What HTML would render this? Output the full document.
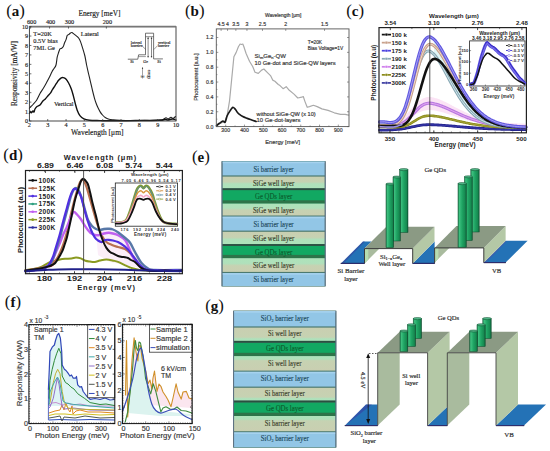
<!DOCTYPE html>
<html><head><meta charset="utf-8"><style>
html,body{margin:0;padding:0;background:#fff;}
body{width:550px;height:451px;overflow:hidden;}
svg{display:block;}
</style></head><body>
<svg width="550" height="451" viewBox="0 0 550 451">
<rect x="0" y="0" width="550" height="451" fill="#ffffff"/>
<defs>
<linearGradient id="wellDown" x1="0" y1="0" x2="0" y2="1"><stop offset="0" stop-color="#c9cfb1"/><stop offset="0.45" stop-color="#c6d2b2"/><stop offset="0.62" stop-color="#b0e0bb"/><stop offset="1" stop-color="#ade3ba"/></linearGradient>
<linearGradient id="wellUp" x1="0" y1="1" x2="0" y2="0"><stop offset="0" stop-color="#c9cfb1"/><stop offset="0.45" stop-color="#c6d2b2"/><stop offset="0.62" stop-color="#b0e0bb"/><stop offset="1" stop-color="#ade3ba"/></linearGradient>
<linearGradient id="wellDownG" x1="0" y1="0" x2="0" y2="1"><stop offset="0" stop-color="#c9cfb1"/><stop offset="0.72" stop-color="#c6d2b2"/><stop offset="0.84" stop-color="#b0e0bb"/><stop offset="1" stop-color="#ade3ba"/></linearGradient>
<linearGradient id="wellUpG" x1="0" y1="1" x2="0" y2="0"><stop offset="0" stop-color="#c9cfb1"/><stop offset="0.68" stop-color="#c6d2b2"/><stop offset="0.8" stop-color="#b0e0bb"/><stop offset="1" stop-color="#ade3ba"/></linearGradient>
<linearGradient id="pil" x1="0" y1="0" x2="1" y2="0"><stop offset="0" stop-color="#2a8a58"/><stop offset="0.18" stop-color="#3cbf7e"/><stop offset="0.5" stop-color="#1fa463"/><stop offset="0.85" stop-color="#168850"/><stop offset="1" stop-color="#0e5a36"/></linearGradient>
<linearGradient id="floorG" x1="0" y1="0" x2="1" y2="0"><stop offset="0" stop-color="#2a62b0"/><stop offset="1" stop-color="#2a7cc0"/></linearGradient>
</defs>
<text x="6.20" y="16.00" font-family="'Liberation Serif', serif" fill="#111"><tspan font-size="16.8">(</tspan><tspan font-size="15" font-weight="bold">a</tspan><tspan font-size="16.8">)</tspan></text>
<path d="M29.40,108.20 C29.67,107.92 30.40,107.12 31.00,106.50 C31.60,105.88 32.07,105.55 33.00,104.50 C33.93,103.45 35.43,102.02 36.60,100.20 C37.77,98.38 38.85,95.63 40.00,93.60 C41.15,91.57 42.38,89.88 43.50,88.00 C44.62,86.12 45.70,84.13 46.70,82.30 C47.70,80.47 48.62,78.77 49.50,77.00 C50.38,75.23 51.25,73.12 52.00,71.70 C52.75,70.28 53.33,69.62 54.00,68.50 C54.67,67.38 55.47,66.88 56.00,65.00 C56.53,63.12 56.77,59.28 57.20,57.20 C57.63,55.12 58.13,53.90 58.60,52.50 C59.07,51.10 59.48,49.50 60.00,48.80 C60.52,48.10 61.15,48.67 61.70,48.30 C62.25,47.93 62.85,47.43 63.30,46.60 C63.75,45.77 63.93,44.50 64.40,43.30 C64.87,42.10 65.63,40.70 66.10,39.40 C66.57,38.10 66.73,36.33 67.20,35.50 C67.67,34.67 68.35,34.82 68.90,34.40 C69.45,33.98 70.00,33.32 70.50,33.00 C71.00,32.68 71.35,32.35 71.90,32.50 C72.45,32.65 73.02,33.30 73.80,33.90 C74.58,34.50 75.77,35.37 76.60,36.10 C77.43,36.83 78.15,37.38 78.80,38.30 C79.45,39.22 79.85,39.93 80.50,41.60 C81.15,43.27 81.97,45.90 82.70,48.30 C83.43,50.70 84.25,53.22 84.90,56.00 C85.55,58.78 86.00,62.08 86.60,65.00 C87.20,67.92 87.83,70.62 88.50,73.50 C89.17,76.38 89.93,79.47 90.60,82.30 C91.27,85.13 91.85,87.83 92.50,90.50 C93.15,93.17 93.88,96.13 94.50,98.30 C95.12,100.47 95.63,101.95 96.20,103.50 C96.77,105.05 97.27,106.25 97.90,107.60 C98.53,108.95 99.23,110.37 100.00,111.60 C100.77,112.83 101.63,114.02 102.50,115.00 C103.37,115.98 104.12,116.80 105.20,117.50 C106.28,118.20 107.63,118.82 109.00,119.20 C110.37,119.58 111.57,119.63 113.40,119.80 C115.23,119.97 117.23,120.08 120.00,120.20 C122.77,120.32 126.67,120.48 130.00,120.50 C133.33,120.52 136.67,120.30 140.00,120.30 C143.33,120.30 147.00,120.55 150.00,120.50 C153.00,120.45 155.83,120.17 158.00,120.00 C160.17,119.83 161.67,119.87 163.00,119.50 C164.33,119.13 165.17,117.88 166.00,117.80 C166.83,117.72 167.17,119.10 168.00,119.00 C168.83,118.90 170.17,117.28 171.00,117.20 C171.83,117.12 172.25,118.62 173.00,118.50 C173.75,118.38 175.08,116.83 175.50,116.50" fill="none" stroke="#222" stroke-width="1.1" stroke-linejoin="round" stroke-linecap="round" />
<path d="M29.40,113.50 C29.58,113.17 30.15,111.62 30.50,111.50 C30.85,111.38 31.08,112.88 31.50,112.80 C31.92,112.72 32.58,111.13 33.00,111.00 C33.42,110.87 33.67,112.33 34.00,112.00 C34.33,111.67 34.50,109.92 35.00,109.00 C35.50,108.08 36.17,107.18 37.00,106.50 C37.83,105.82 39.08,105.73 40.00,104.90 C40.92,104.07 41.62,102.50 42.50,101.50 C43.38,100.50 44.38,99.85 45.30,98.90 C46.22,97.95 47.12,96.80 48.00,95.80 C48.88,94.80 49.85,93.95 50.60,92.90 C51.35,91.85 51.83,90.60 52.50,89.50 C53.17,88.40 53.92,87.35 54.60,86.30 C55.28,85.25 55.93,84.20 56.60,83.20 C57.27,82.20 57.82,81.18 58.60,80.30 C59.38,79.42 60.52,78.35 61.30,77.90 C62.08,77.45 62.53,77.42 63.30,77.60 C64.07,77.78 65.02,78.10 65.90,79.00 C66.78,79.90 67.70,81.33 68.60,83.00 C69.50,84.67 70.52,86.90 71.30,89.00 C72.08,91.10 72.63,93.17 73.30,95.60 C73.97,98.03 74.65,101.17 75.30,103.60 C75.95,106.03 76.43,108.20 77.20,110.20 C77.97,112.20 78.78,114.15 79.90,115.60 C81.02,117.05 82.35,118.13 83.90,118.90 C85.45,119.67 86.52,119.92 89.20,120.20 C91.88,120.48 96.53,120.50 100.00,120.60 C103.47,120.70 103.33,120.80 110.00,120.80 C116.67,120.80 131.67,120.67 140.00,120.60 C148.33,120.53 155.83,120.58 160.00,120.40 C164.17,120.22 163.67,119.57 165.00,119.50 C166.33,119.43 166.83,120.08 168.00,120.00 C169.17,119.92 170.83,119.08 172.00,119.00 C173.17,118.92 174.50,119.42 175.00,119.50" fill="none" stroke="#111" stroke-width="1.4" stroke-linejoin="round" stroke-linecap="round" />
<rect x="29.40" y="26.60" width="146.60" height="94.40" fill="none" stroke="#333" stroke-width="0.9" />
<line x1="29.40" y1="26.60" x2="176.00" y2="26.60" stroke="#777" stroke-width="1.8" />
<line x1="29.40" y1="121.00" x2="31.40" y2="121.00" stroke="#333" stroke-width="0.7" />
<text x="28.10" y="123.20" font-size="6.2" font-family="'Liberation Serif', serif" fill="#222" text-anchor="end" stroke="#222" stroke-width="0.15">0</text>
<line x1="29.40" y1="111.56" x2="31.40" y2="111.56" stroke="#333" stroke-width="0.7" />
<text x="28.10" y="113.76" font-size="6.2" font-family="'Liberation Serif', serif" fill="#222" text-anchor="end" stroke="#222" stroke-width="0.15">1</text>
<line x1="29.40" y1="102.12" x2="31.40" y2="102.12" stroke="#333" stroke-width="0.7" />
<text x="28.10" y="104.32" font-size="6.2" font-family="'Liberation Serif', serif" fill="#222" text-anchor="end" stroke="#222" stroke-width="0.15">2</text>
<line x1="29.40" y1="92.68" x2="31.40" y2="92.68" stroke="#333" stroke-width="0.7" />
<text x="28.10" y="94.88" font-size="6.2" font-family="'Liberation Serif', serif" fill="#222" text-anchor="end" stroke="#222" stroke-width="0.15">3</text>
<line x1="29.40" y1="83.24" x2="31.40" y2="83.24" stroke="#333" stroke-width="0.7" />
<text x="28.10" y="85.44" font-size="6.2" font-family="'Liberation Serif', serif" fill="#222" text-anchor="end" stroke="#222" stroke-width="0.15">4</text>
<line x1="29.40" y1="73.80" x2="31.40" y2="73.80" stroke="#333" stroke-width="0.7" />
<text x="28.10" y="76.00" font-size="6.2" font-family="'Liberation Serif', serif" fill="#222" text-anchor="end" stroke="#222" stroke-width="0.15">5</text>
<line x1="29.40" y1="64.36" x2="31.40" y2="64.36" stroke="#333" stroke-width="0.7" />
<text x="28.10" y="66.56" font-size="6.2" font-family="'Liberation Serif', serif" fill="#222" text-anchor="end" stroke="#222" stroke-width="0.15">6</text>
<line x1="29.40" y1="54.92" x2="31.40" y2="54.92" stroke="#333" stroke-width="0.7" />
<text x="28.10" y="57.12" font-size="6.2" font-family="'Liberation Serif', serif" fill="#222" text-anchor="end" stroke="#222" stroke-width="0.15">7</text>
<line x1="29.40" y1="45.48" x2="31.40" y2="45.48" stroke="#333" stroke-width="0.7" />
<text x="28.10" y="47.68" font-size="6.2" font-family="'Liberation Serif', serif" fill="#222" text-anchor="end" stroke="#222" stroke-width="0.15">8</text>
<line x1="29.40" y1="36.04" x2="31.40" y2="36.04" stroke="#333" stroke-width="0.7" />
<text x="28.10" y="38.24" font-size="6.2" font-family="'Liberation Serif', serif" fill="#222" text-anchor="end" stroke="#222" stroke-width="0.15">9</text>
<line x1="29.40" y1="26.60" x2="31.40" y2="26.60" stroke="#333" stroke-width="0.7" />
<text x="28.10" y="28.80" font-size="6.2" font-family="'Liberation Serif', serif" fill="#222" text-anchor="end" stroke="#222" stroke-width="0.15">10</text>
<line x1="29.40" y1="121.00" x2="29.40" y2="119.00" stroke="#333" stroke-width="0.7" />
<text x="29.40" y="126.60" font-size="6.2" font-family="'Liberation Serif', serif" fill="#222" text-anchor="middle" stroke="#222" stroke-width="0.15">2</text>
<line x1="47.72" y1="121.00" x2="47.72" y2="119.00" stroke="#333" stroke-width="0.7" />
<text x="47.72" y="126.60" font-size="6.2" font-family="'Liberation Serif', serif" fill="#222" text-anchor="middle" stroke="#222" stroke-width="0.15">3</text>
<line x1="66.05" y1="121.00" x2="66.05" y2="119.00" stroke="#333" stroke-width="0.7" />
<text x="66.05" y="126.60" font-size="6.2" font-family="'Liberation Serif', serif" fill="#222" text-anchor="middle" stroke="#222" stroke-width="0.15">4</text>
<line x1="84.38" y1="121.00" x2="84.38" y2="119.00" stroke="#333" stroke-width="0.7" />
<text x="84.38" y="126.60" font-size="6.2" font-family="'Liberation Serif', serif" fill="#222" text-anchor="middle" stroke="#222" stroke-width="0.15">5</text>
<line x1="102.70" y1="121.00" x2="102.70" y2="119.00" stroke="#333" stroke-width="0.7" />
<text x="102.70" y="126.60" font-size="6.2" font-family="'Liberation Serif', serif" fill="#222" text-anchor="middle" stroke="#222" stroke-width="0.15">6</text>
<line x1="121.03" y1="121.00" x2="121.03" y2="119.00" stroke="#333" stroke-width="0.7" />
<text x="121.03" y="126.60" font-size="6.2" font-family="'Liberation Serif', serif" fill="#222" text-anchor="middle" stroke="#222" stroke-width="0.15">7</text>
<line x1="139.35" y1="121.00" x2="139.35" y2="119.00" stroke="#333" stroke-width="0.7" />
<text x="139.35" y="126.60" font-size="6.2" font-family="'Liberation Serif', serif" fill="#222" text-anchor="middle" stroke="#222" stroke-width="0.15">8</text>
<line x1="157.68" y1="121.00" x2="157.68" y2="119.00" stroke="#333" stroke-width="0.7" />
<text x="157.68" y="126.60" font-size="6.2" font-family="'Liberation Serif', serif" fill="#222" text-anchor="middle" stroke="#222" stroke-width="0.15">9</text>
<line x1="176.00" y1="121.00" x2="176.00" y2="119.00" stroke="#333" stroke-width="0.7" />
<text x="176.00" y="126.60" font-size="6.2" font-family="'Liberation Serif', serif" fill="#222" text-anchor="middle" stroke="#222" stroke-width="0.15">10</text>
<line x1="30.62" y1="26.60" x2="30.62" y2="28.60" stroke="#333" stroke-width="0.7" />
<text x="31.62" y="24.00" font-size="6.2" font-family="'Liberation Serif', serif" fill="#222" text-anchor="middle" stroke="#222" stroke-width="0.15">600</text>
<line x1="49.56" y1="26.60" x2="49.56" y2="28.60" stroke="#333" stroke-width="0.7" />
<text x="50.56" y="24.00" font-size="6.2" font-family="'Liberation Serif', serif" fill="#222" text-anchor="middle" stroke="#222" stroke-width="0.15">400</text>
<line x1="68.49" y1="26.60" x2="68.49" y2="28.60" stroke="#333" stroke-width="0.7" />
<text x="69.49" y="24.00" font-size="6.2" font-family="'Liberation Serif', serif" fill="#222" text-anchor="middle" stroke="#222" stroke-width="0.15">300</text>
<line x1="106.37" y1="26.60" x2="106.37" y2="28.60" stroke="#333" stroke-width="0.7" />
<text x="107.37" y="24.00" font-size="6.2" font-family="'Liberation Serif', serif" fill="#222" text-anchor="middle" stroke="#222" stroke-width="0.15">200</text>
<text x="97.30" y="134.90" font-size="7.5" font-family="'Liberation Serif', serif" fill="#222" text-anchor="middle" stroke="#222" stroke-width="0.15">Wavelength [μm]</text>
<text x="99.50" y="15.80" font-size="7.35" font-family="'Liberation Serif', serif" fill="#222" text-anchor="middle" stroke="#222" stroke-width="0.15">Energy [meV]</text>
<text x="17.20" y="73.50" font-size="7.35" font-family="'Liberation Serif', serif" fill="#222" text-anchor="middle" transform="rotate(-90 17.20 73.50)" stroke="#222" stroke-width="0.15">Responsivity [mA/W]</text>
<text x="33.30" y="35.60" font-size="6.4" font-family="'Liberation Serif', serif" fill="#222" stroke="#222" stroke-width="0.15">T=20K</text>
<text x="33.30" y="42.80" font-size="6.4" font-family="'Liberation Serif', serif" fill="#222" stroke="#222" stroke-width="0.15">0.5V bias</text>
<text x="33.30" y="50.00" font-size="6.4" font-family="'Liberation Serif', serif" fill="#222" stroke="#222" stroke-width="0.15">7ML Ge</text>
<text x="80.80" y="36.20" font-size="6.4" font-family="'Liberation Serif', serif" fill="#222" stroke="#222" stroke-width="0.15">Lateral</text>
<text x="54.00" y="105.50" font-size="6.3" font-family="'Liberation Serif', serif" fill="#222" stroke="#222" stroke-width="0.15">Vertical</text>
<polyline points="128.20,59.20 137.80,59.20 138.60,54.80 145.50,54.80 145.50,33.20 153.60,33.20 153.60,58.90 162.50,58.90" fill="none" stroke="#3a3a3a" stroke-width="0.7" stroke-linejoin="round" stroke-linecap="round" />
<polyline points="138.80,56.60 145.50,56.60" fill="none" stroke="#3a3a3a" stroke-width="0.5" stroke-linejoin="round" stroke-linecap="round" />
<line x1="145.50" y1="36.70" x2="153.60" y2="36.70" stroke="#3a3a3a" stroke-width="0.6" />
<line x1="148.10" y1="37.50" x2="148.10" y2="56.80" stroke="#3a3a3a" stroke-width="0.6" />
<line x1="151.50" y1="37.50" x2="151.50" y2="56.80" stroke="#3a3a3a" stroke-width="0.6" />
<polygon points="148.10,36.90 147.30,39.00 148.90,39.00" fill="#3a3a3a" stroke="none" stroke-width="1" />
<polygon points="151.50,36.90 150.70,39.00 152.30,39.00" fill="#3a3a3a" stroke="none" stroke-width="1" />
<circle cx="148.1" cy="56.8" r="0.7" fill="#333"/><circle cx="151.5" cy="56.8" r="0.7" fill="#333"/>
<text x="130.80" y="43.60" font-size="4.4" font-family="'Liberation Serif', serif" fill="#333" stroke="#222" stroke-width="0.15">lateral</text>
<text x="130.80" y="47.20" font-size="4.4" font-family="'Liberation Serif', serif" fill="#333" stroke="#222" stroke-width="0.15">barrier</text>
<text x="157.90" y="43.60" font-size="4.2" font-family="'Liberation Serif', serif" fill="#333" stroke="#222" stroke-width="0.15">vertical</text>
<text x="157.90" y="47.20" font-size="4.2" font-family="'Liberation Serif', serif" fill="#333" stroke="#222" stroke-width="0.15">barrier</text>
<line x1="141.80" y1="45.60" x2="145.80" y2="49.50" stroke="#3a3a3a" stroke-width="0.5" />
<line x1="157.60" y1="45.60" x2="153.90" y2="49.50" stroke="#3a3a3a" stroke-width="0.5" />
<text x="130.20" y="62.80" font-size="4.2" font-family="'Liberation Serif', serif" fill="#333" stroke="#222" stroke-width="0.15">Si</text>
<text x="143.30" y="62.80" font-size="4.2" font-family="'Liberation Serif', serif" fill="#333" stroke="#222" stroke-width="0.15">Ge</text>
<text x="157.30" y="62.80" font-size="4.2" font-family="'Liberation Serif', serif" fill="#333" stroke="#222" stroke-width="0.15">Si</text>
<line x1="142.50" y1="67.50" x2="142.50" y2="78.50" stroke="#444" stroke-width="0.5" />
<polygon points="142.50,67.00 141.80,69.00 143.20,69.00" fill="#444" stroke="none" stroke-width="1" />
<text x="143.80" y="77.80" font-size="4.0" font-family="'Liberation Serif', serif" fill="#444" transform="rotate(-90 143.80 77.80)" stroke="#222" stroke-width="0.15">E</text>
<text x="148.00" y="69.80" font-size="3.4" font-family="'Liberation Serif', serif" fill="#555" transform="rotate(90 148.00 69.80)" stroke="#222" stroke-width="0.15">energy</text>
<text x="185.00" y="16.00" font-family="'Liberation Serif', serif" fill="#111"><tspan font-size="16.8">(</tspan><tspan font-size="15" font-weight="bold">b</tspan><tspan font-size="16.8">)</tspan></text>
<path d="M216.60,125.50 L219.00,124.00 L222.90,122.20 L225.10,121.00 L227.30,114.40 L229.50,101.10 L231.70,79.00 L233.90,56.80 L236.20,52.40 L238.40,46.80 L240.10,44.00 L241.50,44.50 L242.80,44.00 L243.90,46.80 L246.10,53.50 L249.50,61.20 L252.80,66.80 L255.00,72.30 L258.30,73.40 L261.60,70.10 L263.90,69.00 L267.20,72.30 L270.50,75.60 L272.70,80.10 L274.90,81.20 L278.30,84.50 L280.00,85.60 L283.10,88.70 L286.20,86.70 L289.30,90.30 L294.00,94.10 L297.80,98.00 L301.70,97.20 L303.30,96.50 L304.80,101.10 L307.20,107.30 L309.50,106.60 L313.40,105.30 L317.20,106.60 L321.90,108.90 L328.10,110.40 L334.30,112.80 L340.50,114.30 L345.20,114.30 L348.60,115.10" fill="none" stroke="#aaaaaa" stroke-width="1.2" stroke-linejoin="round" stroke-linecap="round" />
<path d="M216.60,125.50 C217.08,125.13 218.45,124.05 219.50,123.30 C220.55,122.55 221.97,121.18 222.90,121.00 C223.83,120.82 224.37,123.12 225.10,122.20 C225.83,121.28 226.38,117.53 227.30,115.50 C228.22,113.47 229.68,111.37 230.60,110.00 C231.52,108.63 232.07,107.48 232.80,107.30 C233.53,107.12 234.25,108.08 235.00,108.90 C235.75,109.72 236.55,111.28 237.30,112.20 C238.05,113.12 238.58,113.67 239.50,114.40 C240.42,115.13 241.52,115.93 242.80,116.60 C244.08,117.27 245.72,117.83 247.20,118.40 C248.68,118.97 250.22,119.48 251.70,120.00 C253.18,120.52 255.37,121.25 256.10,121.50" fill="none" stroke="#1a1a1a" stroke-width="1.7" stroke-linejoin="round" stroke-linecap="round" />
<rect x="216.30" y="28.90" width="132.70" height="97.70" fill="none" stroke="#555" stroke-width="0.9" />
<line x1="216.30" y1="126.60" x2="218.30" y2="126.60" stroke="#555" stroke-width="0.6" />
<line x1="349.00" y1="126.60" x2="347.00" y2="126.60" stroke="#555" stroke-width="0.6" />
<text x="213.30" y="128.50" font-size="5.2" font-family="'Liberation Sans', sans-serif" fill="#3a3a3a" text-anchor="end" stroke="#3a3a3a" stroke-width="0.18">0.0</text>
<line x1="216.30" y1="111.75" x2="218.30" y2="111.75" stroke="#555" stroke-width="0.6" />
<line x1="349.00" y1="111.75" x2="347.00" y2="111.75" stroke="#555" stroke-width="0.6" />
<line x1="216.30" y1="119.15" x2="217.50" y2="119.15" stroke="#555" stroke-width="0.5" />
<text x="213.30" y="113.65" font-size="5.2" font-family="'Liberation Sans', sans-serif" fill="#3a3a3a" text-anchor="end" stroke="#3a3a3a" stroke-width="0.18">0.2</text>
<line x1="216.30" y1="96.90" x2="218.30" y2="96.90" stroke="#555" stroke-width="0.6" />
<line x1="349.00" y1="96.90" x2="347.00" y2="96.90" stroke="#555" stroke-width="0.6" />
<line x1="216.30" y1="104.30" x2="217.50" y2="104.30" stroke="#555" stroke-width="0.5" />
<text x="213.30" y="98.80" font-size="5.2" font-family="'Liberation Sans', sans-serif" fill="#3a3a3a" text-anchor="end" stroke="#3a3a3a" stroke-width="0.18">0.4</text>
<line x1="216.30" y1="82.05" x2="218.30" y2="82.05" stroke="#555" stroke-width="0.6" />
<line x1="349.00" y1="82.05" x2="347.00" y2="82.05" stroke="#555" stroke-width="0.6" />
<line x1="216.30" y1="89.45" x2="217.50" y2="89.45" stroke="#555" stroke-width="0.5" />
<text x="213.30" y="83.95" font-size="5.2" font-family="'Liberation Sans', sans-serif" fill="#3a3a3a" text-anchor="end" stroke="#3a3a3a" stroke-width="0.18">0.6</text>
<line x1="216.30" y1="67.20" x2="218.30" y2="67.20" stroke="#555" stroke-width="0.6" />
<line x1="349.00" y1="67.20" x2="347.00" y2="67.20" stroke="#555" stroke-width="0.6" />
<line x1="216.30" y1="74.60" x2="217.50" y2="74.60" stroke="#555" stroke-width="0.5" />
<text x="213.30" y="69.10" font-size="5.2" font-family="'Liberation Sans', sans-serif" fill="#3a3a3a" text-anchor="end" stroke="#3a3a3a" stroke-width="0.18">0.8</text>
<line x1="216.30" y1="52.35" x2="218.30" y2="52.35" stroke="#555" stroke-width="0.6" />
<line x1="349.00" y1="52.35" x2="347.00" y2="52.35" stroke="#555" stroke-width="0.6" />
<line x1="216.30" y1="59.75" x2="217.50" y2="59.75" stroke="#555" stroke-width="0.5" />
<text x="213.30" y="54.25" font-size="5.2" font-family="'Liberation Sans', sans-serif" fill="#3a3a3a" text-anchor="end" stroke="#3a3a3a" stroke-width="0.18">1.0</text>
<line x1="216.30" y1="37.50" x2="218.30" y2="37.50" stroke="#555" stroke-width="0.6" />
<line x1="349.00" y1="37.50" x2="347.00" y2="37.50" stroke="#555" stroke-width="0.6" />
<line x1="216.30" y1="44.90" x2="217.50" y2="44.90" stroke="#555" stroke-width="0.5" />
<text x="213.30" y="39.40" font-size="5.2" font-family="'Liberation Sans', sans-serif" fill="#3a3a3a" text-anchor="end" stroke="#3a3a3a" stroke-width="0.18">1.2</text>
<line x1="225.69" y1="126.60" x2="225.69" y2="124.60" stroke="#555" stroke-width="0.6" />
<line x1="216.28" y1="126.60" x2="216.28" y2="125.40" stroke="#555" stroke-width="0.5" />
<text x="225.69" y="132.00" font-size="5.2" font-family="'Liberation Sans', sans-serif" fill="#3a3a3a" text-anchor="middle" stroke="#3a3a3a" stroke-width="0.18">300</text>
<line x1="244.46" y1="126.60" x2="244.46" y2="124.60" stroke="#555" stroke-width="0.6" />
<line x1="235.06" y1="126.60" x2="235.06" y2="125.40" stroke="#555" stroke-width="0.5" />
<text x="244.46" y="132.00" font-size="5.2" font-family="'Liberation Sans', sans-serif" fill="#3a3a3a" text-anchor="middle" stroke="#3a3a3a" stroke-width="0.18">400</text>
<line x1="263.23" y1="126.60" x2="263.23" y2="124.60" stroke="#555" stroke-width="0.6" />
<line x1="253.83" y1="126.60" x2="253.83" y2="125.40" stroke="#555" stroke-width="0.5" />
<text x="263.23" y="132.00" font-size="5.2" font-family="'Liberation Sans', sans-serif" fill="#3a3a3a" text-anchor="middle" stroke="#3a3a3a" stroke-width="0.18">500</text>
<line x1="282.00" y1="126.60" x2="282.00" y2="124.60" stroke="#555" stroke-width="0.6" />
<line x1="272.60" y1="126.60" x2="272.60" y2="125.40" stroke="#555" stroke-width="0.5" />
<text x="282.00" y="132.00" font-size="5.2" font-family="'Liberation Sans', sans-serif" fill="#3a3a3a" text-anchor="middle" stroke="#3a3a3a" stroke-width="0.18">600</text>
<line x1="300.76" y1="126.60" x2="300.76" y2="124.60" stroke="#555" stroke-width="0.6" />
<line x1="291.37" y1="126.60" x2="291.37" y2="125.40" stroke="#555" stroke-width="0.5" />
<text x="300.76" y="132.00" font-size="5.2" font-family="'Liberation Sans', sans-serif" fill="#3a3a3a" text-anchor="middle" stroke="#3a3a3a" stroke-width="0.18">700</text>
<line x1="319.54" y1="126.60" x2="319.54" y2="124.60" stroke="#555" stroke-width="0.6" />
<line x1="310.14" y1="126.60" x2="310.14" y2="125.40" stroke="#555" stroke-width="0.5" />
<text x="319.54" y="132.00" font-size="5.2" font-family="'Liberation Sans', sans-serif" fill="#3a3a3a" text-anchor="middle" stroke="#3a3a3a" stroke-width="0.18">800</text>
<line x1="338.31" y1="126.60" x2="338.31" y2="124.60" stroke="#555" stroke-width="0.6" />
<line x1="328.91" y1="126.60" x2="328.91" y2="125.40" stroke="#555" stroke-width="0.5" />
<text x="338.31" y="132.00" font-size="5.2" font-family="'Liberation Sans', sans-serif" fill="#3a3a3a" text-anchor="middle" stroke="#3a3a3a" stroke-width="0.18">900</text>
<line x1="221.10" y1="28.90" x2="221.10" y2="30.90" stroke="#555" stroke-width="0.6" />
<text x="221.10" y="26.30" font-size="5.2" font-family="'Liberation Sans', sans-serif" fill="#3a3a3a" text-anchor="middle" stroke="#3a3a3a" stroke-width="0.18">4.5</text>
<line x1="227.56" y1="28.90" x2="227.56" y2="30.90" stroke="#555" stroke-width="0.6" />
<text x="227.56" y="26.30" font-size="5.2" font-family="'Liberation Sans', sans-serif" fill="#3a3a3a" text-anchor="middle" stroke="#3a3a3a" stroke-width="0.18">4</text>
<line x1="235.87" y1="28.90" x2="235.87" y2="30.90" stroke="#555" stroke-width="0.6" />
<text x="235.87" y="26.30" font-size="5.2" font-family="'Liberation Sans', sans-serif" fill="#3a3a3a" text-anchor="middle" stroke="#3a3a3a" stroke-width="0.18">3.5</text>
<line x1="246.96" y1="28.90" x2="246.96" y2="30.90" stroke="#555" stroke-width="0.6" />
<text x="246.96" y="26.30" font-size="5.2" font-family="'Liberation Sans', sans-serif" fill="#3a3a3a" text-anchor="middle" stroke="#3a3a3a" stroke-width="0.18">3</text>
<line x1="262.47" y1="28.90" x2="262.47" y2="30.90" stroke="#555" stroke-width="0.6" />
<text x="262.47" y="26.30" font-size="5.2" font-family="'Liberation Sans', sans-serif" fill="#3a3a3a" text-anchor="middle" stroke="#3a3a3a" stroke-width="0.18">2.5</text>
<line x1="285.75" y1="28.90" x2="285.75" y2="30.90" stroke="#555" stroke-width="0.6" />
<text x="285.75" y="26.30" font-size="5.2" font-family="'Liberation Sans', sans-serif" fill="#3a3a3a" text-anchor="middle" stroke="#3a3a3a" stroke-width="0.18">2</text>
<line x1="324.54" y1="28.90" x2="324.54" y2="30.90" stroke="#555" stroke-width="0.6" />
<text x="324.54" y="26.30" font-size="5.2" font-family="'Liberation Sans', sans-serif" fill="#3a3a3a" text-anchor="middle" stroke="#3a3a3a" stroke-width="0.18">1.5</text>
<text x="283.20" y="16.90" font-size="4.86" font-family="'Liberation Sans', sans-serif" fill="#3a3a3a" text-anchor="middle" stroke="#3a3a3a" stroke-width="0.18">Wavelength [μm]</text>
<text x="282.70" y="143.60" font-size="5.78" font-family="'Liberation Sans', sans-serif" fill="#3a3a3a" text-anchor="middle" stroke="#3a3a3a" stroke-width="0.18">Energy [meV]</text>
<text x="198.10" y="77.00" font-size="5.77" font-family="'Liberation Sans', sans-serif" fill="#3a3a3a" text-anchor="middle" transform="rotate(-90 198.10 77.00)" stroke="#3a3a3a" stroke-width="0.18">Photocurrent [a.u.]</text>
<text x="254.6" y="57.6" font-size="6.0" font-family="'Liberation Sans', sans-serif" fill="#333" stroke="#3a3a3a" stroke-width="0.18">Si<tspan font-size="4.0" dy="1.6">m</tspan><tspan dy="-1.6">Ge</tspan><tspan font-size="4.0" dy="1.6">n</tspan><tspan dy="-1.6">-QW</tspan></text>
<text x="254.60" y="65.30" font-size="5.83" font-family="'Liberation Sans', sans-serif" fill="#333" stroke="#3a3a3a" stroke-width="0.18">10 Ge-dot and SiGe-QW layers</text>
<text x="307.80" y="43.80" font-size="4.8" font-family="'Liberation Sans', sans-serif" fill="#3a3a3a" stroke="#3a3a3a" stroke-width="0.18">T=20K</text>
<text x="307.80" y="49.90" font-size="4.8" font-family="'Liberation Sans', sans-serif" fill="#3a3a3a" stroke="#3a3a3a" stroke-width="0.18">Bias Voltage=1V</text>
<text x="256.60" y="116.40" font-size="5.6" font-family="'Liberation Sans', sans-serif" fill="#333" stroke="#3a3a3a" stroke-width="0.18">without SiGe-QW (x 10)</text>
<text x="256.60" y="122.20" font-size="5.9" font-family="'Liberation Sans', sans-serif" fill="#333" stroke="#3a3a3a" stroke-width="0.18">10 Ge-dot-layers</text>
<text x="346.20" y="15.90" font-family="'Liberation Serif', serif" fill="#111"><tspan font-size="16.8">(</tspan><tspan font-size="15" font-weight="bold">c</tspan><tspan font-size="16.8">)</tspan></text>
<path d="M398.00,120.56 C398.24,120.43 398.95,120.05 399.42,119.77 C399.89,119.49 400.37,119.18 400.84,118.86 C401.32,118.53 401.79,118.19 402.26,117.82 C402.74,117.46 403.21,117.08 403.68,116.67 C404.16,116.27 404.63,115.85 405.11,115.41 C405.58,114.97 406.05,114.51 406.53,114.04 C407.00,113.57 407.47,113.08 407.95,112.59 C408.42,112.09 408.90,111.58 409.37,111.07 C409.84,110.55 410.32,110.03 410.79,109.50 C411.26,108.98 411.74,108.45 412.21,107.93 C412.68,107.40 413.16,106.88 413.63,106.36 C414.11,105.85 414.58,105.34 415.05,104.84 C415.53,104.35 416.00,103.86 416.47,103.40 C416.95,102.93 417.42,102.48 417.90,102.06 C418.37,101.63 418.84,101.22 419.32,100.84 C419.79,100.46 420.26,100.11 420.74,99.78 C421.21,99.45 421.69,99.15 422.16,98.88 C422.63,98.61 423.11,98.37 423.58,98.16 C424.05,97.95 424.53,97.78 425.00,97.63 C425.47,97.48 425.95,97.36 426.42,97.26 C426.90,97.17 427.37,97.11 427.84,97.06 C428.32,97.02 428.79,97.00 429.26,97.00 C429.74,97.00 430.21,97.03 430.69,97.07 C431.16,97.11 431.63,97.18 432.11,97.26 C432.58,97.34 433.05,97.43 433.53,97.54 C434.00,97.65 434.48,97.77 434.95,97.90 C435.42,98.03 435.90,98.17 436.37,98.32 C436.84,98.47 437.32,98.63 437.79,98.80 C438.26,98.97 438.74,99.14 439.21,99.33 C439.69,99.51 440.16,99.70 440.63,99.90 C441.11,100.10 441.58,100.30 442.05,100.51 C442.53,100.72 443.00,100.94 443.48,101.16 C443.95,101.38 444.42,101.61 444.90,101.83 C445.37,102.06 445.84,102.30 446.32,102.53 C446.79,102.77 447.27,103.01 447.74,103.25 C448.21,103.49 448.69,103.73 449.16,103.98 C449.63,104.22 450.11,104.47 450.58,104.72 C451.05,104.96 451.53,105.21 452.00,105.46 C452.48,105.71 452.95,105.96 453.42,106.21 C453.90,106.46 454.37,106.71 454.84,106.96 C455.32,107.21 455.79,107.46 456.27,107.71 C456.74,107.95 457.21,108.20 457.69,108.45 C458.16,108.69 458.63,108.94 459.11,109.18 C459.58,109.42 460.06,109.66 460.53,109.90 C461.00,110.13 461.48,110.37 461.95,110.60 C462.42,110.84 462.90,111.07 463.37,111.29 C463.84,111.52 464.32,111.75 464.79,111.97 C465.27,112.19 465.74,112.41 466.21,112.62 C466.69,112.84 467.16,113.05 467.63,113.26 C468.11,113.47 468.58,113.68 469.06,113.88 C469.53,114.08 470.00,114.28 470.48,114.47 C470.95,114.67 471.42,114.86 471.90,115.05 C472.37,115.24 472.85,115.42 473.32,115.60 C473.79,115.78 474.27,115.96 474.74,116.13 C475.21,116.30 475.69,116.47 476.16,116.64 C476.63,116.80 477.11,116.96 477.58,117.12 C478.06,117.28 478.53,117.43 479.00,117.58 C479.48,117.73 479.95,117.88 480.42,118.02 C480.90,118.16 481.37,118.30 481.85,118.44 C482.32,118.57 482.79,118.70 483.27,118.83 C483.74,118.96 484.21,119.08 484.69,119.21 C485.16,119.33 485.64,119.44 486.11,119.56 C486.58,119.67 487.06,119.78 487.53,119.89 C488.00,120.00 488.48,120.10 488.95,120.20 C489.42,120.30 489.90,120.40 490.37,120.50 C490.85,120.59 491.32,120.68 491.79,120.77 C492.27,120.86 492.74,120.94 493.21,121.03 C493.69,121.11 494.16,121.19 494.64,121.27 C495.11,121.35 495.58,121.42 496.06,121.49 C496.53,121.56 497.00,121.63 497.48,121.70 C497.95,121.77 498.43,121.83 498.90,121.89 C499.37,121.96 499.85,122.02 500.32,122.08 C500.79,122.13 501.27,122.19 501.74,122.24 C502.21,122.30 502.69,122.35 503.16,122.40 C503.64,122.45 504.11,122.49 504.58,122.54 C505.06,122.59 505.53,122.63 506.00,122.67 C506.48,122.71 506.95,122.75 507.43,122.79 C507.90,122.83 508.37,122.87 508.85,122.90 C509.32,122.94 509.79,122.97 510.27,123.01 C510.74,123.04 511.22,123.07 511.69,123.10 C512.16,123.13 512.64,123.16 513.11,123.19 C513.58,123.21 514.06,123.24 514.53,123.27 C515.00,123.29 515.48,123.31 515.95,123.34 C516.43,123.36 516.90,123.38 517.37,123.40 C517.85,123.42 518.32,123.44 518.79,123.46 C519.27,123.48 519.74,123.50 520.22,123.52 C520.69,123.53 521.16,123.55 521.64,123.57 C522.11,123.58 522.58,123.60 523.06,123.61 C523.53,123.63 524.01,123.64 524.48,123.65 C524.95,123.66 525.66,123.68 525.90,123.69 L525.90,126.80 L524.48,126.78 L523.06,126.75 L521.64,126.73 L520.22,126.70 L518.79,126.66 L517.37,126.62 L515.95,126.58 L514.53,126.54 L513.11,126.49 L511.69,126.43 L510.27,126.37 L508.85,126.31 L507.43,126.24 L506.00,126.16 L504.58,126.08 L503.16,125.99 L501.74,125.89 L500.32,125.79 L498.90,125.67 L497.48,125.55 L496.06,125.42 L494.64,125.28 L493.21,125.13 L491.79,124.97 L490.37,124.79 L488.95,124.61 L487.53,124.41 L486.11,124.20 L484.69,123.98 L483.27,123.75 L481.85,123.50 L480.42,123.24 L479.00,122.96 L477.58,122.67 L476.16,122.36 L474.74,122.04 L473.32,121.71 L471.90,121.36 L470.48,121.00 L469.06,120.63 L467.63,120.24 L466.21,119.84 L464.79,119.42 L463.37,119.00 L461.95,118.56 L460.53,118.12 L459.11,117.67 L457.69,117.21 L456.27,116.74 L454.84,116.27 L453.42,115.80 L452.00,115.33 L450.58,114.86 L449.16,114.39 L447.74,113.93 L446.32,113.48 L444.90,113.04 L443.48,112.62 L442.05,112.21 L440.63,111.83 L439.21,111.47 L437.79,111.13 L436.37,110.83 L434.95,110.56 L433.53,110.34 L432.11,110.16 L430.69,110.04 L429.26,110.00 L427.84,110.04 L426.42,110.17 L425.00,110.39 L423.58,110.73 L422.16,111.19 L420.74,111.75 L419.32,112.42 L417.90,113.18 L416.47,114.03 L415.05,114.94 L413.63,115.89 L412.21,116.88 L410.79,117.87 L409.37,118.86 L407.95,119.81 L406.53,120.73 L405.11,121.59 L403.68,122.39 L402.26,123.11 L400.84,123.76 L399.42,124.34 L398.00,124.84 Z" fill="#fbe3f5"/>
<path d="M434.00,39.41 C434.17,39.58 434.68,40.08 435.02,40.45 C435.36,40.82 435.70,41.22 436.04,41.63 C436.38,42.05 436.72,42.48 437.06,42.93 C437.40,43.38 437.74,43.86 438.08,44.34 C438.42,44.83 438.77,45.33 439.11,45.85 C439.45,46.36 439.79,46.89 440.13,47.44 C440.47,47.98 440.81,48.54 441.15,49.11 C441.49,49.68 441.83,50.26 442.17,50.85 C442.51,51.43 442.85,52.04 443.19,52.64 C443.53,53.25 443.87,53.87 444.21,54.49 C444.55,55.12 444.89,55.75 445.23,56.39 C445.57,57.02 445.91,57.67 446.25,58.32 C446.59,58.96 446.93,59.62 447.27,60.27 C447.61,60.93 447.96,61.59 448.30,62.25 C448.64,62.92 448.98,63.58 449.32,64.25 C449.66,64.92 450.00,65.58 450.34,66.25 C450.68,66.92 451.02,67.59 451.36,68.26 C451.70,68.93 452.04,69.60 452.38,70.27 C452.72,70.93 453.06,71.60 453.40,72.27 C453.74,72.93 454.08,73.59 454.42,74.25 C454.76,74.91 455.10,75.57 455.44,76.22 C455.78,76.88 456.12,77.53 456.46,78.17 C456.80,78.82 457.15,79.46 457.49,80.10 C457.83,80.73 458.17,81.37 458.51,81.99 C458.85,82.62 459.19,83.24 459.53,83.86 C459.87,84.48 460.21,85.09 460.55,85.69 C460.89,86.30 461.23,86.89 461.57,87.49 C461.91,88.08 462.25,88.66 462.59,89.24 C462.93,89.82 463.27,90.39 463.61,90.96 C463.95,91.52 464.29,92.08 464.63,92.63 C464.97,93.18 465.31,93.72 465.65,94.26 C465.99,94.79 466.34,95.32 466.68,95.84 C467.02,96.36 467.36,96.87 467.70,97.37 C468.04,97.88 468.38,98.37 468.72,98.86 C469.06,99.35 469.40,99.83 469.74,100.30 C470.08,100.77 470.42,101.24 470.76,101.69 C471.10,102.15 471.44,102.59 471.78,103.03 C472.12,103.47 472.46,103.90 472.80,104.33 C473.14,104.75 473.48,105.17 473.82,105.57 C474.16,105.98 474.50,106.38 474.84,106.77 C475.18,107.16 475.53,107.54 475.87,107.92 C476.21,108.29 476.55,108.66 476.89,109.02 C477.23,109.38 477.57,109.73 477.91,110.08 C478.25,110.42 478.59,110.76 478.93,111.09 C479.27,111.41 479.61,111.74 479.95,112.05 C480.29,112.36 480.63,112.67 480.97,112.97 C481.31,113.27 481.65,113.56 481.99,113.85 C482.33,114.13 482.67,114.41 483.01,114.68 C483.35,114.95 483.69,115.22 484.03,115.48 C484.37,115.74 484.72,115.99 485.06,116.23 C485.40,116.48 485.74,116.72 486.08,116.95 C486.42,117.18 486.76,117.41 487.10,117.63 C487.44,117.85 487.78,118.06 488.12,118.27 C488.46,118.48 488.80,118.68 489.14,118.88 C489.48,119.08 489.82,119.27 490.16,119.45 C490.50,119.64 490.84,119.82 491.18,120.00 C491.52,120.17 491.86,120.34 492.20,120.51 C492.54,120.67 492.88,120.83 493.22,120.99 C493.56,121.15 493.91,121.30 494.25,121.44 C494.59,121.59 494.93,121.73 495.27,121.87 C495.61,122.01 495.95,122.14 496.29,122.27 C496.63,122.40 496.97,122.52 497.31,122.65 C497.65,122.77 497.99,122.89 498.33,123.00 C498.67,123.11 499.01,123.22 499.35,123.33 C499.69,123.44 500.03,123.54 500.37,123.64 C500.71,123.74 501.05,123.83 501.39,123.93 C501.73,124.02 502.07,124.11 502.41,124.20 C502.75,124.28 503.10,124.37 503.44,124.45 C503.78,124.53 504.12,124.61 504.46,124.68 C504.80,124.76 505.14,124.83 505.48,124.90 C505.82,124.97 506.16,125.04 506.50,125.11 C506.84,125.17 507.18,125.23 507.52,125.30 C507.86,125.36 508.20,125.42 508.54,125.47 C508.88,125.53 509.22,125.58 509.56,125.64 C509.90,125.69 510.24,125.74 510.58,125.79 C510.92,125.84 511.26,125.88 511.60,125.93 C511.94,125.97 512.29,126.01 512.63,126.06 C512.97,126.10 513.31,126.14 513.65,126.18 C513.99,126.22 514.33,126.25 514.67,126.29 C515.01,126.32 515.35,126.36 515.69,126.39 C516.03,126.42 516.37,126.45 516.71,126.49 C517.05,126.52 517.39,126.54 517.73,126.57 C518.07,126.60 518.41,126.63 518.75,126.65 C519.09,126.68 519.43,126.70 519.77,126.73 C520.11,126.75 520.45,126.77 520.79,126.79 C521.13,126.82 521.48,126.84 521.82,126.86 C522.16,126.88 522.50,126.90 522.84,126.91 C523.18,126.93 523.52,126.95 523.86,126.97 C524.20,126.98 524.54,127.00 524.88,127.02 C525.22,127.03 525.73,127.05 525.90,127.06 L525.90,127.40 L524.88,127.38 L523.86,127.37 L522.84,127.35 L521.82,127.33 L520.79,127.31 L519.77,127.29 L518.75,127.27 L517.73,127.24 L516.71,127.21 L515.69,127.18 L514.67,127.14 L513.65,127.10 L512.63,127.05 L511.60,127.00 L510.58,126.95 L509.56,126.89 L508.54,126.82 L507.52,126.75 L506.50,126.67 L505.48,126.58 L504.46,126.48 L503.44,126.37 L502.41,126.26 L501.39,126.13 L500.37,126.00 L499.35,125.85 L498.33,125.68 L497.31,125.51 L496.29,125.32 L495.27,125.11 L494.25,124.88 L493.22,124.64 L492.20,124.37 L491.18,124.09 L490.16,123.78 L489.14,123.45 L488.12,123.10 L487.10,122.72 L486.08,122.31 L485.06,121.87 L484.03,121.40 L483.01,120.90 L481.99,120.37 L480.97,119.80 L479.95,119.19 L478.93,118.54 L477.91,117.86 L476.89,117.13 L475.87,116.36 L474.84,115.55 L473.82,114.69 L472.80,113.78 L471.78,112.83 L470.76,111.82 L469.74,110.77 L468.72,109.67 L467.70,108.51 L466.68,107.30 L465.65,106.05 L464.63,104.74 L463.61,103.37 L462.59,101.96 L461.57,100.49 L460.55,98.98 L459.53,97.42 L458.51,95.81 L457.49,94.15 L456.46,92.46 L455.44,90.72 L454.42,88.95 L453.40,87.14 L452.38,85.31 L451.36,83.45 L450.34,81.57 L449.32,79.67 L448.30,77.77 L447.27,75.86 L446.25,73.96 L445.23,72.06 L444.21,70.19 L443.19,68.34 L442.17,66.52 L441.15,64.75 L440.13,63.03 L439.11,61.37 L438.08,59.79 L437.06,58.29 L436.04,56.88 L435.02,55.58 L434.00,54.41 Z" fill="#e0f6f7"/>
<path d="M379.50,130.19 C379.77,130.19 380.58,130.19 381.13,130.19 C381.67,130.18 382.21,130.16 382.75,130.15 C383.30,130.14 383.84,130.13 384.38,130.11 C384.92,130.10 385.46,130.08 386.01,130.07 C386.55,130.05 387.09,130.03 387.63,130.01 C388.18,130.00 388.72,129.98 389.26,129.95 C389.80,129.93 390.34,129.91 390.89,129.88 C391.43,129.86 391.97,129.83 392.51,129.80 C393.06,129.77 393.60,129.73 394.14,129.70 C394.68,129.66 395.22,129.62 395.77,129.57 C396.31,129.53 396.85,129.48 397.39,129.42 C397.94,129.37 398.48,129.31 399.02,129.25 C399.56,129.19 400.10,129.12 400.65,129.05 C401.19,128.98 401.73,128.90 402.27,128.82 C402.82,128.73 403.36,128.65 403.90,128.56 C404.44,128.48 404.98,128.39 405.53,128.29 C406.07,128.20 406.61,128.10 407.15,127.99 C407.70,127.89 408.24,127.78 408.78,127.67 C409.32,127.55 409.86,127.44 410.41,127.32 C410.95,127.21 411.49,127.09 412.03,126.97 C412.58,126.85 413.12,126.73 413.66,126.61 C414.20,126.49 414.74,126.38 415.29,126.26 C415.83,126.15 416.37,126.04 416.91,125.93 C417.46,125.83 418.00,125.73 418.54,125.63 C419.08,125.54 419.62,125.44 420.17,125.36 C420.71,125.28 421.25,125.20 421.79,125.14 C422.34,125.07 422.88,125.01 423.42,124.96 C423.96,124.91 424.50,124.86 425.05,124.83 C425.59,124.79 426.13,124.77 426.67,124.75 C427.22,124.73 427.76,124.71 428.30,124.71 C428.84,124.70 429.38,124.70 429.93,124.70 C430.47,124.71 431.01,124.72 431.55,124.73 C432.10,124.74 432.64,124.75 433.18,124.77 C433.72,124.79 434.26,124.81 434.81,124.83 C435.35,124.86 435.89,124.88 436.43,124.91 C436.98,124.93 437.52,124.96 438.06,124.99 C438.60,125.03 439.14,125.06 439.69,125.09 C440.23,125.13 440.77,125.16 441.31,125.20 C441.86,125.24 442.40,125.27 442.94,125.31 C443.48,125.35 444.02,125.39 444.57,125.44 C445.11,125.48 445.65,125.52 446.19,125.56 C446.74,125.61 447.28,125.65 447.82,125.69 C448.36,125.74 448.90,125.79 449.45,125.83 C449.99,125.88 450.53,125.92 451.07,125.97 C451.62,126.02 452.16,126.06 452.70,126.11 C453.24,126.16 453.78,126.21 454.33,126.26 C454.87,126.30 455.41,126.35 455.95,126.40 C456.50,126.45 457.04,126.50 457.58,126.54 C458.12,126.59 458.66,126.64 459.21,126.69 C459.75,126.73 460.29,126.78 460.83,126.83 C461.38,126.88 461.92,126.92 462.46,126.97 C463.00,127.02 463.54,127.06 464.09,127.11 C464.63,127.15 465.17,127.20 465.71,127.25 C466.26,127.29 466.80,127.33 467.34,127.38 C467.88,127.42 468.42,127.47 468.97,127.51 C469.51,127.55 470.05,127.59 470.59,127.64 C471.14,127.68 471.68,127.72 472.22,127.76 C472.76,127.80 473.30,127.84 473.85,127.88 C474.39,127.92 474.93,127.95 475.47,127.99 C476.02,128.03 476.56,128.07 477.10,128.10 C477.64,128.14 478.18,128.17 478.73,128.21 C479.27,128.24 479.81,128.28 480.35,128.31 C480.90,128.34 481.44,128.38 481.98,128.41 C482.52,128.44 483.06,128.47 483.61,128.50 C484.15,128.53 484.69,128.56 485.23,128.59 C485.78,128.62 486.32,128.65 486.86,128.67 C487.40,128.70 487.94,128.73 488.49,128.75 C489.03,128.78 489.57,128.81 490.11,128.83 C490.66,128.85 491.20,128.88 491.74,128.90 C492.28,128.92 492.82,128.95 493.37,128.97 C493.91,128.99 494.45,129.01 494.99,129.03 C495.54,129.05 496.08,129.07 496.62,129.09 C497.16,129.11 497.70,129.13 498.25,129.15 C498.79,129.16 499.33,129.18 499.87,129.20 C500.42,129.22 500.96,129.23 501.50,129.25 C502.04,129.26 502.58,129.28 503.13,129.29 C503.67,129.31 504.21,129.32 504.75,129.34 C505.30,129.35 505.84,129.36 506.38,129.38 C506.92,129.39 507.46,129.40 508.01,129.41 C508.55,129.42 509.09,129.43 509.63,129.45 C510.18,129.46 510.72,129.47 511.26,129.48 C511.80,129.49 512.34,129.50 512.89,129.51 C513.43,129.52 513.97,129.52 514.51,129.53 C515.06,129.54 515.60,129.55 516.14,129.56 C516.68,129.57 517.22,129.57 517.77,129.58 C518.31,129.59 518.85,129.59 519.39,129.60 C519.94,129.61 520.48,129.61 521.02,129.62 C521.56,129.63 522.10,129.63 522.65,129.64 C523.19,129.64 523.73,129.65 524.27,129.65 C524.82,129.66 525.63,129.67 525.90,129.67" fill="none" stroke="#24248c" stroke-width="2.8" stroke-linejoin="round" stroke-linecap="round" />
<path d="M379.50,130.19 C379.77,130.19 380.58,130.19 381.13,130.19 C381.67,130.18 382.21,130.16 382.75,130.15 C383.30,130.14 383.84,130.13 384.38,130.11 C384.92,130.10 385.46,130.08 386.01,130.07 C386.55,130.05 387.09,130.03 387.63,130.01 C388.18,130.00 388.72,129.98 389.26,129.95 C389.80,129.93 390.34,129.91 390.89,129.88 C391.43,129.86 391.97,129.83 392.51,129.80 C393.06,129.77 393.60,129.73 394.14,129.70 C394.68,129.66 395.22,129.62 395.77,129.57 C396.31,129.53 396.85,129.48 397.39,129.42 C397.94,129.37 398.48,129.31 399.02,129.25 C399.56,129.19 400.10,129.12 400.65,129.05 C401.19,128.98 401.73,128.90 402.27,128.82 C402.82,128.73 403.36,128.65 403.90,128.56 C404.44,128.48 404.98,128.39 405.53,128.29 C406.07,128.20 406.61,128.10 407.15,127.99 C407.70,127.89 408.24,127.78 408.78,127.67 C409.32,127.55 409.86,127.44 410.41,127.32 C410.95,127.21 411.49,127.09 412.03,126.97 C412.58,126.85 413.12,126.73 413.66,126.61 C414.20,126.49 414.74,126.38 415.29,126.26 C415.83,126.15 416.37,126.04 416.91,125.93 C417.46,125.83 418.00,125.73 418.54,125.63 C419.08,125.54 419.62,125.44 420.17,125.36 C420.71,125.28 421.25,125.20 421.79,125.14 C422.34,125.07 422.88,125.01 423.42,124.96 C423.96,124.91 424.50,124.86 425.05,124.83 C425.59,124.79 426.13,124.77 426.67,124.75 C427.22,124.73 427.76,124.71 428.30,124.71 C428.84,124.70 429.38,124.70 429.93,124.70 C430.47,124.71 431.01,124.72 431.55,124.73 C432.10,124.74 432.64,124.75 433.18,124.77 C433.72,124.79 434.26,124.81 434.81,124.83 C435.35,124.86 435.89,124.88 436.43,124.91 C436.98,124.93 437.52,124.96 438.06,124.99 C438.60,125.03 439.14,125.06 439.69,125.09 C440.23,125.13 440.77,125.16 441.31,125.20 C441.86,125.24 442.40,125.27 442.94,125.31 C443.48,125.35 444.02,125.39 444.57,125.44 C445.11,125.48 445.65,125.52 446.19,125.56 C446.74,125.61 447.28,125.65 447.82,125.69 C448.36,125.74 448.90,125.79 449.45,125.83 C449.99,125.88 450.53,125.92 451.07,125.97 C451.62,126.02 452.16,126.06 452.70,126.11 C453.24,126.16 453.78,126.21 454.33,126.26 C454.87,126.30 455.41,126.35 455.95,126.40 C456.50,126.45 457.04,126.50 457.58,126.54 C458.12,126.59 458.66,126.64 459.21,126.69 C459.75,126.73 460.29,126.78 460.83,126.83 C461.38,126.88 461.92,126.92 462.46,126.97 C463.00,127.02 463.54,127.06 464.09,127.11 C464.63,127.15 465.17,127.20 465.71,127.25 C466.26,127.29 466.80,127.33 467.34,127.38 C467.88,127.42 468.42,127.47 468.97,127.51 C469.51,127.55 470.05,127.59 470.59,127.64 C471.14,127.68 471.68,127.72 472.22,127.76 C472.76,127.80 473.30,127.84 473.85,127.88 C474.39,127.92 474.93,127.95 475.47,127.99 C476.02,128.03 476.56,128.07 477.10,128.10 C477.64,128.14 478.18,128.17 478.73,128.21 C479.27,128.24 479.81,128.28 480.35,128.31 C480.90,128.34 481.44,128.38 481.98,128.41 C482.52,128.44 483.06,128.47 483.61,128.50 C484.15,128.53 484.69,128.56 485.23,128.59 C485.78,128.62 486.32,128.65 486.86,128.67 C487.40,128.70 487.94,128.73 488.49,128.75 C489.03,128.78 489.57,128.81 490.11,128.83 C490.66,128.85 491.20,128.88 491.74,128.90 C492.28,128.92 492.82,128.95 493.37,128.97 C493.91,128.99 494.45,129.01 494.99,129.03 C495.54,129.05 496.08,129.07 496.62,129.09 C497.16,129.11 497.70,129.13 498.25,129.15 C498.79,129.16 499.33,129.18 499.87,129.20 C500.42,129.22 500.96,129.23 501.50,129.25 C502.04,129.26 502.58,129.28 503.13,129.29 C503.67,129.31 504.21,129.32 504.75,129.34 C505.30,129.35 505.84,129.36 506.38,129.38 C506.92,129.39 507.46,129.40 508.01,129.41 C508.55,129.42 509.09,129.43 509.63,129.45 C510.18,129.46 510.72,129.47 511.26,129.48 C511.80,129.49 512.34,129.50 512.89,129.51 C513.43,129.52 513.97,129.52 514.51,129.53 C515.06,129.54 515.60,129.55 516.14,129.56 C516.68,129.57 517.22,129.57 517.77,129.58 C518.31,129.59 518.85,129.59 519.39,129.60 C519.94,129.61 520.48,129.61 521.02,129.62 C521.56,129.63 522.10,129.63 522.65,129.64 C523.19,129.64 523.73,129.65 524.27,129.65 C524.82,129.66 525.63,129.67 525.90,129.67" fill="none" stroke="#3a3ab0" stroke-width="0.9" stroke-linejoin="round" stroke-linecap="round" />
<path d="M379.50,127.00 C379.77,127.00 380.58,127.00 381.13,127.00 C381.67,127.00 382.21,127.00 382.75,127.00 C383.30,127.00 383.84,126.99 384.38,126.99 C384.92,126.99 385.46,126.99 386.01,126.99 C386.55,126.98 387.09,126.97 387.63,126.98 C388.18,126.99 388.72,127.02 389.26,127.04 C389.80,127.06 390.34,127.08 390.89,127.10 C391.43,127.12 391.97,127.13 392.51,127.14 C393.06,127.15 393.60,127.16 394.14,127.16 C394.68,127.16 395.22,127.16 395.77,127.15 C396.31,127.14 396.85,127.12 397.39,127.09 C397.94,127.07 398.48,127.03 399.02,126.98 C399.56,126.93 400.10,126.88 400.65,126.80 C401.19,126.73 401.73,126.65 402.27,126.54 C402.82,126.44 403.36,126.32 403.90,126.18 C404.44,126.05 404.98,125.90 405.53,125.72 C406.07,125.54 406.61,125.35 407.15,125.12 C407.70,124.90 408.24,124.64 408.78,124.37 C409.32,124.10 409.86,123.82 410.41,123.53 C410.95,123.23 411.49,122.92 412.03,122.60 C412.58,122.29 413.12,121.96 413.66,121.63 C414.20,121.30 414.74,120.97 415.29,120.64 C415.83,120.31 416.37,119.97 416.91,119.65 C417.46,119.34 418.00,119.02 418.54,118.72 C419.08,118.43 419.62,118.14 420.17,117.88 C420.71,117.62 421.25,117.37 421.79,117.15 C422.34,116.93 422.88,116.73 423.42,116.56 C423.96,116.39 424.50,116.25 425.05,116.13 C425.59,116.01 426.13,115.92 426.67,115.85 C427.22,115.78 427.76,115.75 428.30,115.72 C428.84,115.70 429.38,115.70 429.93,115.71 C430.47,115.72 431.01,115.74 431.55,115.78 C432.10,115.81 432.64,115.86 433.18,115.91 C433.72,115.96 434.26,116.02 434.81,116.09 C435.35,116.16 435.89,116.23 436.43,116.31 C436.98,116.39 437.52,116.47 438.06,116.56 C438.60,116.65 439.14,116.75 439.69,116.85 C440.23,116.94 440.77,117.05 441.31,117.15 C441.86,117.26 442.40,117.37 442.94,117.48 C443.48,117.60 444.02,117.71 444.57,117.83 C445.11,117.95 445.65,118.07 446.19,118.19 C446.74,118.31 447.28,118.44 447.82,118.56 C448.36,118.69 448.90,118.82 449.45,118.95 C449.99,119.07 450.53,119.20 451.07,119.33 C451.62,119.46 452.16,119.59 452.70,119.72 C453.24,119.85 453.78,119.98 454.33,120.11 C454.87,120.24 455.41,120.37 455.95,120.50 C456.50,120.63 457.04,120.76 457.58,120.89 C458.12,121.02 458.66,121.14 459.21,121.27 C459.75,121.40 460.29,121.52 460.83,121.64 C461.38,121.77 461.92,121.89 462.46,122.01 C463.00,122.13 463.54,122.25 464.09,122.37 C464.63,122.48 465.17,122.60 465.71,122.71 C466.26,122.83 466.80,122.94 467.34,123.05 C467.88,123.16 468.42,123.27 468.97,123.37 C469.51,123.48 470.05,123.58 470.59,123.68 C471.14,123.78 471.68,123.88 472.22,123.98 C472.76,124.08 473.30,124.17 473.85,124.26 C474.39,124.36 474.93,124.45 475.47,124.54 C476.02,124.62 476.56,124.71 477.10,124.79 C477.64,124.88 478.18,124.96 478.73,125.04 C479.27,125.12 479.81,125.19 480.35,125.27 C480.90,125.34 481.44,125.41 481.98,125.48 C482.52,125.55 483.06,125.62 483.61,125.69 C484.15,125.75 484.69,125.82 485.23,125.88 C485.78,125.94 486.32,126.00 486.86,126.06 C487.40,126.12 487.94,126.17 488.49,126.22 C489.03,126.28 489.57,126.33 490.11,126.38 C490.66,126.43 491.20,126.48 491.74,126.52 C492.28,126.57 492.82,126.62 493.37,126.66 C493.91,126.70 494.45,126.74 494.99,126.78 C495.54,126.82 496.08,126.86 496.62,126.90 C497.16,126.93 497.70,126.97 498.25,127.00 C498.79,127.03 499.33,127.07 499.87,127.10 C500.42,127.13 500.96,127.16 501.50,127.19 C502.04,127.21 502.58,127.24 503.13,127.27 C503.67,127.29 504.21,127.32 504.75,127.34 C505.30,127.37 505.84,127.39 506.38,127.41 C506.92,127.43 507.46,127.45 508.01,127.47 C508.55,127.49 509.09,127.51 509.63,127.53 C510.18,127.54 510.72,127.56 511.26,127.58 C511.80,127.59 512.34,127.61 512.89,127.62 C513.43,127.64 513.97,127.65 514.51,127.66 C515.06,127.68 515.60,127.69 516.14,127.70 C516.68,127.71 517.22,127.73 517.77,127.74 C518.31,127.75 518.85,127.76 519.39,127.77 C519.94,127.78 520.48,127.78 521.02,127.79 C521.56,127.80 522.10,127.81 522.65,127.82 C523.19,127.82 523.73,127.83 524.27,127.84 C524.82,127.85 525.63,127.85 525.90,127.86" fill="none" stroke="#8a8a18" stroke-width="2.6" stroke-linejoin="round" stroke-linecap="round" />
<path d="M379.50,127.00 C379.77,127.00 380.58,127.00 381.13,127.00 C381.67,127.00 382.21,127.00 382.75,127.00 C383.30,127.00 383.84,126.99 384.38,126.99 C384.92,126.99 385.46,126.99 386.01,126.99 C386.55,126.98 387.09,126.97 387.63,126.98 C388.18,126.99 388.72,127.02 389.26,127.04 C389.80,127.06 390.34,127.08 390.89,127.10 C391.43,127.12 391.97,127.13 392.51,127.14 C393.06,127.15 393.60,127.16 394.14,127.16 C394.68,127.16 395.22,127.16 395.77,127.15 C396.31,127.14 396.85,127.12 397.39,127.09 C397.94,127.07 398.48,127.03 399.02,126.98 C399.56,126.93 400.10,126.88 400.65,126.80 C401.19,126.73 401.73,126.65 402.27,126.54 C402.82,126.44 403.36,126.32 403.90,126.18 C404.44,126.05 404.98,125.90 405.53,125.72 C406.07,125.54 406.61,125.35 407.15,125.12 C407.70,124.90 408.24,124.64 408.78,124.37 C409.32,124.10 409.86,123.82 410.41,123.53 C410.95,123.23 411.49,122.92 412.03,122.60 C412.58,122.29 413.12,121.96 413.66,121.63 C414.20,121.30 414.74,120.97 415.29,120.64 C415.83,120.31 416.37,119.97 416.91,119.65 C417.46,119.34 418.00,119.02 418.54,118.72 C419.08,118.43 419.62,118.14 420.17,117.88 C420.71,117.62 421.25,117.37 421.79,117.15 C422.34,116.93 422.88,116.73 423.42,116.56 C423.96,116.39 424.50,116.25 425.05,116.13 C425.59,116.01 426.13,115.92 426.67,115.85 C427.22,115.78 427.76,115.75 428.30,115.72 C428.84,115.70 429.38,115.70 429.93,115.71 C430.47,115.72 431.01,115.74 431.55,115.78 C432.10,115.81 432.64,115.86 433.18,115.91 C433.72,115.96 434.26,116.02 434.81,116.09 C435.35,116.16 435.89,116.23 436.43,116.31 C436.98,116.39 437.52,116.47 438.06,116.56 C438.60,116.65 439.14,116.75 439.69,116.85 C440.23,116.94 440.77,117.05 441.31,117.15 C441.86,117.26 442.40,117.37 442.94,117.48 C443.48,117.60 444.02,117.71 444.57,117.83 C445.11,117.95 445.65,118.07 446.19,118.19 C446.74,118.31 447.28,118.44 447.82,118.56 C448.36,118.69 448.90,118.82 449.45,118.95 C449.99,119.07 450.53,119.20 451.07,119.33 C451.62,119.46 452.16,119.59 452.70,119.72 C453.24,119.85 453.78,119.98 454.33,120.11 C454.87,120.24 455.41,120.37 455.95,120.50 C456.50,120.63 457.04,120.76 457.58,120.89 C458.12,121.02 458.66,121.14 459.21,121.27 C459.75,121.40 460.29,121.52 460.83,121.64 C461.38,121.77 461.92,121.89 462.46,122.01 C463.00,122.13 463.54,122.25 464.09,122.37 C464.63,122.48 465.17,122.60 465.71,122.71 C466.26,122.83 466.80,122.94 467.34,123.05 C467.88,123.16 468.42,123.27 468.97,123.37 C469.51,123.48 470.05,123.58 470.59,123.68 C471.14,123.78 471.68,123.88 472.22,123.98 C472.76,124.08 473.30,124.17 473.85,124.26 C474.39,124.36 474.93,124.45 475.47,124.54 C476.02,124.62 476.56,124.71 477.10,124.79 C477.64,124.88 478.18,124.96 478.73,125.04 C479.27,125.12 479.81,125.19 480.35,125.27 C480.90,125.34 481.44,125.41 481.98,125.48 C482.52,125.55 483.06,125.62 483.61,125.69 C484.15,125.75 484.69,125.82 485.23,125.88 C485.78,125.94 486.32,126.00 486.86,126.06 C487.40,126.12 487.94,126.17 488.49,126.22 C489.03,126.28 489.57,126.33 490.11,126.38 C490.66,126.43 491.20,126.48 491.74,126.52 C492.28,126.57 492.82,126.62 493.37,126.66 C493.91,126.70 494.45,126.74 494.99,126.78 C495.54,126.82 496.08,126.86 496.62,126.90 C497.16,126.93 497.70,126.97 498.25,127.00 C498.79,127.03 499.33,127.07 499.87,127.10 C500.42,127.13 500.96,127.16 501.50,127.19 C502.04,127.21 502.58,127.24 503.13,127.27 C503.67,127.29 504.21,127.32 504.75,127.34 C505.30,127.37 505.84,127.39 506.38,127.41 C506.92,127.43 507.46,127.45 508.01,127.47 C508.55,127.49 509.09,127.51 509.63,127.53 C510.18,127.54 510.72,127.56 511.26,127.58 C511.80,127.59 512.34,127.61 512.89,127.62 C513.43,127.64 513.97,127.65 514.51,127.66 C515.06,127.68 515.60,127.69 516.14,127.70 C516.68,127.71 517.22,127.73 517.77,127.74 C518.31,127.75 518.85,127.76 519.39,127.77 C519.94,127.78 520.48,127.78 521.02,127.79 C521.56,127.80 522.10,127.81 522.65,127.82 C523.19,127.82 523.73,127.83 524.27,127.84 C524.82,127.85 525.63,127.85 525.90,127.86" fill="none" stroke="#a8a840" stroke-width="0.9" stroke-linejoin="round" stroke-linecap="round" />
<path d="M379.50,125.99 C379.77,125.99 380.58,125.99 381.13,125.98 C381.67,125.98 382.21,125.98 382.75,125.97 C383.30,125.97 383.84,125.95 384.38,125.95 C384.92,125.96 385.46,125.98 386.01,126.00 C386.55,126.01 387.09,126.02 387.63,126.03 C388.18,126.03 388.72,126.04 389.26,126.03 C389.80,126.03 390.34,126.02 390.89,126.00 C391.43,125.98 391.97,125.96 392.51,125.92 C393.06,125.88 393.60,125.84 394.14,125.77 C394.68,125.71 395.22,125.64 395.77,125.55 C396.31,125.45 396.85,125.35 397.39,125.22 C397.94,125.09 398.48,124.94 399.02,124.76 C399.56,124.59 400.10,124.39 400.65,124.17 C401.19,123.94 401.73,123.69 402.27,123.40 C402.82,123.12 403.36,122.81 403.90,122.47 C404.44,122.12 404.98,121.74 405.53,121.32 C406.07,120.91 406.61,120.45 407.15,119.97 C407.70,119.49 408.24,118.98 408.78,118.46 C409.32,117.93 409.86,117.38 410.41,116.82 C410.95,116.26 411.49,115.67 412.03,115.09 C412.58,114.50 413.12,113.90 413.66,113.30 C414.20,112.71 414.74,112.11 415.29,111.53 C415.83,110.95 416.37,110.37 416.91,109.82 C417.46,109.26 418.00,108.72 418.54,108.22 C419.08,107.72 419.62,107.23 420.17,106.79 C420.71,106.35 421.25,105.94 421.79,105.58 C422.34,105.22 422.88,104.89 423.42,104.61 C423.96,104.33 424.50,104.09 425.05,103.90 C425.59,103.71 426.13,103.56 426.67,103.45 C427.22,103.34 427.76,103.27 428.30,103.23 C428.84,103.20 429.38,103.19 429.93,103.21 C430.47,103.23 431.01,103.29 431.55,103.35 C432.10,103.42 432.64,103.51 433.18,103.61 C433.72,103.71 434.26,103.83 434.81,103.96 C435.35,104.08 435.89,104.23 436.43,104.38 C436.98,104.53 437.52,104.70 438.06,104.87 C438.60,105.04 439.14,105.23 439.69,105.42 C440.23,105.61 440.77,105.81 441.31,106.01 C441.86,106.22 442.40,106.43 442.94,106.65 C443.48,106.87 444.02,107.09 444.57,107.32 C445.11,107.55 445.65,107.78 446.19,108.02 C446.74,108.26 447.28,108.50 447.82,108.74 C448.36,108.99 448.90,109.23 449.45,109.48 C449.99,109.73 450.53,109.98 451.07,110.23 C451.62,110.48 452.16,110.73 452.70,110.98 C453.24,111.24 453.78,111.49 454.33,111.74 C454.87,111.99 455.41,112.24 455.95,112.49 C456.50,112.74 457.04,112.99 457.58,113.24 C458.12,113.49 458.66,113.73 459.21,113.98 C459.75,114.22 460.29,114.46 460.83,114.70 C461.38,114.94 461.92,115.18 462.46,115.41 C463.00,115.64 463.54,115.87 464.09,116.10 C464.63,116.33 465.17,116.55 465.71,116.77 C466.26,116.99 466.80,117.21 467.34,117.42 C467.88,117.63 468.42,117.84 468.97,118.04 C469.51,118.25 470.05,118.45 470.59,118.65 C471.14,118.84 471.68,119.03 472.22,119.22 C472.76,119.41 473.30,119.59 473.85,119.77 C474.39,119.95 474.93,120.13 475.47,120.30 C476.02,120.47 476.56,120.63 477.10,120.79 C477.64,120.96 478.18,121.11 478.73,121.27 C479.27,121.42 479.81,121.57 480.35,121.71 C480.90,121.85 481.44,121.99 481.98,122.13 C482.52,122.27 483.06,122.40 483.61,122.53 C484.15,122.65 484.69,122.78 485.23,122.90 C485.78,123.01 486.32,123.13 486.86,123.24 C487.40,123.35 487.94,123.46 488.49,123.56 C489.03,123.67 489.57,123.77 490.11,123.86 C490.66,123.96 491.20,124.05 491.74,124.14 C492.28,124.23 492.82,124.32 493.37,124.40 C493.91,124.49 494.45,124.57 494.99,124.64 C495.54,124.72 496.08,124.79 496.62,124.86 C497.16,124.93 497.70,125.00 498.25,125.07 C498.79,125.13 499.33,125.19 499.87,125.25 C500.42,125.31 500.96,125.37 501.50,125.43 C502.04,125.48 502.58,125.53 503.13,125.58 C503.67,125.63 504.21,125.68 504.75,125.73 C505.30,125.77 505.84,125.82 506.38,125.86 C506.92,125.90 507.46,125.94 508.01,125.98 C508.55,126.01 509.09,126.05 509.63,126.08 C510.18,126.12 510.72,126.15 511.26,126.18 C511.80,126.21 512.34,126.24 512.89,126.27 C513.43,126.30 513.97,126.33 514.51,126.35 C515.06,126.38 515.60,126.40 516.14,126.42 C516.68,126.45 517.22,126.47 517.77,126.49 C518.31,126.51 518.85,126.53 519.39,126.55 C519.94,126.57 520.48,126.58 521.02,126.60 C521.56,126.62 522.10,126.63 522.65,126.65 C523.19,126.66 523.73,126.67 524.27,126.69 C524.82,126.70 525.63,126.72 525.90,126.73" fill="none" stroke="#b878e0" stroke-width="3.2" stroke-linejoin="round" stroke-linecap="round" />
<path d="M379.50,125.99 C379.77,125.99 380.58,125.99 381.13,125.98 C381.67,125.98 382.21,125.98 382.75,125.97 C383.30,125.97 383.84,125.95 384.38,125.95 C384.92,125.96 385.46,125.98 386.01,126.00 C386.55,126.01 387.09,126.02 387.63,126.03 C388.18,126.03 388.72,126.04 389.26,126.03 C389.80,126.03 390.34,126.02 390.89,126.00 C391.43,125.98 391.97,125.96 392.51,125.92 C393.06,125.88 393.60,125.84 394.14,125.77 C394.68,125.71 395.22,125.64 395.77,125.55 C396.31,125.45 396.85,125.35 397.39,125.22 C397.94,125.09 398.48,124.94 399.02,124.76 C399.56,124.59 400.10,124.39 400.65,124.17 C401.19,123.94 401.73,123.69 402.27,123.40 C402.82,123.12 403.36,122.81 403.90,122.47 C404.44,122.12 404.98,121.74 405.53,121.32 C406.07,120.91 406.61,120.45 407.15,119.97 C407.70,119.49 408.24,118.98 408.78,118.46 C409.32,117.93 409.86,117.38 410.41,116.82 C410.95,116.26 411.49,115.67 412.03,115.09 C412.58,114.50 413.12,113.90 413.66,113.30 C414.20,112.71 414.74,112.11 415.29,111.53 C415.83,110.95 416.37,110.37 416.91,109.82 C417.46,109.26 418.00,108.72 418.54,108.22 C419.08,107.72 419.62,107.23 420.17,106.79 C420.71,106.35 421.25,105.94 421.79,105.58 C422.34,105.22 422.88,104.89 423.42,104.61 C423.96,104.33 424.50,104.09 425.05,103.90 C425.59,103.71 426.13,103.56 426.67,103.45 C427.22,103.34 427.76,103.27 428.30,103.23 C428.84,103.20 429.38,103.19 429.93,103.21 C430.47,103.23 431.01,103.29 431.55,103.35 C432.10,103.42 432.64,103.51 433.18,103.61 C433.72,103.71 434.26,103.83 434.81,103.96 C435.35,104.08 435.89,104.23 436.43,104.38 C436.98,104.53 437.52,104.70 438.06,104.87 C438.60,105.04 439.14,105.23 439.69,105.42 C440.23,105.61 440.77,105.81 441.31,106.01 C441.86,106.22 442.40,106.43 442.94,106.65 C443.48,106.87 444.02,107.09 444.57,107.32 C445.11,107.55 445.65,107.78 446.19,108.02 C446.74,108.26 447.28,108.50 447.82,108.74 C448.36,108.99 448.90,109.23 449.45,109.48 C449.99,109.73 450.53,109.98 451.07,110.23 C451.62,110.48 452.16,110.73 452.70,110.98 C453.24,111.24 453.78,111.49 454.33,111.74 C454.87,111.99 455.41,112.24 455.95,112.49 C456.50,112.74 457.04,112.99 457.58,113.24 C458.12,113.49 458.66,113.73 459.21,113.98 C459.75,114.22 460.29,114.46 460.83,114.70 C461.38,114.94 461.92,115.18 462.46,115.41 C463.00,115.64 463.54,115.87 464.09,116.10 C464.63,116.33 465.17,116.55 465.71,116.77 C466.26,116.99 466.80,117.21 467.34,117.42 C467.88,117.63 468.42,117.84 468.97,118.04 C469.51,118.25 470.05,118.45 470.59,118.65 C471.14,118.84 471.68,119.03 472.22,119.22 C472.76,119.41 473.30,119.59 473.85,119.77 C474.39,119.95 474.93,120.13 475.47,120.30 C476.02,120.47 476.56,120.63 477.10,120.79 C477.64,120.96 478.18,121.11 478.73,121.27 C479.27,121.42 479.81,121.57 480.35,121.71 C480.90,121.85 481.44,121.99 481.98,122.13 C482.52,122.27 483.06,122.40 483.61,122.53 C484.15,122.65 484.69,122.78 485.23,122.90 C485.78,123.01 486.32,123.13 486.86,123.24 C487.40,123.35 487.94,123.46 488.49,123.56 C489.03,123.67 489.57,123.77 490.11,123.86 C490.66,123.96 491.20,124.05 491.74,124.14 C492.28,124.23 492.82,124.32 493.37,124.40 C493.91,124.49 494.45,124.57 494.99,124.64 C495.54,124.72 496.08,124.79 496.62,124.86 C497.16,124.93 497.70,125.00 498.25,125.07 C498.79,125.13 499.33,125.19 499.87,125.25 C500.42,125.31 500.96,125.37 501.50,125.43 C502.04,125.48 502.58,125.53 503.13,125.58 C503.67,125.63 504.21,125.68 504.75,125.73 C505.30,125.77 505.84,125.82 506.38,125.86 C506.92,125.90 507.46,125.94 508.01,125.98 C508.55,126.01 509.09,126.05 509.63,126.08 C510.18,126.12 510.72,126.15 511.26,126.18 C511.80,126.21 512.34,126.24 512.89,126.27 C513.43,126.30 513.97,126.33 514.51,126.35 C515.06,126.38 515.60,126.40 516.14,126.42 C516.68,126.45 517.22,126.47 517.77,126.49 C518.31,126.51 518.85,126.53 519.39,126.55 C519.94,126.57 520.48,126.58 521.02,126.60 C521.56,126.62 522.10,126.63 522.65,126.65 C523.19,126.66 523.73,126.67 524.27,126.69 C524.82,126.70 525.63,126.72 525.90,126.73" fill="none" stroke="#eab0f4" stroke-width="0.9" stroke-linejoin="round" stroke-linecap="round" />
<path d="M379.50,124.97 C379.77,124.97 380.58,124.96 381.13,124.95 C381.67,124.94 382.21,124.93 382.75,124.92 C383.30,124.90 383.84,124.86 384.38,124.86 C384.92,124.86 385.46,124.90 386.01,124.92 C386.55,124.93 387.09,124.96 387.63,124.97 C388.18,124.97 388.72,124.97 389.26,124.94 C389.80,124.91 390.34,124.87 390.89,124.80 C391.43,124.73 391.97,124.64 392.51,124.50 C393.06,124.37 393.60,124.21 394.14,123.99 C394.68,123.78 395.22,123.53 395.77,123.21 C396.31,122.89 396.85,122.53 397.39,122.09 C397.94,121.64 398.48,121.14 399.02,120.55 C399.56,119.95 400.10,119.29 400.65,118.52 C401.19,117.76 401.73,116.91 402.27,115.96 C402.82,115.00 403.36,113.96 403.90,112.80 C404.44,111.63 404.98,110.35 405.53,108.96 C406.07,107.56 406.61,106.04 407.15,104.45 C407.70,102.86 408.24,101.17 408.78,99.42 C409.32,97.68 409.86,95.84 410.41,93.97 C410.95,92.10 411.49,90.16 412.03,88.22 C412.58,86.28 413.12,84.29 413.66,82.34 C414.20,80.39 414.74,78.42 415.29,76.52 C415.83,74.62 416.37,72.73 416.91,70.95 C417.46,69.17 418.00,67.43 418.54,65.82 C419.08,64.22 419.62,62.69 420.17,61.31 C420.71,59.94 421.25,58.67 421.79,57.56 C422.34,56.44 422.88,55.47 423.42,54.64 C423.96,53.82 424.50,53.15 425.05,52.61 C425.59,52.08 426.13,51.71 426.67,51.44 C427.22,51.17 427.76,51.05 428.30,51.02 C428.84,50.99 429.38,51.07 429.93,51.26 C430.47,51.45 431.01,51.79 431.55,52.17 C432.10,52.56 432.64,53.03 433.18,53.56 C433.72,54.08 434.26,54.68 434.81,55.33 C435.35,55.97 435.89,56.67 436.43,57.41 C436.98,58.14 437.52,58.93 438.06,59.75 C438.60,60.57 439.14,61.43 439.69,62.31 C440.23,63.19 440.77,64.10 441.31,65.03 C441.86,65.96 442.40,66.92 442.94,67.89 C443.48,68.86 444.02,69.85 444.57,70.84 C445.11,71.83 445.65,72.84 446.19,73.85 C446.74,74.85 447.28,75.87 447.82,76.88 C448.36,77.89 448.90,78.91 449.45,79.92 C449.99,80.92 450.53,81.93 451.07,82.92 C451.62,83.92 452.16,84.91 452.70,85.89 C453.24,86.86 453.78,87.83 454.33,88.78 C454.87,89.73 455.41,90.67 455.95,91.59 C456.50,92.52 457.04,93.42 457.58,94.31 C458.12,95.20 458.66,96.07 459.21,96.92 C459.75,97.77 460.29,98.60 460.83,99.41 C461.38,100.22 461.92,101.01 462.46,101.77 C463.00,102.54 463.54,103.29 464.09,104.01 C464.63,104.74 465.17,105.44 465.71,106.12 C466.26,106.80 466.80,107.46 467.34,108.10 C467.88,108.73 468.42,109.35 468.97,109.94 C469.51,110.53 470.05,111.10 470.59,111.66 C471.14,112.21 471.68,112.73 472.22,113.24 C472.76,113.75 473.30,114.24 473.85,114.71 C474.39,115.18 474.93,115.62 475.47,116.05 C476.02,116.48 476.56,116.89 477.10,117.29 C477.64,117.68 478.18,118.05 478.73,118.41 C479.27,118.77 479.81,119.11 480.35,119.43 C480.90,119.76 481.44,120.07 481.98,120.36 C482.52,120.65 483.06,120.93 483.61,121.20 C484.15,121.46 484.69,121.71 485.23,121.95 C485.78,122.19 486.32,122.41 486.86,122.63 C487.40,122.84 487.94,123.04 488.49,123.23 C489.03,123.42 489.57,123.60 490.11,123.77 C490.66,123.94 491.20,124.10 491.74,124.25 C492.28,124.40 492.82,124.54 493.37,124.67 C493.91,124.81 494.45,124.93 494.99,125.05 C495.54,125.17 496.08,125.28 496.62,125.38 C497.16,125.48 497.70,125.58 498.25,125.67 C498.79,125.76 499.33,125.85 499.87,125.92 C500.42,126.00 500.96,126.08 501.50,126.15 C502.04,126.22 502.58,126.28 503.13,126.34 C503.67,126.40 504.21,126.46 504.75,126.51 C505.30,126.56 505.84,126.61 506.38,126.66 C506.92,126.70 507.46,126.74 508.01,126.78 C508.55,126.82 509.09,126.86 509.63,126.89 C510.18,126.92 510.72,126.95 511.26,126.98 C511.80,127.01 512.34,127.04 512.89,127.06 C513.43,127.09 513.97,127.11 514.51,127.13 C515.06,127.15 515.60,127.17 516.14,127.19 C516.68,127.21 517.22,127.23 517.77,127.24 C518.31,127.26 518.85,127.27 519.39,127.28 C519.94,127.30 520.48,127.31 521.02,127.32 C521.56,127.33 522.10,127.34 522.65,127.35 C523.19,127.36 523.73,127.37 524.27,127.37 C524.82,127.38 525.63,127.39 525.90,127.40" fill="none" stroke="#88a8b4" stroke-width="3.0" stroke-linejoin="round" stroke-linecap="round" />
<path d="M379.50,124.97 C379.77,124.97 380.58,124.96 381.13,124.95 C381.67,124.94 382.21,124.93 382.75,124.92 C383.30,124.90 383.84,124.86 384.38,124.86 C384.92,124.86 385.46,124.90 386.01,124.92 C386.55,124.93 387.09,124.96 387.63,124.97 C388.18,124.97 388.72,124.97 389.26,124.94 C389.80,124.91 390.34,124.87 390.89,124.80 C391.43,124.73 391.97,124.64 392.51,124.50 C393.06,124.37 393.60,124.21 394.14,123.99 C394.68,123.78 395.22,123.53 395.77,123.21 C396.31,122.89 396.85,122.53 397.39,122.09 C397.94,121.64 398.48,121.14 399.02,120.55 C399.56,119.95 400.10,119.29 400.65,118.52 C401.19,117.76 401.73,116.91 402.27,115.96 C402.82,115.00 403.36,113.96 403.90,112.80 C404.44,111.63 404.98,110.35 405.53,108.96 C406.07,107.56 406.61,106.04 407.15,104.45 C407.70,102.86 408.24,101.17 408.78,99.42 C409.32,97.68 409.86,95.84 410.41,93.97 C410.95,92.10 411.49,90.16 412.03,88.22 C412.58,86.28 413.12,84.29 413.66,82.34 C414.20,80.39 414.74,78.42 415.29,76.52 C415.83,74.62 416.37,72.73 416.91,70.95 C417.46,69.17 418.00,67.43 418.54,65.82 C419.08,64.22 419.62,62.69 420.17,61.31 C420.71,59.94 421.25,58.67 421.79,57.56 C422.34,56.44 422.88,55.47 423.42,54.64 C423.96,53.82 424.50,53.15 425.05,52.61 C425.59,52.08 426.13,51.71 426.67,51.44 C427.22,51.17 427.76,51.05 428.30,51.02 C428.84,50.99 429.38,51.07 429.93,51.26 C430.47,51.45 431.01,51.79 431.55,52.17 C432.10,52.56 432.64,53.03 433.18,53.56 C433.72,54.08 434.26,54.68 434.81,55.33 C435.35,55.97 435.89,56.67 436.43,57.41 C436.98,58.14 437.52,58.93 438.06,59.75 C438.60,60.57 439.14,61.43 439.69,62.31 C440.23,63.19 440.77,64.10 441.31,65.03 C441.86,65.96 442.40,66.92 442.94,67.89 C443.48,68.86 444.02,69.85 444.57,70.84 C445.11,71.83 445.65,72.84 446.19,73.85 C446.74,74.85 447.28,75.87 447.82,76.88 C448.36,77.89 448.90,78.91 449.45,79.92 C449.99,80.92 450.53,81.93 451.07,82.92 C451.62,83.92 452.16,84.91 452.70,85.89 C453.24,86.86 453.78,87.83 454.33,88.78 C454.87,89.73 455.41,90.67 455.95,91.59 C456.50,92.52 457.04,93.42 457.58,94.31 C458.12,95.20 458.66,96.07 459.21,96.92 C459.75,97.77 460.29,98.60 460.83,99.41 C461.38,100.22 461.92,101.01 462.46,101.77 C463.00,102.54 463.54,103.29 464.09,104.01 C464.63,104.74 465.17,105.44 465.71,106.12 C466.26,106.80 466.80,107.46 467.34,108.10 C467.88,108.73 468.42,109.35 468.97,109.94 C469.51,110.53 470.05,111.10 470.59,111.66 C471.14,112.21 471.68,112.73 472.22,113.24 C472.76,113.75 473.30,114.24 473.85,114.71 C474.39,115.18 474.93,115.62 475.47,116.05 C476.02,116.48 476.56,116.89 477.10,117.29 C477.64,117.68 478.18,118.05 478.73,118.41 C479.27,118.77 479.81,119.11 480.35,119.43 C480.90,119.76 481.44,120.07 481.98,120.36 C482.52,120.65 483.06,120.93 483.61,121.20 C484.15,121.46 484.69,121.71 485.23,121.95 C485.78,122.19 486.32,122.41 486.86,122.63 C487.40,122.84 487.94,123.04 488.49,123.23 C489.03,123.42 489.57,123.60 490.11,123.77 C490.66,123.94 491.20,124.10 491.74,124.25 C492.28,124.40 492.82,124.54 493.37,124.67 C493.91,124.81 494.45,124.93 494.99,125.05 C495.54,125.17 496.08,125.28 496.62,125.38 C497.16,125.48 497.70,125.58 498.25,125.67 C498.79,125.76 499.33,125.85 499.87,125.92 C500.42,126.00 500.96,126.08 501.50,126.15 C502.04,126.22 502.58,126.28 503.13,126.34 C503.67,126.40 504.21,126.46 504.75,126.51 C505.30,126.56 505.84,126.61 506.38,126.66 C506.92,126.70 507.46,126.74 508.01,126.78 C508.55,126.82 509.09,126.86 509.63,126.89 C510.18,126.92 510.72,126.95 511.26,126.98 C511.80,127.01 512.34,127.04 512.89,127.06 C513.43,127.09 513.97,127.11 514.51,127.13 C515.06,127.15 515.60,127.17 516.14,127.19 C516.68,127.21 517.22,127.23 517.77,127.24 C518.31,127.26 518.85,127.27 519.39,127.28 C519.94,127.30 520.48,127.31 521.02,127.32 C521.56,127.33 522.10,127.34 522.65,127.35 C523.19,127.36 523.73,127.37 524.27,127.37 C524.82,127.38 525.63,127.39 525.90,127.40" fill="none" stroke="#d8ecf0" stroke-width="0.9" stroke-linejoin="round" stroke-linecap="round" />
<path d="M379.50,125.49 C379.77,125.48 380.58,125.48 381.13,125.47 C381.67,125.47 382.21,125.46 382.75,125.45 C383.30,125.44 383.84,125.43 384.38,125.42 C384.92,125.40 385.46,125.36 386.01,125.35 C386.55,125.34 387.09,125.36 387.63,125.36 C388.18,125.36 388.72,125.38 389.26,125.36 C389.80,125.35 390.34,125.33 390.89,125.28 C391.43,125.24 391.97,125.18 392.51,125.09 C393.06,124.99 393.60,124.88 394.14,124.72 C394.68,124.56 395.22,124.38 395.77,124.13 C396.31,123.89 396.85,123.61 397.39,123.25 C397.94,122.90 398.48,122.50 399.02,122.01 C399.56,121.52 400.10,120.98 400.65,120.33 C401.19,119.68 401.73,118.96 402.27,118.13 C402.82,117.30 403.36,116.38 403.90,115.34 C404.44,114.31 404.98,113.18 405.53,111.92 C406.07,110.66 406.61,109.29 407.15,107.79 C407.70,106.30 408.24,104.66 408.78,102.95 C409.32,101.24 409.86,99.42 410.41,97.53 C410.95,95.65 411.49,93.66 412.03,91.64 C412.58,89.62 413.12,87.51 413.66,85.41 C414.20,83.30 414.74,81.14 415.29,79.01 C415.83,76.89 416.37,74.73 416.91,72.66 C417.46,70.58 418.00,68.51 418.54,66.55 C419.08,64.59 419.62,62.68 420.17,60.91 C420.71,59.14 421.25,57.45 421.79,55.92 C422.34,54.39 422.88,52.98 423.42,51.73 C423.96,50.49 424.50,49.39 425.05,48.46 C425.59,47.53 426.13,46.76 426.67,46.15 C427.22,45.53 427.76,45.09 428.30,44.77 C428.84,44.45 429.38,44.30 429.93,44.23 C430.47,44.17 431.01,44.22 431.55,44.38 C432.10,44.54 432.64,44.84 433.18,45.18 C433.72,45.53 434.26,45.96 434.81,46.44 C435.35,46.92 435.89,47.47 436.43,48.07 C436.98,48.66 437.52,49.32 438.06,50.00 C438.60,50.69 439.14,51.43 439.69,52.20 C440.23,52.97 440.77,53.78 441.31,54.62 C441.86,55.46 442.40,56.33 442.94,57.22 C443.48,58.11 444.02,59.03 444.57,59.96 C445.11,60.90 445.65,61.85 446.19,62.82 C446.74,63.78 447.28,64.77 447.82,65.76 C448.36,66.74 448.90,67.75 449.45,68.75 C449.99,69.75 450.53,70.76 451.07,71.77 C451.62,72.77 452.16,73.79 452.70,74.79 C453.24,75.80 453.78,76.80 454.33,77.80 C454.87,78.79 455.41,79.79 455.95,80.77 C456.50,81.75 457.04,82.72 457.58,83.69 C458.12,84.65 458.66,85.60 459.21,86.53 C459.75,87.47 460.29,88.39 460.83,89.30 C461.38,90.21 461.92,91.10 462.46,91.98 C463.00,92.85 463.54,93.71 464.09,94.56 C464.63,95.40 465.17,96.22 465.71,97.02 C466.26,97.83 466.80,98.61 467.34,99.38 C467.88,100.15 468.42,100.89 468.97,101.62 C469.51,102.35 470.05,103.05 470.59,103.74 C471.14,104.43 471.68,105.09 472.22,105.74 C472.76,106.39 473.30,107.02 473.85,107.62 C474.39,108.23 474.93,108.82 475.47,109.38 C476.02,109.95 476.56,110.50 477.10,111.03 C477.64,111.56 478.18,112.07 478.73,112.56 C479.27,113.05 479.81,113.53 480.35,113.98 C480.90,114.44 481.44,114.87 481.98,115.29 C482.52,115.72 483.06,116.12 483.61,116.51 C484.15,116.89 484.69,117.26 485.23,117.62 C485.78,117.98 486.32,118.31 486.86,118.64 C487.40,118.97 487.94,119.28 488.49,119.57 C489.03,119.87 489.57,120.15 490.11,120.42 C490.66,120.69 491.20,120.95 491.74,121.20 C492.28,121.44 492.82,121.67 493.37,121.90 C493.91,122.12 494.45,122.33 494.99,122.53 C495.54,122.73 496.08,122.92 496.62,123.10 C497.16,123.28 497.70,123.45 498.25,123.62 C498.79,123.78 499.33,123.93 499.87,124.08 C500.42,124.22 500.96,124.36 501.50,124.49 C502.04,124.62 502.58,124.74 503.13,124.86 C503.67,124.97 504.21,125.08 504.75,125.19 C505.30,125.29 505.84,125.39 506.38,125.48 C506.92,125.57 507.46,125.65 508.01,125.74 C508.55,125.82 509.09,125.89 509.63,125.96 C510.18,126.04 510.72,126.10 511.26,126.17 C511.80,126.23 512.34,126.29 512.89,126.34 C513.43,126.40 513.97,126.45 514.51,126.50 C515.06,126.55 515.60,126.59 516.14,126.64 C516.68,126.68 517.22,126.72 517.77,126.76 C518.31,126.79 518.85,126.83 519.39,126.86 C519.94,126.89 520.48,126.92 521.02,126.95 C521.56,126.98 522.10,127.00 522.65,127.03 C523.19,127.05 523.73,127.08 524.27,127.10 C524.82,127.12 525.63,127.15 525.90,127.16" fill="none" stroke="#c8a08a" stroke-width="3.0" stroke-linejoin="round" stroke-linecap="round" />
<path d="M379.50,125.49 C379.77,125.48 380.58,125.48 381.13,125.47 C381.67,125.47 382.21,125.46 382.75,125.45 C383.30,125.44 383.84,125.43 384.38,125.42 C384.92,125.40 385.46,125.36 386.01,125.35 C386.55,125.34 387.09,125.36 387.63,125.36 C388.18,125.36 388.72,125.38 389.26,125.36 C389.80,125.35 390.34,125.33 390.89,125.28 C391.43,125.24 391.97,125.18 392.51,125.09 C393.06,124.99 393.60,124.88 394.14,124.72 C394.68,124.56 395.22,124.38 395.77,124.13 C396.31,123.89 396.85,123.61 397.39,123.25 C397.94,122.90 398.48,122.50 399.02,122.01 C399.56,121.52 400.10,120.98 400.65,120.33 C401.19,119.68 401.73,118.96 402.27,118.13 C402.82,117.30 403.36,116.38 403.90,115.34 C404.44,114.31 404.98,113.18 405.53,111.92 C406.07,110.66 406.61,109.29 407.15,107.79 C407.70,106.30 408.24,104.66 408.78,102.95 C409.32,101.24 409.86,99.42 410.41,97.53 C410.95,95.65 411.49,93.66 412.03,91.64 C412.58,89.62 413.12,87.51 413.66,85.41 C414.20,83.30 414.74,81.14 415.29,79.01 C415.83,76.89 416.37,74.73 416.91,72.66 C417.46,70.58 418.00,68.51 418.54,66.55 C419.08,64.59 419.62,62.68 420.17,60.91 C420.71,59.14 421.25,57.45 421.79,55.92 C422.34,54.39 422.88,52.98 423.42,51.73 C423.96,50.49 424.50,49.39 425.05,48.46 C425.59,47.53 426.13,46.76 426.67,46.15 C427.22,45.53 427.76,45.09 428.30,44.77 C428.84,44.45 429.38,44.30 429.93,44.23 C430.47,44.17 431.01,44.22 431.55,44.38 C432.10,44.54 432.64,44.84 433.18,45.18 C433.72,45.53 434.26,45.96 434.81,46.44 C435.35,46.92 435.89,47.47 436.43,48.07 C436.98,48.66 437.52,49.32 438.06,50.00 C438.60,50.69 439.14,51.43 439.69,52.20 C440.23,52.97 440.77,53.78 441.31,54.62 C441.86,55.46 442.40,56.33 442.94,57.22 C443.48,58.11 444.02,59.03 444.57,59.96 C445.11,60.90 445.65,61.85 446.19,62.82 C446.74,63.78 447.28,64.77 447.82,65.76 C448.36,66.74 448.90,67.75 449.45,68.75 C449.99,69.75 450.53,70.76 451.07,71.77 C451.62,72.77 452.16,73.79 452.70,74.79 C453.24,75.80 453.78,76.80 454.33,77.80 C454.87,78.79 455.41,79.79 455.95,80.77 C456.50,81.75 457.04,82.72 457.58,83.69 C458.12,84.65 458.66,85.60 459.21,86.53 C459.75,87.47 460.29,88.39 460.83,89.30 C461.38,90.21 461.92,91.10 462.46,91.98 C463.00,92.85 463.54,93.71 464.09,94.56 C464.63,95.40 465.17,96.22 465.71,97.02 C466.26,97.83 466.80,98.61 467.34,99.38 C467.88,100.15 468.42,100.89 468.97,101.62 C469.51,102.35 470.05,103.05 470.59,103.74 C471.14,104.43 471.68,105.09 472.22,105.74 C472.76,106.39 473.30,107.02 473.85,107.62 C474.39,108.23 474.93,108.82 475.47,109.38 C476.02,109.95 476.56,110.50 477.10,111.03 C477.64,111.56 478.18,112.07 478.73,112.56 C479.27,113.05 479.81,113.53 480.35,113.98 C480.90,114.44 481.44,114.87 481.98,115.29 C482.52,115.72 483.06,116.12 483.61,116.51 C484.15,116.89 484.69,117.26 485.23,117.62 C485.78,117.98 486.32,118.31 486.86,118.64 C487.40,118.97 487.94,119.28 488.49,119.57 C489.03,119.87 489.57,120.15 490.11,120.42 C490.66,120.69 491.20,120.95 491.74,121.20 C492.28,121.44 492.82,121.67 493.37,121.90 C493.91,122.12 494.45,122.33 494.99,122.53 C495.54,122.73 496.08,122.92 496.62,123.10 C497.16,123.28 497.70,123.45 498.25,123.62 C498.79,123.78 499.33,123.93 499.87,124.08 C500.42,124.22 500.96,124.36 501.50,124.49 C502.04,124.62 502.58,124.74 503.13,124.86 C503.67,124.97 504.21,125.08 504.75,125.19 C505.30,125.29 505.84,125.39 506.38,125.48 C506.92,125.57 507.46,125.65 508.01,125.74 C508.55,125.82 509.09,125.89 509.63,125.96 C510.18,126.04 510.72,126.10 511.26,126.17 C511.80,126.23 512.34,126.29 512.89,126.34 C513.43,126.40 513.97,126.45 514.51,126.50 C515.06,126.55 515.60,126.59 516.14,126.64 C516.68,126.68 517.22,126.72 517.77,126.76 C518.31,126.79 518.85,126.83 519.39,126.86 C519.94,126.89 520.48,126.92 521.02,126.95 C521.56,126.98 522.10,127.00 522.65,127.03 C523.19,127.05 523.73,127.08 524.27,127.10 C524.82,127.12 525.63,127.15 525.90,127.16" fill="none" stroke="#f4e0d4" stroke-width="0.9" stroke-linejoin="round" stroke-linecap="round" />
<path d="M379.50,126.00 C379.77,126.00 380.58,126.00 381.13,126.00 C381.67,126.00 382.21,126.00 382.75,126.00 C383.30,126.00 383.84,126.00 384.38,126.00 C384.92,126.00 385.46,126.00 386.01,125.99 C386.55,125.99 387.09,125.99 387.63,125.99 C388.18,125.99 388.72,125.98 389.26,125.98 C389.80,125.97 390.34,125.97 390.89,125.96 C391.43,125.95 391.97,125.94 392.51,125.92 C393.06,125.91 393.60,125.86 394.14,125.86 C394.68,125.86 395.22,125.91 395.77,125.92 C396.31,125.93 396.85,125.94 397.39,125.93 C397.94,125.92 398.48,125.89 399.02,125.84 C399.56,125.79 400.10,125.73 400.65,125.62 C401.19,125.51 401.73,125.39 402.27,125.20 C402.82,125.02 403.36,124.81 403.90,124.53 C404.44,124.25 404.98,123.93 405.53,123.52 C406.07,123.12 406.61,122.66 407.15,122.10 C407.70,121.55 408.24,120.92 408.78,120.18 C409.32,119.45 409.86,118.63 410.41,117.70 C410.95,116.76 411.49,115.74 412.03,114.59 C412.58,113.43 413.12,112.15 413.66,110.77 C414.20,109.38 414.74,107.86 415.29,106.28 C415.83,104.69 416.37,103.00 416.91,101.26 C417.46,99.52 418.00,97.68 418.54,95.82 C419.08,93.97 419.62,92.04 420.17,90.14 C420.71,88.24 421.25,86.29 421.79,84.40 C422.34,82.52 422.88,80.63 423.42,78.84 C423.96,77.05 424.50,75.29 425.05,73.66 C425.59,72.04 426.13,70.48 426.67,69.08 C427.22,67.68 427.76,66.39 428.30,65.27 C428.84,64.15 429.38,63.16 429.93,62.34 C430.47,61.51 431.01,60.85 431.55,60.33 C432.10,59.82 432.64,59.47 433.18,59.23 C433.72,58.99 434.26,58.90 434.81,58.90 C435.35,58.90 435.89,59.03 436.43,59.23 C436.98,59.43 437.52,59.75 438.06,60.10 C438.60,60.46 439.14,60.89 439.69,61.36 C440.23,61.83 440.77,62.36 441.31,62.93 C441.86,63.50 442.40,64.12 442.94,64.77 C443.48,65.42 444.02,66.11 444.57,66.83 C445.11,67.54 445.65,68.30 446.19,69.07 C446.74,69.84 447.28,70.64 447.82,71.45 C448.36,72.26 448.90,73.10 449.45,73.94 C449.99,74.79 450.53,75.65 451.07,76.52 C451.62,77.39 452.16,78.27 452.70,79.15 C453.24,80.03 453.78,80.92 454.33,81.81 C454.87,82.69 455.41,83.58 455.95,84.47 C456.50,85.35 457.04,86.23 457.58,87.11 C458.12,87.98 458.66,88.85 459.21,89.71 C459.75,90.57 460.29,91.43 460.83,92.27 C461.38,93.11 461.92,93.94 462.46,94.76 C463.00,95.57 463.54,96.38 464.09,97.16 C464.63,97.95 465.17,98.73 465.71,99.48 C466.26,100.24 466.80,100.98 467.34,101.71 C467.88,102.43 468.42,103.14 468.97,103.83 C469.51,104.52 470.05,105.19 470.59,105.84 C471.14,106.49 471.68,107.13 472.22,107.74 C472.76,108.36 473.30,108.95 473.85,109.53 C474.39,110.11 474.93,110.67 475.47,111.21 C476.02,111.75 476.56,112.27 477.10,112.78 C477.64,113.28 478.18,113.77 478.73,114.24 C479.27,114.71 479.81,115.16 480.35,115.59 C480.90,116.02 481.44,116.44 481.98,116.84 C482.52,117.24 483.06,117.62 483.61,117.99 C484.15,118.35 484.69,118.70 485.23,119.04 C485.78,119.38 486.32,119.70 486.86,120.00 C487.40,120.31 487.94,120.60 488.49,120.88 C489.03,121.16 489.57,121.42 490.11,121.68 C490.66,121.93 491.20,122.17 491.74,122.40 C492.28,122.63 492.82,122.84 493.37,123.05 C493.91,123.26 494.45,123.45 494.99,123.64 C495.54,123.82 496.08,124.00 496.62,124.16 C497.16,124.33 497.70,124.49 498.25,124.63 C498.79,124.78 499.33,124.92 499.87,125.05 C500.42,125.19 500.96,125.31 501.50,125.43 C502.04,125.55 502.58,125.66 503.13,125.76 C503.67,125.86 504.21,125.96 504.75,126.05 C505.30,126.15 505.84,126.23 506.38,126.31 C506.92,126.39 507.46,126.47 508.01,126.54 C508.55,126.61 509.09,126.68 509.63,126.74 C510.18,126.80 510.72,126.86 511.26,126.91 C511.80,126.97 512.34,127.02 512.89,127.07 C513.43,127.12 513.97,127.16 514.51,127.20 C515.06,127.24 515.60,127.28 516.14,127.32 C516.68,127.35 517.22,127.39 517.77,127.42 C518.31,127.45 518.85,127.48 519.39,127.50 C519.94,127.53 520.48,127.55 521.02,127.58 C521.56,127.60 522.10,127.62 522.65,127.64 C523.19,127.66 523.73,127.68 524.27,127.70 C524.82,127.71 525.63,127.74 525.90,127.74" fill="none" stroke="#111111" stroke-width="2.6" stroke-linejoin="round" stroke-linecap="round" />
<path d="M379.50,121.97 C379.77,121.96 380.58,121.95 381.13,121.94 C381.67,121.93 382.21,121.91 382.75,121.89 C383.30,121.87 383.84,121.79 384.38,121.82 C384.92,121.86 385.46,122.02 386.01,122.11 C386.55,122.20 387.09,122.30 387.63,122.36 C388.18,122.43 388.72,122.49 389.26,122.53 C389.80,122.56 390.34,122.57 390.89,122.55 C391.43,122.53 391.97,122.49 392.51,122.40 C393.06,122.31 393.60,122.19 394.14,122.01 C394.68,121.83 395.22,121.60 395.77,121.31 C396.31,121.01 396.85,120.66 397.39,120.21 C397.94,119.77 398.48,119.27 399.02,118.65 C399.56,118.04 400.10,117.35 400.65,116.55 C401.19,115.74 401.73,114.84 402.27,113.81 C402.82,112.79 403.36,111.68 403.90,110.41 C404.44,109.14 404.98,107.74 405.53,106.19 C406.07,104.63 406.61,102.88 407.15,101.07 C407.70,99.27 408.24,97.35 408.78,95.36 C409.32,93.37 409.86,91.27 410.41,89.14 C410.95,87.01 411.49,84.78 412.03,82.56 C412.58,80.33 413.12,78.04 413.66,75.78 C414.20,73.53 414.74,71.23 415.29,69.02 C415.83,66.80 416.37,64.58 416.91,62.47 C417.46,60.36 418.00,58.30 418.54,56.37 C419.08,54.44 419.62,52.58 420.17,50.89 C420.71,49.20 421.25,47.62 421.79,46.22 C422.34,44.82 422.88,43.55 423.42,42.47 C423.96,41.38 424.50,40.46 425.05,39.70 C425.59,38.94 426.13,38.36 426.67,37.92 C427.22,37.48 427.76,37.22 428.30,37.06 C428.84,36.89 429.38,36.85 429.93,36.93 C430.47,37.01 431.01,37.25 431.55,37.54 C432.10,37.83 432.64,38.23 433.18,38.67 C433.72,39.12 434.26,39.65 434.81,40.22 C435.35,40.80 435.89,41.44 436.43,42.12 C436.98,42.80 437.52,43.53 438.06,44.31 C438.60,45.08 439.14,45.89 439.69,46.74 C440.23,47.59 440.77,48.48 441.31,49.38 C441.86,50.29 442.40,51.24 442.94,52.20 C443.48,53.16 444.02,54.15 444.57,55.15 C445.11,56.15 445.65,57.17 446.19,58.20 C446.74,59.23 447.28,60.28 447.82,61.33 C448.36,62.38 448.90,63.44 449.45,64.50 C449.99,65.57 450.53,66.63 451.07,67.70 C451.62,68.77 452.16,69.83 452.70,70.89 C453.24,71.96 453.78,73.02 454.33,74.07 C454.87,75.12 455.41,76.17 455.95,77.20 C456.50,78.23 457.04,79.26 457.58,80.27 C458.12,81.29 458.66,82.29 459.21,83.28 C459.75,84.26 460.29,85.24 460.83,86.20 C461.38,87.15 461.92,88.10 462.46,89.02 C463.00,89.94 463.54,90.85 464.09,91.74 C464.63,92.63 465.17,93.50 465.71,94.35 C466.26,95.20 466.80,96.03 467.34,96.84 C467.88,97.65 468.42,98.44 468.97,99.22 C469.51,99.99 470.05,100.74 470.59,101.47 C471.14,102.20 471.68,102.91 472.22,103.60 C472.76,104.28 473.30,104.95 473.85,105.60 C474.39,106.25 474.93,106.88 475.47,107.48 C476.02,108.09 476.56,108.68 477.10,109.24 C477.64,109.81 478.18,110.36 478.73,110.89 C479.27,111.42 479.81,111.93 480.35,112.42 C480.90,112.91 481.44,113.38 481.98,113.84 C482.52,114.29 483.06,114.73 483.61,115.15 C484.15,115.57 484.69,115.97 485.23,116.36 C485.78,116.75 486.32,117.12 486.86,117.47 C487.40,117.83 487.94,118.17 488.49,118.49 C489.03,118.82 489.57,119.13 490.11,119.43 C490.66,119.72 491.20,120.01 491.74,120.28 C492.28,120.55 492.82,120.81 493.37,121.05 C493.91,121.30 494.45,121.53 494.99,121.76 C495.54,121.98 496.08,122.19 496.62,122.40 C497.16,122.60 497.70,122.79 498.25,122.97 C498.79,123.15 499.33,123.33 499.87,123.49 C500.42,123.65 500.96,123.81 501.50,123.96 C502.04,124.10 502.58,124.24 503.13,124.37 C503.67,124.51 504.21,124.63 504.75,124.75 C505.30,124.87 505.84,124.98 506.38,125.08 C506.92,125.19 507.46,125.29 508.01,125.38 C508.55,125.48 509.09,125.56 509.63,125.65 C510.18,125.73 510.72,125.81 511.26,125.88 C511.80,125.95 512.34,126.02 512.89,126.09 C513.43,126.15 513.97,126.21 514.51,126.27 C515.06,126.33 515.60,126.38 516.14,126.43 C516.68,126.48 517.22,126.53 517.77,126.58 C518.31,126.62 518.85,126.66 519.39,126.70 C519.94,126.74 520.48,126.77 521.02,126.81 C521.56,126.84 522.10,126.87 522.65,126.90 C523.19,126.93 523.73,126.96 524.27,126.99 C524.82,127.01 525.63,127.05 525.90,127.06" fill="none" stroke="#6058e0" stroke-width="3.2" stroke-linejoin="round" stroke-linecap="round" />
<path d="M379.50,121.97 C379.77,121.96 380.58,121.95 381.13,121.94 C381.67,121.93 382.21,121.91 382.75,121.89 C383.30,121.87 383.84,121.79 384.38,121.82 C384.92,121.86 385.46,122.02 386.01,122.11 C386.55,122.20 387.09,122.30 387.63,122.36 C388.18,122.43 388.72,122.49 389.26,122.53 C389.80,122.56 390.34,122.57 390.89,122.55 C391.43,122.53 391.97,122.49 392.51,122.40 C393.06,122.31 393.60,122.19 394.14,122.01 C394.68,121.83 395.22,121.60 395.77,121.31 C396.31,121.01 396.85,120.66 397.39,120.21 C397.94,119.77 398.48,119.27 399.02,118.65 C399.56,118.04 400.10,117.35 400.65,116.55 C401.19,115.74 401.73,114.84 402.27,113.81 C402.82,112.79 403.36,111.68 403.90,110.41 C404.44,109.14 404.98,107.74 405.53,106.19 C406.07,104.63 406.61,102.88 407.15,101.07 C407.70,99.27 408.24,97.35 408.78,95.36 C409.32,93.37 409.86,91.27 410.41,89.14 C410.95,87.01 411.49,84.78 412.03,82.56 C412.58,80.33 413.12,78.04 413.66,75.78 C414.20,73.53 414.74,71.23 415.29,69.02 C415.83,66.80 416.37,64.58 416.91,62.47 C417.46,60.36 418.00,58.30 418.54,56.37 C419.08,54.44 419.62,52.58 420.17,50.89 C420.71,49.20 421.25,47.62 421.79,46.22 C422.34,44.82 422.88,43.55 423.42,42.47 C423.96,41.38 424.50,40.46 425.05,39.70 C425.59,38.94 426.13,38.36 426.67,37.92 C427.22,37.48 427.76,37.22 428.30,37.06 C428.84,36.89 429.38,36.85 429.93,36.93 C430.47,37.01 431.01,37.25 431.55,37.54 C432.10,37.83 432.64,38.23 433.18,38.67 C433.72,39.12 434.26,39.65 434.81,40.22 C435.35,40.80 435.89,41.44 436.43,42.12 C436.98,42.80 437.52,43.53 438.06,44.31 C438.60,45.08 439.14,45.89 439.69,46.74 C440.23,47.59 440.77,48.48 441.31,49.38 C441.86,50.29 442.40,51.24 442.94,52.20 C443.48,53.16 444.02,54.15 444.57,55.15 C445.11,56.15 445.65,57.17 446.19,58.20 C446.74,59.23 447.28,60.28 447.82,61.33 C448.36,62.38 448.90,63.44 449.45,64.50 C449.99,65.57 450.53,66.63 451.07,67.70 C451.62,68.77 452.16,69.83 452.70,70.89 C453.24,71.96 453.78,73.02 454.33,74.07 C454.87,75.12 455.41,76.17 455.95,77.20 C456.50,78.23 457.04,79.26 457.58,80.27 C458.12,81.29 458.66,82.29 459.21,83.28 C459.75,84.26 460.29,85.24 460.83,86.20 C461.38,87.15 461.92,88.10 462.46,89.02 C463.00,89.94 463.54,90.85 464.09,91.74 C464.63,92.63 465.17,93.50 465.71,94.35 C466.26,95.20 466.80,96.03 467.34,96.84 C467.88,97.65 468.42,98.44 468.97,99.22 C469.51,99.99 470.05,100.74 470.59,101.47 C471.14,102.20 471.68,102.91 472.22,103.60 C472.76,104.28 473.30,104.95 473.85,105.60 C474.39,106.25 474.93,106.88 475.47,107.48 C476.02,108.09 476.56,108.68 477.10,109.24 C477.64,109.81 478.18,110.36 478.73,110.89 C479.27,111.42 479.81,111.93 480.35,112.42 C480.90,112.91 481.44,113.38 481.98,113.84 C482.52,114.29 483.06,114.73 483.61,115.15 C484.15,115.57 484.69,115.97 485.23,116.36 C485.78,116.75 486.32,117.12 486.86,117.47 C487.40,117.83 487.94,118.17 488.49,118.49 C489.03,118.82 489.57,119.13 490.11,119.43 C490.66,119.72 491.20,120.01 491.74,120.28 C492.28,120.55 492.82,120.81 493.37,121.05 C493.91,121.30 494.45,121.53 494.99,121.76 C495.54,121.98 496.08,122.19 496.62,122.40 C497.16,122.60 497.70,122.79 498.25,122.97 C498.79,123.15 499.33,123.33 499.87,123.49 C500.42,123.65 500.96,123.81 501.50,123.96 C502.04,124.10 502.58,124.24 503.13,124.37 C503.67,124.51 504.21,124.63 504.75,124.75 C505.30,124.87 505.84,124.98 506.38,125.08 C506.92,125.19 507.46,125.29 508.01,125.38 C508.55,125.48 509.09,125.56 509.63,125.65 C510.18,125.73 510.72,125.81 511.26,125.88 C511.80,125.95 512.34,126.02 512.89,126.09 C513.43,126.15 513.97,126.21 514.51,126.27 C515.06,126.33 515.60,126.38 516.14,126.43 C516.68,126.48 517.22,126.53 517.77,126.58 C518.31,126.62 518.85,126.66 519.39,126.70 C519.94,126.74 520.48,126.77 521.02,126.81 C521.56,126.84 522.10,126.87 522.65,126.90 C523.19,126.93 523.73,126.96 524.27,126.99 C524.82,127.01 525.63,127.05 525.90,127.06" fill="none" stroke="#b0a8f4" stroke-width="0.9" stroke-linejoin="round" stroke-linecap="round" />
<path d="M379.50,126.50 C380.92,126.58 385.42,126.95 388.00,127.00 C390.58,127.05 392.67,127.22 395.00,126.80 C397.33,126.38 400.83,124.88 402.00,124.50" fill="none" stroke="#9890e8" stroke-width="1.4" stroke-linejoin="round" stroke-linecap="round" />
<line x1="429.80" y1="27.60" x2="429.80" y2="132.80" stroke="#333" stroke-width="0.8" />
<rect x="379.00" y="27.60" width="147.40" height="105.20" fill="none" stroke="#222" stroke-width="1.2" />
<line x1="390.00" y1="132.80" x2="390.00" y2="130.30" stroke="#222" stroke-width="0.8" />
<text x="390.00" y="140.80" font-size="6.2" font-family="'Liberation Sans', sans-serif" fill="#222" font-weight="bold" text-anchor="middle">350</text>
<line x1="433.83" y1="132.80" x2="433.83" y2="130.30" stroke="#222" stroke-width="0.8" />
<text x="433.83" y="140.80" font-size="6.2" font-family="'Liberation Sans', sans-serif" fill="#222" font-weight="bold" text-anchor="middle">400</text>
<line x1="477.67" y1="132.80" x2="477.67" y2="130.30" stroke="#222" stroke-width="0.8" />
<text x="477.67" y="140.80" font-size="6.2" font-family="'Liberation Sans', sans-serif" fill="#222" font-weight="bold" text-anchor="middle">450</text>
<line x1="521.50" y1="132.80" x2="521.50" y2="130.30" stroke="#222" stroke-width="0.8" />
<text x="521.50" y="140.80" font-size="6.2" font-family="'Liberation Sans', sans-serif" fill="#222" font-weight="bold" text-anchor="middle">500</text>
<line x1="381.23" y1="132.80" x2="381.23" y2="131.50" stroke="#222" stroke-width="0.6" />
<line x1="390.00" y1="132.80" x2="390.00" y2="131.50" stroke="#222" stroke-width="0.6" />
<line x1="398.77" y1="132.80" x2="398.77" y2="131.50" stroke="#222" stroke-width="0.6" />
<line x1="407.53" y1="132.80" x2="407.53" y2="131.50" stroke="#222" stroke-width="0.6" />
<line x1="416.30" y1="132.80" x2="416.30" y2="131.50" stroke="#222" stroke-width="0.6" />
<line x1="425.07" y1="132.80" x2="425.07" y2="131.50" stroke="#222" stroke-width="0.6" />
<line x1="433.83" y1="132.80" x2="433.83" y2="131.50" stroke="#222" stroke-width="0.6" />
<line x1="442.60" y1="132.80" x2="442.60" y2="131.50" stroke="#222" stroke-width="0.6" />
<line x1="451.37" y1="132.80" x2="451.37" y2="131.50" stroke="#222" stroke-width="0.6" />
<line x1="460.14" y1="132.80" x2="460.14" y2="131.50" stroke="#222" stroke-width="0.6" />
<line x1="468.90" y1="132.80" x2="468.90" y2="131.50" stroke="#222" stroke-width="0.6" />
<line x1="477.67" y1="132.80" x2="477.67" y2="131.50" stroke="#222" stroke-width="0.6" />
<line x1="486.44" y1="132.80" x2="486.44" y2="131.50" stroke="#222" stroke-width="0.6" />
<line x1="495.20" y1="132.80" x2="495.20" y2="131.50" stroke="#222" stroke-width="0.6" />
<line x1="503.97" y1="132.80" x2="503.97" y2="131.50" stroke="#222" stroke-width="0.6" />
<line x1="512.74" y1="132.80" x2="512.74" y2="131.50" stroke="#222" stroke-width="0.6" />
<line x1="521.50" y1="132.80" x2="521.50" y2="131.50" stroke="#222" stroke-width="0.6" />
<line x1="411.92" y1="27.60" x2="411.92" y2="29.10" stroke="#222" stroke-width="0.6" />
<line x1="455.75" y1="27.60" x2="455.75" y2="29.10" stroke="#222" stroke-width="0.6" />
<line x1="499.59" y1="27.60" x2="499.59" y2="29.10" stroke="#222" stroke-width="0.6" />
<line x1="390.30" y1="27.60" x2="390.30" y2="30.10" stroke="#222" stroke-width="0.8" />
<text x="390.30" y="24.70" font-size="6.06" font-family="'Liberation Sans', sans-serif" fill="#222" font-weight="bold" text-anchor="middle">3.54</text>
<line x1="433.80" y1="27.60" x2="433.80" y2="30.10" stroke="#222" stroke-width="0.8" />
<text x="433.80" y="24.70" font-size="6.06" font-family="'Liberation Sans', sans-serif" fill="#222" font-weight="bold" text-anchor="middle">3.10</text>
<line x1="477.60" y1="27.60" x2="477.60" y2="30.10" stroke="#222" stroke-width="0.8" />
<text x="477.60" y="24.70" font-size="6.06" font-family="'Liberation Sans', sans-serif" fill="#222" font-weight="bold" text-anchor="middle">2.76</text>
<line x1="521.90" y1="27.60" x2="521.90" y2="30.10" stroke="#222" stroke-width="0.8" />
<text x="521.90" y="24.70" font-size="6.06" font-family="'Liberation Sans', sans-serif" fill="#222" font-weight="bold" text-anchor="middle">2.48</text>
<text x="453.90" y="17.60" font-size="6.2" font-family="'Liberation Sans', sans-serif" fill="#222" font-weight="bold" text-anchor="middle">Wavelength (μm)</text>
<text x="455.00" y="147.20" font-size="6.36" font-family="'Liberation Sans', sans-serif" fill="#222" font-weight="bold" text-anchor="middle">Energy (meV)</text>
<text x="375.60" y="72.70" font-size="6.46" font-family="'Liberation Sans', sans-serif" fill="#222" font-weight="bold" text-anchor="middle" transform="rotate(-90 375.60 72.70)">Photocurrent (a.u)</text>
<line x1="381.80" y1="34.60" x2="391.00" y2="34.60" stroke="#111" stroke-width="1.7" />
<circle cx="386.4" cy="34.6" r="1.3" fill="#111" stroke="#fff" stroke-width="0.3"/>
<text x="391.60" y="36.90" font-size="6.1" font-family="'Liberation Sans', sans-serif" fill="#222" font-weight="bold">100 k</text>
<line x1="381.80" y1="42.65" x2="391.00" y2="42.65" stroke="#c8a08a" stroke-width="1.7" />
<circle cx="386.4" cy="42.650000000000006" r="1.3" fill="#c8a08a" stroke="#fff" stroke-width="0.3"/>
<text x="391.60" y="44.95" font-size="6.1" font-family="'Liberation Sans', sans-serif" fill="#222" font-weight="bold">150 k</text>
<line x1="381.80" y1="50.70" x2="391.00" y2="50.70" stroke="#4a40e0" stroke-width="1.7" />
<circle cx="386.4" cy="50.7" r="1.3" fill="#4a40e0" stroke="#fff" stroke-width="0.3"/>
<text x="391.60" y="53.00" font-size="6.1" font-family="'Liberation Sans', sans-serif" fill="#222" font-weight="bold">175 k</text>
<line x1="381.80" y1="58.75" x2="391.00" y2="58.75" stroke="#88a8b4" stroke-width="1.7" />
<circle cx="386.4" cy="58.75" r="1.3" fill="#88a8b4" stroke="#fff" stroke-width="0.3"/>
<text x="391.60" y="61.05" font-size="6.1" font-family="'Liberation Sans', sans-serif" fill="#222" font-weight="bold">190 k</text>
<line x1="381.80" y1="66.80" x2="391.00" y2="66.80" stroke="#d080ec" stroke-width="1.7" />
<circle cx="386.4" cy="66.80000000000001" r="1.3" fill="#d080ec" stroke="#fff" stroke-width="0.3"/>
<text x="391.60" y="69.10" font-size="6.1" font-family="'Liberation Sans', sans-serif" fill="#222" font-weight="bold">210K</text>
<line x1="381.80" y1="74.85" x2="391.00" y2="74.85" stroke="#8a8a18" stroke-width="1.7" />
<circle cx="386.4" cy="74.85" r="1.3" fill="#8a8a18" stroke="#fff" stroke-width="0.3"/>
<text x="391.60" y="77.15" font-size="6.1" font-family="'Liberation Sans', sans-serif" fill="#222" font-weight="bold">225K</text>
<line x1="381.80" y1="82.90" x2="391.00" y2="82.90" stroke="#3a3aa0" stroke-width="1.7" />
<circle cx="386.4" cy="82.9" r="1.3" fill="#3a3aa0" stroke="#fff" stroke-width="0.3"/>
<text x="391.60" y="85.20" font-size="6.1" font-family="'Liberation Sans', sans-serif" fill="#222" font-weight="bold">300K</text>
<rect x="469.60" y="40.90" width="55.40" height="45.10" fill="#fff" stroke="#222" stroke-width="0.8" />
<path d="M470.60,84.40 C470.83,84.33 471.45,84.23 472.00,84.00 C472.55,83.77 473.27,84.00 473.90,83.00 C474.53,82.00 475.18,79.80 475.80,78.00 C476.42,76.20 476.98,74.45 477.60,72.20 C478.22,69.95 478.87,67.03 479.50,64.50 C480.13,61.97 480.77,59.25 481.40,57.00 C482.03,54.75 482.67,52.87 483.30,51.00 C483.93,49.13 484.58,47.15 485.20,45.80 C485.82,44.45 486.37,43.12 487.00,42.90 C487.63,42.68 488.33,43.90 489.00,44.50 C489.67,45.10 490.07,45.82 491.00,46.50 C491.93,47.18 493.22,47.47 494.60,48.60 C495.98,49.73 498.07,52.23 499.30,53.30 C500.53,54.37 501.05,54.38 502.00,55.00 C502.95,55.62 504.00,55.92 505.00,57.00 C506.00,58.08 506.90,59.75 508.00,61.50 C509.10,63.25 510.35,65.62 511.60,67.50 C512.85,69.38 514.23,71.08 515.50,72.80 C516.77,74.52 518.12,76.52 519.20,77.80 C520.28,79.08 521.13,79.63 522.00,80.50 C522.87,81.37 524.00,82.58 524.40,83.00" fill="none" stroke="#5a50e0" stroke-width="3.4" stroke-linejoin="round" stroke-linecap="round" />
<path d="M470.60,83.00 C470.83,82.93 471.45,82.83 472.00,82.60 C472.55,82.37 473.27,82.60 473.90,81.60 C474.53,80.60 475.18,78.40 475.80,76.60 C476.42,74.80 476.98,73.05 477.60,70.80 C478.22,68.55 478.87,65.63 479.50,63.10 C480.13,60.57 480.77,57.85 481.40,55.60 C482.03,53.35 482.67,51.47 483.30,49.60 C483.93,47.73 484.58,45.75 485.20,44.40 C485.82,43.05 486.37,41.72 487.00,41.50 C487.63,41.28 488.33,42.50 489.00,43.10 C489.67,43.70 490.07,44.42 491.00,45.10 C491.93,45.78 493.22,46.07 494.60,47.20 C495.98,48.33 498.07,50.83 499.30,51.90 C500.53,52.97 501.05,52.98 502.00,53.60 C502.95,54.22 504.00,54.52 505.00,55.60 C506.00,56.68 506.90,58.35 508.00,60.10 C509.10,61.85 510.35,64.22 511.60,66.10 C512.85,67.98 514.23,69.68 515.50,71.40 C516.77,73.12 518.12,75.12 519.20,76.40 C520.28,77.68 521.13,78.23 522.00,79.10 C522.87,79.97 524.00,81.18 524.40,81.60" fill="none" stroke="#3428c0" stroke-width="1.0" stroke-linejoin="round" stroke-linecap="round" />
<path d="M470.60,85.00 C470.83,84.93 471.45,84.83 472.00,84.60 C472.55,84.37 473.27,84.60 473.90,83.60 C474.53,82.60 475.18,80.40 475.80,78.60 C476.42,76.80 476.98,75.05 477.60,72.80 C478.22,70.55 478.87,67.63 479.50,65.10 C480.13,62.57 480.77,59.85 481.40,57.60 C482.03,55.35 482.67,53.47 483.30,51.60 C483.93,49.73 484.58,47.75 485.20,46.40 C485.82,45.05 486.37,43.72 487.00,43.50 C487.63,43.28 488.33,44.50 489.00,45.10 C489.67,45.70 490.07,46.42 491.00,47.10 C491.93,47.78 493.22,48.07 494.60,49.20 C495.98,50.33 498.07,52.83 499.30,53.90 C500.53,54.97 501.05,54.98 502.00,55.60 C502.95,56.22 504.00,56.52 505.00,57.60 C506.00,58.68 506.90,60.35 508.00,62.10 C509.10,63.85 510.35,66.22 511.60,68.10 C512.85,69.98 514.23,71.68 515.50,73.40 C516.77,75.12 518.12,77.12 519.20,78.40 C520.28,79.68 521.13,80.23 522.00,81.10 C522.87,81.97 524.00,83.18 524.40,83.60" fill="none" stroke="#8a80ee" stroke-width="0.8" stroke-linejoin="round" stroke-linecap="round" />
<path d="M470.60,84.60 C470.83,84.57 471.43,84.58 472.00,84.40 C472.57,84.22 473.33,84.40 474.00,83.50 C474.67,82.60 475.40,80.42 476.00,79.00 C476.60,77.58 477.02,76.75 477.60,75.00 C478.18,73.25 478.87,70.55 479.50,68.50 C480.13,66.45 480.77,64.45 481.40,62.70 C482.03,60.95 482.67,59.25 483.30,58.00 C483.93,56.75 484.58,55.98 485.20,55.20 C485.82,54.42 486.37,53.58 487.00,53.30 C487.63,53.02 488.17,53.08 489.00,53.50 C489.83,53.92 491.00,55.08 492.00,55.80 C493.00,56.52 493.93,57.12 495.00,57.80 C496.07,58.48 497.15,58.83 498.40,59.90 C499.65,60.97 501.08,62.63 502.50,64.20 C503.92,65.77 505.48,67.67 506.90,69.30 C508.32,70.93 509.58,72.42 511.00,74.00 C512.42,75.58 514.07,77.60 515.40,78.80 C516.73,80.00 517.90,80.58 519.00,81.20 C520.10,81.82 521.10,82.03 522.00,82.50 C522.90,82.97 524.00,83.75 524.40,84.00" fill="none" stroke="#111" stroke-width="1.5" stroke-linejoin="round" stroke-linecap="round" />
<text x="473.60" y="91.00" font-size="4.5" font-family="'Liberation Sans', sans-serif" fill="#333" font-weight="bold" text-anchor="middle">360</text>
<line x1="473.60" y1="86.00" x2="473.60" y2="84.50" stroke="#333" stroke-width="0.5" />
<text x="485.40" y="91.00" font-size="4.5" font-family="'Liberation Sans', sans-serif" fill="#333" font-weight="bold" text-anchor="middle">390</text>
<line x1="485.40" y1="86.00" x2="485.40" y2="84.50" stroke="#333" stroke-width="0.5" />
<text x="497.20" y="91.00" font-size="4.5" font-family="'Liberation Sans', sans-serif" fill="#333" font-weight="bold" text-anchor="middle">420</text>
<line x1="497.20" y1="86.00" x2="497.20" y2="84.50" stroke="#333" stroke-width="0.5" />
<text x="509.00" y="91.00" font-size="4.5" font-family="'Liberation Sans', sans-serif" fill="#333" font-weight="bold" text-anchor="middle">450</text>
<line x1="509.00" y1="86.00" x2="509.00" y2="84.50" stroke="#333" stroke-width="0.5" />
<text x="520.80" y="91.00" font-size="4.5" font-family="'Liberation Sans', sans-serif" fill="#333" font-weight="bold" text-anchor="middle">480</text>
<line x1="520.80" y1="86.00" x2="520.80" y2="84.50" stroke="#333" stroke-width="0.5" />
<text x="468.40" y="52.10" font-size="4.3" font-family="'Liberation Sans', sans-serif" fill="#333" font-weight="bold" text-anchor="end">150</text>
<line x1="469.60" y1="50.60" x2="471.10" y2="50.60" stroke="#333" stroke-width="0.5" />
<text x="468.40" y="63.40" font-size="4.3" font-family="'Liberation Sans', sans-serif" fill="#333" font-weight="bold" text-anchor="end">100</text>
<line x1="469.60" y1="61.90" x2="471.10" y2="61.90" stroke="#333" stroke-width="0.5" />
<text x="468.40" y="74.70" font-size="4.3" font-family="'Liberation Sans', sans-serif" fill="#333" font-weight="bold" text-anchor="end">50</text>
<line x1="469.60" y1="73.20" x2="471.10" y2="73.20" stroke="#333" stroke-width="0.5" />
<text x="468.40" y="86.00" font-size="4.3" font-family="'Liberation Sans', sans-serif" fill="#333" font-weight="bold" text-anchor="end">0</text>
<line x1="469.60" y1="84.50" x2="471.10" y2="84.50" stroke="#333" stroke-width="0.5" />
<text x="499.60" y="34.60" font-size="5.1" font-family="'Liberation Sans', sans-serif" fill="#222" font-weight="bold" text-anchor="middle">Wavelength (μm)</text>
<text x="498.20" y="40.00" font-size="4.8" font-family="'Liberation Sans', sans-serif" fill="#222" font-weight="bold" text-anchor="middle" textLength="52.4" lengthAdjust="spacingAndGlyphs">3.46 3.18 2.95 2.76 2.58</text>
<text x="498.90" y="98.00" font-size="4.8" font-family="'Liberation Sans', sans-serif" fill="#333" font-weight="bold" text-anchor="middle">Energy (meV)</text>
<text x="461.40" y="64.90" font-size="4.4" font-family="'Liberation Sans', sans-serif" fill="#333" font-weight="bold" text-anchor="middle" transform="rotate(-90 461.40 64.90)">Photocurrent (a.u)</text>
<line x1="506.00" y1="45.50" x2="512.30" y2="45.50" stroke="#111" stroke-width="0.9" />
<ellipse cx="509" cy="45.5" rx="1.4" ry="0.9" fill="#fff" stroke="#111" stroke-width="0.6"/>
<text x="512.30" y="47.10" font-size="4.4" font-family="'Liberation Sans', sans-serif" fill="#333" font-weight="bold">-0.1 V</text>
<line x1="506.00" y1="50.50" x2="512.30" y2="50.50" stroke="#4038d0" stroke-width="0.9" />
<ellipse cx="509" cy="50.5" rx="1.4" ry="0.9" fill="#fff" stroke="#4038d0" stroke-width="0.6"/>
<text x="512.30" y="52.10" font-size="4.4" font-family="'Liberation Sans', sans-serif" fill="#333" font-weight="bold">-0.3 V</text>
<line x1="506.00" y1="55.50" x2="512.30" y2="55.50" stroke="#8070e0" stroke-width="0.9" />
<ellipse cx="509" cy="55.5" rx="1.4" ry="0.9" fill="#fff" stroke="#8070e0" stroke-width="0.6"/>
<text x="512.30" y="57.10" font-size="4.4" font-family="'Liberation Sans', sans-serif" fill="#333" font-weight="bold">-0.5 V</text>
<line x1="506.00" y1="60.50" x2="512.30" y2="60.50" stroke="#5048c8" stroke-width="0.9" />
<ellipse cx="509" cy="60.5" rx="1.4" ry="0.9" fill="#fff" stroke="#5048c8" stroke-width="0.6"/>
<text x="512.30" y="62.10" font-size="4.4" font-family="'Liberation Sans', sans-serif" fill="#333" font-weight="bold">-0.7 V</text>
<text x="3.30" y="160.00" font-family="'Liberation Serif', serif" fill="#111"><tspan font-size="16.8">(</tspan><tspan font-size="15" font-weight="bold">d</tspan><tspan font-size="16.8">)</tspan></text>
<path d="M96,232 L108,229 L118,233 L128,242 L136,255 L142,264 L150,270 L110,262 L98,255 Z" fill="#fbeef8"/>
<path d="M25.50,270.50 C27.92,270.17 36.92,269.08 40.00,268.50 C43.08,267.92 42.83,267.42 44.00,267.00 C45.17,266.58 46.00,266.08 47.00,266.00 C48.00,265.92 49.00,266.67 50.00,266.50 C51.00,266.33 52.50,265.25 53.00,265.00" fill="none" stroke="#c04040" stroke-width="1.6" stroke-linejoin="round" stroke-linecap="round" />
<path d="M25.50,270.00 C27.75,269.62 35.20,268.87 39.00,267.70 C42.80,266.53 45.80,264.12 48.30,263.00 C50.80,261.88 52.07,261.58 54.00,261.00 C55.93,260.42 58.07,259.87 59.90,259.50 C61.73,259.13 63.07,258.98 65.00,258.80 C66.93,258.62 69.67,258.62 71.50,258.40 C73.33,258.18 74.45,257.50 76.00,257.50 C77.55,257.50 79.22,257.87 80.80,258.40 C82.38,258.93 83.97,260.18 85.50,260.70 C87.03,261.22 88.45,261.30 90.00,261.50 C91.55,261.70 93.13,262.07 94.80,261.90 C96.47,261.73 98.07,260.90 100.00,260.50 C101.93,260.10 104.13,259.47 106.40,259.50 C108.67,259.53 111.67,260.30 113.60,260.70 C115.53,261.10 116.07,261.13 118.00,261.90 C119.93,262.67 123.20,264.37 125.20,265.30 C127.20,266.23 128.45,266.92 130.00,267.50 C131.55,268.08 132.00,268.30 134.50,268.80 C137.00,269.30 137.08,270.13 145.00,270.50 C152.92,270.87 175.83,270.92 182.00,271.00" fill="none" stroke="#8a9a20" stroke-width="2.0" stroke-linejoin="round" stroke-linecap="round" />
<path d="M25.50,270.50 C27.92,270.08 35.92,268.92 40.00,268.00 C44.08,267.08 47.33,266.33 50.00,265.00 C52.67,263.67 54.00,262.83 56.00,260.00 C58.00,257.17 60.17,252.67 62.00,248.00 C63.83,243.33 65.50,237.67 67.00,232.00 C68.50,226.33 69.67,219.67 71.00,214.00 C72.33,208.33 73.75,202.67 75.00,198.00 C76.25,193.33 77.42,189.00 78.50,186.00 C79.58,183.00 80.58,180.83 81.50,180.00 C82.42,179.17 83.17,179.83 84.00,181.00 C84.83,182.17 85.50,184.00 86.50,187.00 C87.50,190.00 88.75,194.67 90.00,199.00 C91.25,203.33 92.67,208.50 94.00,213.00 C95.33,217.50 96.67,222.17 98.00,226.00 C99.33,229.83 100.60,233.33 102.00,236.00 C103.40,238.67 104.73,240.50 106.40,242.00 C108.07,243.50 110.07,244.17 112.00,245.00 C113.93,245.83 115.83,246.33 118.00,247.00 C120.17,247.67 123.00,248.00 125.00,249.00 C127.00,250.00 128.33,251.33 130.00,253.00 C131.67,254.67 133.33,256.83 135.00,259.00 C136.67,261.17 138.17,264.17 140.00,266.00 C141.83,267.83 139.00,269.17 146.00,270.00 C153.00,270.83 176.00,270.83 182.00,271.00" fill="none" stroke="#b87050" stroke-width="2.2" stroke-linejoin="round" stroke-linecap="round" />
<path d="M25.50,271.00 C28.25,270.67 38.25,269.83 42.00,269.00 C45.75,268.17 46.18,267.67 48.00,266.00 C49.82,264.33 51.57,261.33 52.90,259.00 C54.23,256.67 54.83,254.67 56.00,252.00 C57.17,249.33 58.73,245.83 59.90,243.00 C61.07,240.17 61.83,237.67 63.00,235.00 C64.17,232.33 65.65,229.83 66.90,227.00 C68.15,224.17 69.35,220.50 70.50,218.00 C71.65,215.50 72.72,212.58 73.80,212.00 C74.88,211.42 75.83,213.33 77.00,214.50 C78.17,215.67 79.47,217.08 80.80,219.00 C82.13,220.92 83.45,223.75 85.00,226.00 C86.55,228.25 88.43,231.00 90.10,232.50 C91.77,234.00 93.45,234.57 95.00,235.00 C96.55,235.43 97.90,235.35 99.40,235.10 C100.90,234.85 102.45,233.88 104.00,233.50 C105.55,233.12 107.20,232.80 108.70,232.80 C110.20,232.80 111.45,233.12 113.00,233.50 C114.55,233.88 116.00,234.02 118.00,235.10 C120.00,236.18 123.17,237.85 125.00,240.00 C126.83,242.15 127.80,245.33 129.00,248.00 C130.20,250.67 130.87,253.50 132.20,256.00 C133.53,258.50 135.45,261.05 137.00,263.00 C138.55,264.95 139.33,266.53 141.50,267.70 C143.67,268.87 143.25,269.53 150.00,270.00 C156.75,270.47 176.67,270.42 182.00,270.50" fill="none" stroke="#c060f0" stroke-width="2.4" stroke-linejoin="round" stroke-linecap="round" />
<path d="M25.50,271.00 C27.92,270.67 36.25,269.83 40.00,269.00 C43.75,268.17 46.00,267.33 48.00,266.00 C50.00,264.67 50.67,263.67 52.00,261.00 C53.33,258.33 54.67,254.00 56.00,250.00 C57.33,246.00 58.67,241.67 60.00,237.00 C61.33,232.33 62.67,227.00 64.00,222.00 C65.33,217.00 66.83,211.33 68.00,207.00 C69.17,202.67 70.08,198.83 71.00,196.00 C71.92,193.17 72.67,191.33 73.50,190.00 C74.33,188.67 75.08,187.83 76.00,188.00 C76.92,188.17 78.00,189.17 79.00,191.00 C80.00,192.83 81.00,195.83 82.00,199.00 C83.00,202.17 84.00,206.50 85.00,210.00 C86.00,213.50 86.83,217.33 88.00,220.00 C89.17,222.67 90.67,224.50 92.00,226.00 C93.33,227.50 94.67,228.33 96.00,229.00 C97.33,229.67 98.67,230.00 100.00,230.00 C101.33,230.00 102.55,229.20 104.00,229.00 C105.45,228.80 107.20,228.72 108.70,228.80 C110.20,228.88 111.40,228.88 113.00,229.50 C114.60,230.12 116.47,231.25 118.30,232.50 C120.13,233.75 122.07,235.33 124.00,237.00 C125.93,238.67 128.07,240.00 129.90,242.50 C131.73,245.00 133.07,248.58 135.00,252.00 C136.93,255.42 139.25,260.20 141.50,263.00 C143.75,265.80 146.25,267.63 148.50,268.80 C150.75,269.97 149.42,269.80 155.00,270.00 C160.58,270.20 177.50,270.00 182.00,270.00" fill="none" stroke="#5878a8" stroke-width="2.4" stroke-linejoin="round" stroke-linecap="round" />
<path d="M25.50,271.00 C28.25,270.67 38.25,269.83 42.00,269.00 C45.75,268.17 46.18,268.00 48.00,266.00 C49.82,264.00 51.57,260.17 52.90,257.00 C54.23,253.83 54.83,250.83 56.00,247.00 C57.17,243.17 58.73,238.17 59.90,234.00 C61.07,229.83 61.83,226.33 63.00,222.00 C64.17,217.67 65.73,212.17 66.90,208.00 C68.07,203.83 68.98,200.00 70.00,197.00 C71.02,194.00 72.17,191.40 73.00,190.00 C73.83,188.60 74.33,188.60 75.00,188.60 C75.67,188.60 76.03,188.77 77.00,190.00 C77.97,191.23 79.63,193.00 80.80,196.00 C81.97,199.00 82.83,203.80 84.00,208.00 C85.17,212.20 86.63,217.53 87.80,221.20 C88.97,224.87 89.83,227.30 91.00,230.00 C92.17,232.70 93.63,235.65 94.80,237.40 C95.97,239.15 96.85,239.72 98.00,240.50 C99.15,241.28 100.53,242.18 101.70,242.10 C102.87,242.02 103.83,240.38 105.00,240.00 C106.17,239.62 107.37,239.72 108.70,239.80 C110.03,239.88 111.45,240.12 113.00,240.50 C114.55,240.88 116.00,241.07 118.00,242.10 C120.00,243.13 123.00,245.05 125.00,246.70 C127.00,248.35 128.17,249.78 130.00,252.00 C131.83,254.22 134.00,257.50 136.00,260.00 C138.00,262.50 139.67,265.33 142.00,267.00 C144.33,268.67 143.33,269.42 150.00,270.00 C156.67,270.58 176.67,270.42 182.00,270.50" fill="none" stroke="#5030e0" stroke-width="2.2" stroke-linejoin="round" stroke-linecap="round" />
<path d="M25.50,270.50 C27.75,270.22 35.20,269.47 39.00,268.80 C42.80,268.13 46.13,267.13 48.30,266.50 C50.47,265.87 50.85,265.58 52.00,265.00 C53.15,264.42 54.12,264.17 55.20,263.00 C56.28,261.83 57.33,259.93 58.50,258.00 C59.67,256.07 61.20,253.57 62.20,251.40 C63.20,249.23 63.72,247.33 64.50,245.00 C65.28,242.67 66.15,240.23 66.90,237.40 C67.65,234.57 68.23,231.48 69.00,228.00 C69.77,224.52 70.50,221.17 71.50,216.50 C72.50,211.83 73.83,204.65 75.00,200.00 C76.17,195.35 77.50,191.77 78.50,188.60 C79.50,185.43 80.23,182.63 81.00,181.00 C81.77,179.37 82.43,178.97 83.10,178.80 C83.77,178.63 84.22,179.13 85.00,180.00 C85.78,180.87 86.97,182.00 87.80,184.00 C88.63,186.00 89.23,188.90 90.00,192.00 C90.77,195.10 91.40,198.60 92.40,202.60 C93.40,206.60 94.83,211.35 96.00,216.00 C97.17,220.65 98.23,226.33 99.40,230.50 C100.57,234.67 101.83,238.10 103.00,241.00 C104.17,243.90 105.23,246.07 106.40,247.90 C107.57,249.73 108.83,251.03 110.00,252.00 C111.17,252.97 112.07,253.03 113.40,253.70 C114.73,254.37 116.57,255.45 118.00,256.00 C119.43,256.55 120.83,256.80 122.00,257.00 C123.17,257.20 124.00,257.03 125.00,257.20 C126.00,257.37 127.00,257.53 128.00,258.00 C129.00,258.47 129.83,259.33 131.00,260.00 C132.17,260.67 133.50,260.83 135.00,262.00 C136.50,263.17 138.17,265.67 140.00,267.00 C141.83,268.33 143.50,269.33 146.00,270.00 C148.50,270.67 151.83,270.92 155.00,271.00 C158.17,271.08 161.67,270.50 165.00,270.50 C168.33,270.50 172.17,271.00 175.00,271.00 C177.83,271.00 180.83,270.58 182.00,270.50" fill="none" stroke="#111" stroke-width="2.0" stroke-linejoin="round" stroke-linecap="round" />
<path d="M25.50,271.40 C29.30,271.13 40.63,270.17 48.30,269.80 C55.97,269.43 63.75,269.30 71.50,269.20 C79.25,269.10 85.88,269.10 94.80,269.20 C103.72,269.30 115.80,269.57 125.00,269.80 C134.20,270.03 140.50,270.37 150.00,270.60 C159.50,270.83 176.67,271.10 182.00,271.20" fill="none" stroke="#20208a" stroke-width="2.0" stroke-linejoin="round" stroke-linecap="round" />
<line x1="83.60" y1="170.50" x2="83.60" y2="273.70" stroke="#444" stroke-width="0.9" />
<rect x="25.50" y="170.50" width="156.90" height="103.20" fill="none" stroke="#222" stroke-width="1.2" />
<line x1="44.50" y1="273.70" x2="44.50" y2="271.20" stroke="#222" stroke-width="0.8" />
<text x="44.50" y="281.40" font-size="6.6" font-family="'Liberation Sans', sans-serif" fill="#222" font-weight="bold" text-anchor="middle" textLength="15.5" lengthAdjust="spacingAndGlyphs">180</text>
<line x1="74.50" y1="273.70" x2="74.50" y2="271.20" stroke="#222" stroke-width="0.8" />
<text x="74.50" y="281.40" font-size="6.6" font-family="'Liberation Sans', sans-serif" fill="#222" font-weight="bold" text-anchor="middle" textLength="15.5" lengthAdjust="spacingAndGlyphs">192</text>
<line x1="104.50" y1="273.70" x2="104.50" y2="271.20" stroke="#222" stroke-width="0.8" />
<text x="104.50" y="281.40" font-size="6.6" font-family="'Liberation Sans', sans-serif" fill="#222" font-weight="bold" text-anchor="middle" textLength="15.5" lengthAdjust="spacingAndGlyphs">204</text>
<line x1="134.50" y1="273.70" x2="134.50" y2="271.20" stroke="#222" stroke-width="0.8" />
<text x="134.50" y="281.40" font-size="6.6" font-family="'Liberation Sans', sans-serif" fill="#222" font-weight="bold" text-anchor="middle" textLength="15.5" lengthAdjust="spacingAndGlyphs">216</text>
<line x1="164.50" y1="273.70" x2="164.50" y2="271.20" stroke="#222" stroke-width="0.8" />
<text x="164.50" y="281.40" font-size="6.6" font-family="'Liberation Sans', sans-serif" fill="#222" font-weight="bold" text-anchor="middle" textLength="15.5" lengthAdjust="spacingAndGlyphs">228</text>
<line x1="29.50" y1="273.70" x2="29.50" y2="272.40" stroke="#222" stroke-width="0.6" />
<line x1="29.50" y1="170.50" x2="29.50" y2="171.80" stroke="#222" stroke-width="0.6" />
<line x1="44.50" y1="273.70" x2="44.50" y2="272.40" stroke="#222" stroke-width="0.6" />
<line x1="44.50" y1="170.50" x2="44.50" y2="171.80" stroke="#222" stroke-width="0.6" />
<line x1="59.50" y1="273.70" x2="59.50" y2="272.40" stroke="#222" stroke-width="0.6" />
<line x1="59.50" y1="170.50" x2="59.50" y2="171.80" stroke="#222" stroke-width="0.6" />
<line x1="74.50" y1="273.70" x2="74.50" y2="272.40" stroke="#222" stroke-width="0.6" />
<line x1="74.50" y1="170.50" x2="74.50" y2="171.80" stroke="#222" stroke-width="0.6" />
<line x1="89.50" y1="273.70" x2="89.50" y2="272.40" stroke="#222" stroke-width="0.6" />
<line x1="89.50" y1="170.50" x2="89.50" y2="171.80" stroke="#222" stroke-width="0.6" />
<line x1="104.50" y1="273.70" x2="104.50" y2="272.40" stroke="#222" stroke-width="0.6" />
<line x1="104.50" y1="170.50" x2="104.50" y2="171.80" stroke="#222" stroke-width="0.6" />
<line x1="119.50" y1="273.70" x2="119.50" y2="272.40" stroke="#222" stroke-width="0.6" />
<line x1="119.50" y1="170.50" x2="119.50" y2="171.80" stroke="#222" stroke-width="0.6" />
<line x1="134.50" y1="273.70" x2="134.50" y2="272.40" stroke="#222" stroke-width="0.6" />
<line x1="134.50" y1="170.50" x2="134.50" y2="171.80" stroke="#222" stroke-width="0.6" />
<line x1="149.50" y1="273.70" x2="149.50" y2="272.40" stroke="#222" stroke-width="0.6" />
<line x1="149.50" y1="170.50" x2="149.50" y2="171.80" stroke="#222" stroke-width="0.6" />
<line x1="164.50" y1="273.70" x2="164.50" y2="272.40" stroke="#222" stroke-width="0.6" />
<line x1="164.50" y1="170.50" x2="164.50" y2="171.80" stroke="#222" stroke-width="0.6" />
<line x1="179.50" y1="273.70" x2="179.50" y2="272.40" stroke="#222" stroke-width="0.6" />
<line x1="179.50" y1="170.50" x2="179.50" y2="171.80" stroke="#222" stroke-width="0.6" />
<line x1="45.40" y1="170.50" x2="45.40" y2="173.00" stroke="#222" stroke-width="0.8" />
<text x="45.40" y="167.80" font-size="6.6" font-family="'Liberation Sans', sans-serif" fill="#222" font-weight="bold" text-anchor="middle" textLength="17" lengthAdjust="spacingAndGlyphs">6.89</text>
<line x1="74.90" y1="170.50" x2="74.90" y2="173.00" stroke="#222" stroke-width="0.8" />
<text x="74.90" y="167.80" font-size="6.6" font-family="'Liberation Sans', sans-serif" fill="#222" font-weight="bold" text-anchor="middle" textLength="17" lengthAdjust="spacingAndGlyphs">6.46</text>
<line x1="104.60" y1="170.50" x2="104.60" y2="173.00" stroke="#222" stroke-width="0.8" />
<text x="104.60" y="167.80" font-size="6.6" font-family="'Liberation Sans', sans-serif" fill="#222" font-weight="bold" text-anchor="middle" textLength="17" lengthAdjust="spacingAndGlyphs">6.08</text>
<line x1="133.70" y1="170.50" x2="133.70" y2="173.00" stroke="#222" stroke-width="0.8" />
<text x="133.70" y="167.80" font-size="6.6" font-family="'Liberation Sans', sans-serif" fill="#222" font-weight="bold" text-anchor="middle" textLength="17" lengthAdjust="spacingAndGlyphs">5.74</text>
<line x1="164.20" y1="170.50" x2="164.20" y2="173.00" stroke="#222" stroke-width="0.8" />
<text x="164.20" y="167.80" font-size="6.6" font-family="'Liberation Sans', sans-serif" fill="#222" font-weight="bold" text-anchor="middle" textLength="17" lengthAdjust="spacingAndGlyphs">5.44</text>
<text x="100.05" y="160.2" font-size="7.4" font-family="'Liberation Sans', sans-serif" font-weight="bold" text-anchor="middle" fill="#222" textLength="72.5">Wavelength (μm)</text>
<text x="106.1" y="290.2" font-size="7.4" font-family="'Liberation Sans', sans-serif" font-weight="bold" text-anchor="middle" fill="#222" textLength="57.8">Energy (meV)</text>
<text x="22.60" y="220.00" font-size="7.6" font-family="'Liberation Sans', sans-serif" fill="#222" font-weight="bold" text-anchor="middle" transform="rotate(-90 22.60 220.00)">Photocurrent (a.u)</text>
<line x1="28.40" y1="180.40" x2="37.10" y2="180.40" stroke="#111" stroke-width="1.5" />
<circle cx="32.7" cy="180.4" r="1.3" fill="#111"/>
<text x="38.5" y="182.80" font-size="6.6" font-family="'Liberation Sans', sans-serif" font-weight="bold" fill="#222" textLength="16.8">100K</text>
<line x1="28.40" y1="188.25" x2="37.10" y2="188.25" stroke="#b87050" stroke-width="1.5" />
<circle cx="32.7" cy="188.25" r="1.3" fill="#b87050"/>
<text x="38.5" y="190.65" font-size="6.6" font-family="'Liberation Sans', sans-serif" font-weight="bold" fill="#222" textLength="16.8">125K</text>
<line x1="28.40" y1="196.10" x2="37.10" y2="196.10" stroke="#5030e0" stroke-width="1.5" />
<circle cx="32.7" cy="196.1" r="1.3" fill="#5030e0"/>
<text x="38.5" y="198.50" font-size="6.6" font-family="'Liberation Sans', sans-serif" font-weight="bold" fill="#222" textLength="16.8">150K</text>
<line x1="28.40" y1="203.95" x2="37.10" y2="203.95" stroke="#30a080" stroke-width="1.5" />
<circle cx="32.7" cy="203.95" r="1.3" fill="#30a080"/>
<text x="38.5" y="206.35" font-size="6.6" font-family="'Liberation Sans', sans-serif" font-weight="bold" fill="#222" textLength="16.8">175K</text>
<line x1="28.40" y1="211.80" x2="37.10" y2="211.80" stroke="#c060f0" stroke-width="1.5" />
<circle cx="32.7" cy="211.8" r="1.3" fill="#c060f0"/>
<text x="38.5" y="214.20" font-size="6.6" font-family="'Liberation Sans', sans-serif" font-weight="bold" fill="#222" textLength="16.8">200K</text>
<line x1="28.40" y1="219.65" x2="37.10" y2="219.65" stroke="#8a9a20" stroke-width="1.5" />
<circle cx="32.7" cy="219.65" r="1.3" fill="#8a9a20"/>
<text x="38.5" y="222.05" font-size="6.6" font-family="'Liberation Sans', sans-serif" font-weight="bold" fill="#222" textLength="16.8">225K</text>
<line x1="28.40" y1="227.50" x2="37.10" y2="227.50" stroke="#3030a0" stroke-width="1.5" />
<circle cx="32.7" cy="227.5" r="1.3" fill="#3030a0"/>
<text x="38.5" y="229.90" font-size="6.6" font-family="'Liberation Sans', sans-serif" font-weight="bold" fill="#222" textLength="16.8">300K</text>
<rect x="115.30" y="183.00" width="62.30" height="43.20" fill="#fff" stroke="#222" stroke-width="0.8" />
<path d="M115.80,222.50 C116.63,222.50 119.12,222.87 120.80,222.50 C122.48,222.13 124.57,221.63 125.90,220.30 C127.23,218.97 127.82,216.93 128.80,214.50 C129.78,212.07 130.82,208.75 131.80,205.70 C132.78,202.65 133.85,198.88 134.70,196.20 C135.55,193.52 136.17,191.20 136.90,189.60 C137.63,188.00 138.37,187.22 139.10,186.60 C139.83,185.98 140.57,185.65 141.30,185.90 C142.03,186.15 142.77,188.10 143.50,188.10 C144.23,188.10 144.97,186.15 145.70,185.90 C146.43,185.65 147.17,185.98 147.90,186.60 C148.63,187.22 149.37,188.37 150.10,189.60 C150.83,190.83 151.57,192.05 152.30,194.00 C153.03,195.95 153.65,198.62 154.50,201.30 C155.35,203.98 156.43,207.42 157.40,210.10 C158.37,212.78 159.33,215.45 160.30,217.40 C161.27,219.35 161.98,220.83 163.20,221.80 C164.42,222.77 165.30,222.83 167.60,223.20 C169.90,223.57 175.43,223.87 177.00,224.00" fill="none" stroke="#7c9a34" stroke-width="2.6" stroke-linejoin="round" stroke-linecap="round" />
<path d="M115.80,222.50 C116.63,222.50 119.12,222.86 120.80,222.50 C122.48,222.14 124.57,221.65 125.90,220.34 C127.23,219.02 127.82,217.02 128.80,214.63 C129.78,212.24 130.82,208.98 131.80,205.98 C132.78,202.98 133.85,199.27 134.70,196.63 C135.55,193.99 136.17,191.71 136.90,190.14 C137.63,188.57 138.37,187.80 139.10,187.19 C139.83,186.58 140.57,186.25 141.30,186.50 C142.03,186.75 142.77,188.66 143.50,188.66 C144.23,188.66 144.97,186.75 145.70,186.50 C146.43,186.25 147.17,186.58 147.90,187.19 C148.63,187.80 149.37,188.93 150.10,190.14 C150.83,191.35 151.57,192.55 152.30,194.47 C153.03,196.39 153.65,199.01 154.50,201.65 C155.35,204.29 156.43,207.66 157.40,210.30 C158.37,212.94 159.33,215.57 160.30,217.48 C161.27,219.40 161.98,220.86 163.20,221.81 C164.42,222.76 165.30,222.84 167.60,223.20 C169.90,223.56 175.43,223.87 177.00,224.00" fill="none" stroke="#5a8aa8" stroke-width="0.9" stroke-linejoin="round" stroke-linecap="round" />
<path d="M115.80,222.50 C116.63,222.50 119.12,222.82 120.80,222.50 C122.48,222.18 124.57,221.75 125.90,220.60 C127.23,219.45 127.82,217.69 128.80,215.59 C129.78,213.49 130.82,210.63 131.80,208.00 C132.78,205.36 133.85,202.11 134.70,199.79 C135.55,197.48 136.17,195.48 136.90,194.09 C137.63,192.71 138.37,192.04 139.10,191.50 C139.83,190.97 140.57,190.68 141.30,190.90 C142.03,191.12 142.77,192.80 143.50,192.80 C144.23,192.80 144.97,191.12 145.70,190.90 C146.43,190.68 147.17,190.97 147.90,191.50 C148.63,192.04 149.37,193.03 150.10,194.09 C150.83,195.16 151.57,196.21 152.30,197.89 C153.03,199.58 153.65,201.88 154.50,204.20 C155.35,206.51 156.43,209.48 157.40,211.79 C158.37,214.11 159.33,216.41 160.30,218.10 C161.27,219.78 161.98,221.05 163.20,221.90 C164.42,222.75 165.30,222.85 167.60,223.20 C169.90,223.55 175.43,223.87 177.00,224.00" fill="none" stroke="#d89840" stroke-width="1.5" stroke-linejoin="round" stroke-linecap="round" />
<path d="M115.80,222.50 C116.63,222.50 119.12,222.77 120.80,222.50 C122.48,222.23 124.57,221.86 125.90,220.87 C127.23,219.88 127.82,218.38 128.80,216.58 C129.78,214.77 130.82,212.32 131.80,210.06 C132.78,207.80 133.85,205.01 134.70,203.03 C135.55,201.04 136.17,199.32 136.90,198.14 C137.63,196.95 138.37,196.37 139.10,195.92 C139.83,195.46 140.57,195.21 141.30,195.40 C142.03,195.59 142.77,197.03 143.50,197.03 C144.23,197.03 144.97,195.59 145.70,195.40 C146.43,195.21 147.17,195.46 147.90,195.92 C148.63,196.37 149.37,197.23 150.10,198.14 C150.83,199.05 151.57,199.95 152.30,201.40 C153.03,202.84 153.65,204.82 154.50,206.80 C155.35,208.79 156.43,211.33 157.40,213.32 C158.37,215.31 159.33,217.28 160.30,218.72 C161.27,220.17 161.98,221.24 163.20,221.98 C164.42,222.73 165.30,222.86 167.60,223.20 C169.90,223.54 175.43,223.87 177.00,224.00" fill="none" stroke="#f4a8c8" stroke-width="1.6" stroke-linejoin="round" stroke-linecap="round" />
<path d="M115.80,223.50 C116.67,223.50 119.32,223.75 121.00,223.50 C122.68,223.25 124.72,222.53 125.90,222.00 C127.08,221.47 127.25,221.55 128.10,220.30 C128.95,219.05 130.02,216.70 131.00,214.50 C131.98,212.30 133.17,209.27 134.00,207.10 C134.83,204.93 135.40,202.83 136.00,201.50 C136.60,200.17 136.93,199.58 137.60,199.10 C138.27,198.62 139.02,198.48 140.00,198.60 C140.98,198.72 142.50,199.77 143.50,199.80 C144.50,199.83 145.03,198.92 146.00,198.80 C146.97,198.68 148.25,198.45 149.30,199.10 C150.35,199.75 151.20,200.63 152.30,202.70 C153.40,204.77 154.57,208.80 155.90,211.50 C157.23,214.20 158.83,217.07 160.30,218.90 C161.77,220.73 163.08,221.72 164.70,222.50 C166.32,223.28 167.95,223.32 170.00,223.60 C172.05,223.88 175.83,224.10 177.00,224.20" fill="none" stroke="#111" stroke-width="1.8" stroke-linejoin="round" stroke-linecap="round" />
<text x="124.4" y="230.9" font-size="4.0" font-family="'Liberation Sans', sans-serif" font-weight="bold" text-anchor="middle" fill="#333" textLength="8">176</text>
<text x="136.9" y="230.9" font-size="4.0" font-family="'Liberation Sans', sans-serif" font-weight="bold" text-anchor="middle" fill="#333" textLength="8">192</text>
<text x="148.8" y="230.9" font-size="4.0" font-family="'Liberation Sans', sans-serif" font-weight="bold" text-anchor="middle" fill="#333" textLength="8">208</text>
<text x="161.0" y="230.9" font-size="4.0" font-family="'Liberation Sans', sans-serif" font-weight="bold" text-anchor="middle" fill="#333" textLength="8">224</text>
<text x="175.0" y="230.9" font-size="4.0" font-family="'Liberation Sans', sans-serif" font-weight="bold" text-anchor="middle" fill="#333" textLength="8">240</text>
<text x="149.7" y="176.3" font-size="4.4" font-family="'Liberation Sans', sans-serif" font-weight="bold" text-anchor="middle" fill="#333" textLength="37.4">Wavelength (μm)</text>
<text x="151.1" y="181.6" font-size="4.0" font-family="'Liberation Sans', sans-serif" font-weight="bold" text-anchor="middle" fill="#333" textLength="59.3">7.05  6.46  5.96  5.54  5.17</text>
<text x="150.1" y="236.4" font-size="4.6" font-family="'Liberation Sans', sans-serif" font-weight="bold" text-anchor="middle" fill="#333" textLength="32.2">Energy (meV)</text>
<text x="113.80" y="205.00" font-size="4.1" font-family="'Liberation Sans', sans-serif" fill="#333" font-weight="bold" text-anchor="middle" transform="rotate(-90 113.80 205.00)">Photocurrent [a.u]</text>
<line x1="156.20" y1="186.60" x2="163.20" y2="186.60" stroke="#111" stroke-width="0.9" />
<ellipse cx="159.6" cy="186.60" rx="1.3" ry="0.8" fill="#fff" stroke="#111" stroke-width="0.5"/>
<text x="165.4" y="188.10" font-size="4.1" font-family="'Liberation Sans', sans-serif" font-weight="bold" fill="#333" textLength="10.4">0.1 V</text>
<line x1="156.20" y1="190.77" x2="163.20" y2="190.77" stroke="#d09040" stroke-width="0.9" />
<ellipse cx="159.6" cy="190.77" rx="1.3" ry="0.8" fill="#fff" stroke="#d09040" stroke-width="0.5"/>
<text x="165.4" y="192.27" font-size="4.1" font-family="'Liberation Sans', sans-serif" font-weight="bold" fill="#333" textLength="10.4">0.2 V</text>
<line x1="156.20" y1="194.94" x2="163.20" y2="194.94" stroke="#5a8aa0" stroke-width="0.9" />
<ellipse cx="159.6" cy="194.94" rx="1.3" ry="0.8" fill="#fff" stroke="#5a8aa0" stroke-width="0.5"/>
<text x="165.4" y="196.44" font-size="4.1" font-family="'Liberation Sans', sans-serif" font-weight="bold" fill="#333" textLength="10.4">0.4 V</text>
<line x1="156.20" y1="199.11" x2="163.20" y2="199.11" stroke="#8aa040" stroke-width="0.9" />
<ellipse cx="159.6" cy="199.11" rx="1.3" ry="0.8" fill="#fff" stroke="#8aa040" stroke-width="0.5"/>
<text x="165.4" y="200.61" font-size="4.1" font-family="'Liberation Sans', sans-serif" font-weight="bold" fill="#333" textLength="10.4">0.6 V</text>
<text x="192.00" y="161.90" font-family="'Liberation Serif', serif" fill="#111"><tspan font-size="16.8">(</tspan><tspan font-size="15" font-weight="bold">e</tspan><tspan font-size="16.8">)</tspan></text>
<rect x="221.60" y="161.00" width="104.00" height="125.60" fill="#4c7a70" stroke="none" stroke-width="1" />
<rect x="222.40" y="161.60" width="102.40" height="13.80" fill="#92c6e6" stroke="none" stroke-width="1" />
<rect x="222.40" y="161.60" width="102.40" height="1.60" fill="#a6d2ee" stroke="none" stroke-width="1" />
<text x="273.60" y="171.80" font-size="7.3" font-family="'Liberation Serif', serif" fill="#1d4a5e" text-anchor="middle" textLength="40" lengthAdjust="spacingAndGlyphs" stroke="#1d4a5e" stroke-width="0.15">Si barrier layer</text>
<rect x="222.40" y="176.60" width="102.40" height="11.70" fill="url(#wellDown)" stroke="none" stroke-width="1" />
<text x="273.60" y="185.60" font-size="7.3" font-family="'Liberation Serif', serif" fill="#3b3f2c" text-anchor="middle" textLength="41.4" lengthAdjust="spacingAndGlyphs" stroke="#3b3f2c" stroke-width="0.15">SiGe well layer</text>
<rect x="222.40" y="190.10" width="102.40" height="13.50" fill="#12a862" stroke="none" stroke-width="1" />
<rect x="222.40" y="200.30" width="102.40" height="3.30" fill="#2d7449" stroke="none" stroke-width="1" />
<text x="273.60" y="199.40" font-size="7.3" font-family="'Liberation Serif', serif" fill="#0b5e2e" text-anchor="middle" textLength="37.2" lengthAdjust="spacingAndGlyphs" stroke="#0b5e2e" stroke-width="0.15">Ge QDs layer</text>
<rect x="222.40" y="203.60" width="102.40" height="11.90" fill="url(#wellUp)" stroke="none" stroke-width="1" />
<text x="273.60" y="213.20" font-size="7.3" font-family="'Liberation Serif', serif" fill="#3b3f2c" text-anchor="middle" textLength="41.4" lengthAdjust="spacingAndGlyphs" stroke="#3b3f2c" stroke-width="0.15">SiGe well layer</text>
<rect x="222.40" y="216.70" width="102.40" height="13.90" fill="#92c6e6" stroke="none" stroke-width="1" />
<rect x="222.40" y="216.70" width="102.40" height="1.60" fill="#a6d2ee" stroke="none" stroke-width="1" />
<text x="273.60" y="227.00" font-size="7.3" font-family="'Liberation Serif', serif" fill="#1d4a5e" text-anchor="middle" textLength="40" lengthAdjust="spacingAndGlyphs" stroke="#1d4a5e" stroke-width="0.15">Si barrier layer</text>
<rect x="222.40" y="231.80" width="102.40" height="12.30" fill="url(#wellDown)" stroke="none" stroke-width="1" />
<text x="273.60" y="240.80" font-size="7.3" font-family="'Liberation Serif', serif" fill="#3b3f2c" text-anchor="middle" textLength="41.4" lengthAdjust="spacingAndGlyphs" stroke="#3b3f2c" stroke-width="0.15">SiGe well layer</text>
<rect x="222.40" y="245.90" width="102.40" height="12.30" fill="#12a862" stroke="none" stroke-width="1" />
<rect x="222.40" y="254.90" width="102.40" height="3.30" fill="#2d7449" stroke="none" stroke-width="1" />
<text x="273.60" y="254.60" font-size="7.3" font-family="'Liberation Serif', serif" fill="#0b5e2e" text-anchor="middle" textLength="37.2" lengthAdjust="spacingAndGlyphs" stroke="#0b5e2e" stroke-width="0.15">Ge QDs layer</text>
<rect x="222.40" y="258.20" width="102.40" height="13.70" fill="url(#wellUp)" stroke="none" stroke-width="1" />
<text x="273.60" y="268.40" font-size="7.3" font-family="'Liberation Serif', serif" fill="#3b3f2c" text-anchor="middle" textLength="41.4" lengthAdjust="spacingAndGlyphs" stroke="#3b3f2c" stroke-width="0.15">SiGe well layer</text>
<rect x="222.40" y="273.10" width="102.40" height="12.90" fill="#92c6e6" stroke="none" stroke-width="1" />
<rect x="222.40" y="273.10" width="102.40" height="1.60" fill="#a6d2ee" stroke="none" stroke-width="1" />
<text x="273.60" y="282.20" font-size="7.3" font-family="'Liberation Serif', serif" fill="#1d4a5e" text-anchor="middle" textLength="40" lengthAdjust="spacingAndGlyphs" stroke="#1d4a5e" stroke-width="0.15">Si barrier layer</text>
<rect x="222.40" y="188.30" width="102.40" height="1.80" fill="#2b4f40" stroke="none" stroke-width="1" />
<rect x="222.40" y="244.10" width="102.40" height="1.80" fill="#2b4f40" stroke="none" stroke-width="1" />
<line x1="222.00" y1="161.60" x2="222.00" y2="286.00" stroke="#5a6a80" stroke-width="0.9" />
<line x1="325.20" y1="161.60" x2="325.20" y2="286.00" stroke="#5a6a80" stroke-width="0.9" />
<polygon points="341.00,263.40 364.50,263.40 364.50,248.60 371.60,241.50 363.00,241.50" fill="#2472b6" stroke="none" stroke-width="1" />
<polygon points="341.00,263.40 363.00,241.50 365.00,241.50 343.50,263.40" fill="#3a3a9a" stroke="none" stroke-width="1" opacity="0.5"/>
<polygon points="412.70,263.40 434.60,263.40 434.60,241.60" fill="#2472b6" stroke="none" stroke-width="1" />
<polygon points="483.80,262.60 505.60,262.60 527.60,240.80 505.80,240.80" fill="#2472b6" stroke="none" stroke-width="1" />
<polygon points="486.00,262.60 506.50,241.60 505.80,240.80 483.80,262.60" fill="#5050a8" stroke="none" stroke-width="1" opacity="0.5"/>
<polygon points="364.50,248.60 364.50,263.40 379.50,248.60" fill="#a9bb9e" stroke="none" stroke-width="1" />
<polygon points="364.50,248.60 364.50,263.40 368.30,259.60 368.30,248.60" fill="#b6dcb0" stroke="none" stroke-width="1" />
<polygon points="412.70,248.60 434.50,226.80 434.50,241.60 412.70,263.40" fill="#b4c8a6" stroke="none" stroke-width="1" />
<polygon points="364.50,248.60 412.70,248.60 434.50,226.80 386.30,226.80" fill="#8b9a84" stroke="none" stroke-width="1" />
<polygon points="434.60,247.90 434.60,262.60 449.30,247.90" fill="#a9bb9e" stroke="none" stroke-width="1" />
<polygon points="434.60,247.90 434.60,262.60 438.40,258.80 438.40,247.90" fill="#b6dcb0" stroke="none" stroke-width="1" />
<polygon points="483.80,247.90 505.60,226.10 505.60,240.80 483.80,262.60" fill="#b4c8a6" stroke="none" stroke-width="1" />
<polygon points="434.60,247.90 483.80,247.90 505.60,226.10 456.40,226.10" fill="#8b9a84" stroke="none" stroke-width="1" />
<polyline points="341.00,263.40 364.50,263.40 364.50,248.60 412.70,248.60 412.70,263.40 434.60,263.40 434.60,247.90 483.80,247.90 483.80,262.60 505.60,262.60" fill="none" stroke="#3a3a3a" stroke-width="1.0" stroke-linejoin="round" stroke-linecap="round" />
<line x1="341.00" y1="263.40" x2="364.50" y2="263.40" stroke="#2a2a70" stroke-width="1.0" />
<line x1="412.70" y1="263.40" x2="434.60" y2="263.40" stroke="#2a2a70" stroke-width="1.0" />
<line x1="483.80" y1="262.60" x2="505.60" y2="262.60" stroke="#2a2a70" stroke-width="1.0" />
<rect x="399.60" y="169.60" width="8.40" height="62.90" fill="url(#pil)" stroke="#0c4a2c" stroke-width="0.5"/>
<ellipse cx="403.80" cy="169.60" rx="4.20" ry="1.09" fill="#52b888" stroke="#0c4a2c" stroke-width="0.5"/>
<rect x="393.00" y="177.00" width="7.40" height="64.00" fill="url(#pil)" stroke="#0c4a2c" stroke-width="0.5"/>
<ellipse cx="396.70" cy="177.00" rx="3.70" ry="0.96" fill="#52b888" stroke="#0c4a2c" stroke-width="0.5"/>
<rect x="386.00" y="184.00" width="7.60" height="63.60" fill="url(#pil)" stroke="#0c4a2c" stroke-width="0.5"/>
<ellipse cx="389.80" cy="184.00" rx="3.80" ry="0.99" fill="#52b888" stroke="#0c4a2c" stroke-width="0.5"/>
<rect x="470.80" y="169.60" width="8.40" height="62.40" fill="url(#pil)" stroke="#0c4a2c" stroke-width="0.5"/>
<ellipse cx="475.00" cy="169.60" rx="4.20" ry="1.09" fill="#52b888" stroke="#0c4a2c" stroke-width="0.5"/>
<rect x="464.40" y="176.80" width="7.90" height="63.70" fill="url(#pil)" stroke="#0c4a2c" stroke-width="0.5"/>
<ellipse cx="468.35" cy="176.80" rx="3.95" ry="1.03" fill="#52b888" stroke="#0c4a2c" stroke-width="0.5"/>
<rect x="458.00" y="183.60" width="8.30" height="63.60" fill="url(#pil)" stroke="#0c4a2c" stroke-width="0.5"/>
<ellipse cx="462.15" cy="183.60" rx="4.15" ry="1.08" fill="#52b888" stroke="#0c4a2c" stroke-width="0.5"/>
<text x="435.20" y="172.40" font-size="6.65" font-family="'Liberation Serif', serif" fill="#333" text-anchor="middle" stroke="#333" stroke-width="0.2">Ge QDs</text>
<text x="350.90" y="272.50" font-size="6.85" font-family="'Liberation Serif', serif" fill="#333" text-anchor="middle" stroke="#333" stroke-width="0.2">Si Barrier</text>
<text x="350.90" y="280.50" font-size="6.7" font-family="'Liberation Serif', serif" fill="#333" text-anchor="middle" stroke="#333" stroke-width="0.2">layer</text>
<text x="380.0" y="258.9" font-size="6.7" font-family="'Liberation Serif', serif" fill="#333" stroke="#333" stroke-width="0.2">Si<tspan font-size="4.2" dy="1.5">1−x</tspan><tspan dy="-1.5">Ge</tspan><tspan font-size="4.2" dy="1.5">x</tspan></text>
<text x="391.80" y="266.40" font-size="6.5" font-family="'Liberation Serif', serif" fill="#333" text-anchor="middle" stroke="#333" stroke-width="0.2">Well layer</text>
<text x="496.60" y="272.60" font-size="6.6" font-family="'Liberation Serif', serif" fill="#333" text-anchor="middle" stroke="#333" stroke-width="0.2">VB</text>
<text x="205.20" y="311.40" font-family="'Liberation Serif', serif" fill="#111"><tspan font-size="16.8">(</tspan><tspan font-size="15" font-weight="bold">g</tspan><tspan font-size="16.8">)</tspan></text>
<rect x="233.20" y="310.50" width="103.10" height="137.30" fill="#4c7a70" stroke="none" stroke-width="1" />
<rect x="234.00" y="311.10" width="101.50" height="15.30" fill="#92c6e6" stroke="none" stroke-width="1" />
<rect x="234.00" y="311.10" width="101.50" height="1.60" fill="#a6d2ee" stroke="none" stroke-width="1" />
<text x="284.75" y="320.90" font-size="7.5" font-family="'Liberation Serif', serif" fill="#1d4a5e" text-anchor="middle" textLength="48" lengthAdjust="spacingAndGlyphs" stroke="#1d4a5e" stroke-width="0.15">SiO<tspan font-size="4.5" dy="1.5">2</tspan><tspan dy="-1.5"> barrier layer</tspan></text>
<rect x="234.00" y="327.60" width="101.50" height="13.30" fill="url(#wellDownG)" stroke="none" stroke-width="1" />
<text x="284.75" y="335.88" font-size="7.5" font-family="'Liberation Serif', serif" fill="#3b3f2c" text-anchor="middle" textLength="33.3" lengthAdjust="spacingAndGlyphs" stroke="#3b3f2c" stroke-width="0.15">Si well layer</text>
<rect x="234.00" y="342.70" width="101.50" height="13.40" fill="#12a862" stroke="none" stroke-width="1" />
<rect x="234.00" y="352.80" width="101.50" height="3.30" fill="#2d7449" stroke="none" stroke-width="1" />
<text x="284.75" y="350.86" font-size="7.5" font-family="'Liberation Serif', serif" fill="#0b5e2e" text-anchor="middle" textLength="37.5" lengthAdjust="spacingAndGlyphs" stroke="#0b5e2e" stroke-width="0.15">Ge QDs layer</text>
<rect x="234.00" y="356.10" width="101.50" height="14.50" fill="url(#wellUpG)" stroke="none" stroke-width="1" />
<text x="284.75" y="365.84" font-size="7.5" font-family="'Liberation Serif', serif" fill="#3b3f2c" text-anchor="middle" textLength="33.3" lengthAdjust="spacingAndGlyphs" stroke="#3b3f2c" stroke-width="0.15">Si well layer</text>
<rect x="234.00" y="371.80" width="101.50" height="14.80" fill="#92c6e6" stroke="none" stroke-width="1" />
<rect x="234.00" y="371.80" width="101.50" height="1.60" fill="#a6d2ee" stroke="none" stroke-width="1" />
<text x="284.75" y="380.82" font-size="7.5" font-family="'Liberation Serif', serif" fill="#1d4a5e" text-anchor="middle" textLength="48" lengthAdjust="spacingAndGlyphs" stroke="#1d4a5e" stroke-width="0.15">SiO<tspan font-size="4.5" dy="1.5">2</tspan><tspan dy="-1.5"> barrier layer</tspan></text>
<rect x="234.00" y="387.80" width="101.50" height="12.80" fill="url(#wellDownG)" stroke="none" stroke-width="1" />
<text x="284.75" y="395.80" font-size="7.5" font-family="'Liberation Serif', serif" fill="#3b3f2c" text-anchor="middle" textLength="40" lengthAdjust="spacingAndGlyphs" stroke="#3b3f2c" stroke-width="0.15">Si barrier layer</text>
<rect x="234.00" y="402.40" width="101.50" height="13.60" fill="#12a862" stroke="none" stroke-width="1" />
<rect x="234.00" y="412.70" width="101.50" height="3.30" fill="#2d7449" stroke="none" stroke-width="1" />
<text x="284.75" y="410.78" font-size="7.5" font-family="'Liberation Serif', serif" fill="#0b5e2e" text-anchor="middle" textLength="37.5" lengthAdjust="spacingAndGlyphs" stroke="#0b5e2e" stroke-width="0.15">Ge QDs layer</text>
<rect x="234.00" y="416.00" width="101.50" height="15.20" fill="url(#wellUpG)" stroke="none" stroke-width="1" />
<text x="284.75" y="425.76" font-size="7.5" font-family="'Liberation Serif', serif" fill="#3b3f2c" text-anchor="middle" textLength="40" lengthAdjust="spacingAndGlyphs" stroke="#3b3f2c" stroke-width="0.15">Si barrier layer</text>
<rect x="234.00" y="432.40" width="101.50" height="14.80" fill="#92c6e6" stroke="none" stroke-width="1" />
<rect x="234.00" y="432.40" width="101.50" height="1.60" fill="#a6d2ee" stroke="none" stroke-width="1" />
<text x="284.75" y="440.74" font-size="7.5" font-family="'Liberation Serif', serif" fill="#1d4a5e" text-anchor="middle" textLength="48" lengthAdjust="spacingAndGlyphs" stroke="#1d4a5e" stroke-width="0.15">SiO<tspan font-size="4.5" dy="1.5">2</tspan><tspan dy="-1.5"> barrier layer</tspan></text>
<rect x="234.00" y="340.90" width="101.50" height="1.80" fill="#2b4f40" stroke="none" stroke-width="1" />
<rect x="234.00" y="400.60" width="101.50" height="1.80" fill="#2b4f40" stroke="none" stroke-width="1" />
<line x1="233.60" y1="311.10" x2="233.60" y2="447.20" stroke="#5a6a80" stroke-width="0.9" />
<line x1="335.90" y1="311.10" x2="335.90" y2="447.20" stroke="#5a6a80" stroke-width="0.9" />
<polygon points="345.00,425.60 377.70,425.60 377.70,404.60 366.00,404.60" fill="#2472b6" stroke="none" stroke-width="1" />
<polygon points="345.00,425.60 366.00,404.60 372.00,404.60" fill="#3838a0" stroke="none" stroke-width="1" opacity="0.55"/>
<polygon points="427.60,425.60 447.30,425.60 447.30,406.80" fill="#2472b6" stroke="none" stroke-width="1" />
<polygon points="496.00,425.60 524.00,425.60 546.00,404.60 518.00,404.60" fill="#2472b6" stroke="none" stroke-width="1" />
<polygon points="377.70,352.80 377.70,425.60 399.70,404.60 399.70,352.80" fill="#a9bb9e" stroke="none" stroke-width="1" />
<polygon points="427.60,352.80 449.60,331.80 449.60,404.60 427.60,425.60" fill="#b4c8a6" stroke="none" stroke-width="1" />
<polygon points="377.70,352.80 427.60,352.80 449.60,331.80 399.70,331.80" fill="#8b9a84" stroke="none" stroke-width="1" />
<polygon points="447.30,352.80 447.30,425.60 469.30,404.60 469.30,352.80" fill="#a9bb9e" stroke="none" stroke-width="1" />
<polygon points="496.00,352.80 518.00,331.80 518.00,404.60 496.00,425.60" fill="#b4c8a6" stroke="none" stroke-width="1" />
<polygon points="447.30,352.80 496.00,352.80 518.00,331.80 469.30,331.80" fill="#8b9a84" stroke="none" stroke-width="1" />
<polyline points="345.00,425.60 377.70,425.60 377.70,352.80 427.60,352.80 427.60,425.60 447.30,425.60 447.30,352.80 496.00,352.80 496.00,425.60 524.00,425.60" fill="none" stroke="#444" stroke-width="0.9" stroke-linejoin="round" stroke-linecap="round" />
<line x1="345.00" y1="425.60" x2="377.70" y2="425.60" stroke="#2a2a70" stroke-width="1.0" />
<line x1="427.60" y1="425.60" x2="447.30" y2="425.60" stroke="#2a2a70" stroke-width="1.0" />
<line x1="496.00" y1="425.60" x2="524.00" y2="425.60" stroke="#2a2a70" stroke-width="1.0" />
<rect x="413.20" y="318.60" width="8.40" height="19.90" fill="url(#pil)" stroke="#0c4a2c" stroke-width="0.5"/>
<ellipse cx="417.40" cy="318.60" rx="4.20" ry="1.09" fill="#52b888" stroke="#0c4a2c" stroke-width="0.5"/>
<rect x="407.40" y="324.80" width="8.20" height="21.70" fill="url(#pil)" stroke="#0c4a2c" stroke-width="0.5"/>
<ellipse cx="411.50" cy="324.80" rx="4.10" ry="1.07" fill="#52b888" stroke="#0c4a2c" stroke-width="0.5"/>
<rect x="400.00" y="331.00" width="7.80" height="20.50" fill="url(#pil)" stroke="#0c4a2c" stroke-width="0.5"/>
<ellipse cx="403.90" cy="331.00" rx="3.90" ry="1.01" fill="#52b888" stroke="#0c4a2c" stroke-width="0.5"/>
<rect x="482.80" y="318.60" width="8.40" height="19.90" fill="url(#pil)" stroke="#0c4a2c" stroke-width="0.5"/>
<ellipse cx="487.00" cy="318.60" rx="4.20" ry="1.09" fill="#52b888" stroke="#0c4a2c" stroke-width="0.5"/>
<rect x="477.00" y="324.80" width="8.20" height="21.70" fill="url(#pil)" stroke="#0c4a2c" stroke-width="0.5"/>
<ellipse cx="481.10" cy="324.80" rx="4.10" ry="1.07" fill="#52b888" stroke="#0c4a2c" stroke-width="0.5"/>
<rect x="469.60" y="331.00" width="7.80" height="20.50" fill="url(#pil)" stroke="#0c4a2c" stroke-width="0.5"/>
<ellipse cx="473.50" cy="331.00" rx="3.90" ry="1.01" fill="#52b888" stroke="#0c4a2c" stroke-width="0.5"/>
<line x1="368.20" y1="356.00" x2="368.20" y2="421.00" stroke="#111" stroke-width="0.8" />
<polygon points="368.20,353.20 366.20,358.00 370.20,358.00" fill="#111" stroke="none" stroke-width="1" />
<polygon points="368.20,424.00 366.20,419.00 370.20,419.00" fill="#111" stroke="none" stroke-width="1" />
<line x1="369.00" y1="353.50" x2="377.00" y2="353.50" stroke="#111" stroke-width="0.7" stroke-dasharray="1.5,1.5"/>
<text x="361.00" y="380.20" font-size="6.4" font-family="'Liberation Serif', serif" fill="#333" text-anchor="middle" textLength="16.5" lengthAdjust="spacingAndGlyphs" transform="rotate(90 361.00 380.20)" stroke="#333" stroke-width="0.2">4.5 eV</text>
<text x="350.6" y="435.3" font-size="6.6" font-family="'Liberation Serif', serif" fill="#333" stroke="#333" stroke-width="0.2">SiO<tspan font-size="4.2" dy="1.5">2</tspan><tspan dy="-1.5"> barrier</tspan></text>
<text x="369.30" y="442.50" font-size="6.6" font-family="'Liberation Serif', serif" fill="#333" text-anchor="middle" textLength="13" lengthAdjust="spacingAndGlyphs" stroke="#333" stroke-width="0.2">layer</text>
<text x="448.40" y="319.80" font-size="6.6" font-family="'Liberation Serif', serif" fill="#333" text-anchor="middle" textLength="21.5" lengthAdjust="spacingAndGlyphs" stroke="#333" stroke-width="0.2">Ge QDs</text>
<text x="411.20" y="378.20" font-size="6.6" font-family="'Liberation Serif', serif" fill="#333" text-anchor="middle" textLength="18" lengthAdjust="spacingAndGlyphs" stroke="#333" stroke-width="0.2">Si well</text>
<text x="411.40" y="385.10" font-size="6.6" font-family="'Liberation Serif', serif" fill="#333" text-anchor="middle" textLength="13" lengthAdjust="spacingAndGlyphs" stroke="#333" stroke-width="0.2">layer</text>
<text x="509.00" y="437.40" font-size="6.6" font-family="'Liberation Serif', serif" fill="#333" text-anchor="middle" textLength="9.5" lengthAdjust="spacingAndGlyphs" stroke="#333" stroke-width="0.2">VB</text>
<text x="4.80" y="307.40" font-family="'Liberation Serif', serif" fill="#111"><tspan font-size="16.8">(</tspan><tspan font-size="15" font-weight="bold">f</tspan><tspan font-size="16.8">)</tspan></text>
<path d="M48.40,389.30 L49.30,369.30 L50.00,351.60 L52.20,347.20 L54.40,345.00 L55.50,340.50 L57.30,335.00 L58.80,333.40 L60.40,338.30 L61.70,351.60 L62.20,364.90 L64.40,369.30 L66.00,370.50 L67.70,372.70 L69.90,376.00 L71.50,375.00 L73.30,378.20 L75.50,378.20 L76.50,376.50 L77.70,384.90 L79.90,387.10 L81.50,386.50 L83.20,391.50 L86.60,396.00 L90.10,399.30 L95.00,398.50 L100.00,399.50 L105.00,398.00 L110.00,400.00 L114.30,399.50 L114.30,408.00 L62.00,406.00 L49.00,406.00 Z" fill="#def4f4" stroke="none" />
<path d="M49.00,420.00 L60.00,419.50 L75.00,420.00 L90.00,419.50 L114.30,420.00" fill="none" stroke="#3050c0" stroke-width="1.0" stroke-linejoin="round" stroke-linecap="round" />
<path d="M49.00,418.00 L55.00,417.00 L60.00,416.00 L62.00,421.00 L64.00,417.00 L75.00,418.00 L85.00,416.00 L100.00,418.00 L114.30,417.50" fill="none" stroke="#505850" stroke-width="1.0" stroke-linejoin="round" stroke-linecap="round" />
<path d="M49.00,415.50 L55.00,414.00 L65.00,414.00 L75.00,415.00 L85.00,414.00 L100.00,415.00 L114.30,414.50" fill="none" stroke="#d0c020" stroke-width="1.0" stroke-linejoin="round" stroke-linecap="round" />
<path d="M49.00,413.00 L55.00,411.00 L60.00,410.00 L62.00,405.00 L64.00,410.00 L66.00,403.00 L68.00,409.00 L70.00,412.00 L72.00,406.00 L73.00,414.00 L76.00,411.00 L80.00,410.00 L88.00,412.00 L100.00,412.00 L114.30,413.00" fill="none" stroke="#e08a20" stroke-width="1.0" stroke-linejoin="round" stroke-linecap="round" />
<path d="M49.00,406.00 L52.00,403.00 L56.00,402.50 L60.00,404.00 L63.00,405.00 L68.00,403.00 L72.00,405.00 L80.00,404.00 L90.00,406.00 L114.30,406.00" fill="none" stroke="#c890d0" stroke-width="1.0" stroke-linejoin="round" stroke-linecap="round" />
<path d="M49.00,408.00 L50.00,407.00 L53.30,398.20 L55.50,387.00 L57.30,378.20 L59.00,384.00 L60.00,391.50 L62.20,407.00 L65.00,409.00 L73.80,408.00 L90.00,410.00 L114.30,410.40" fill="none" stroke="#9070c8" stroke-width="1.0" stroke-linejoin="round" stroke-linecap="round" />
<path d="M49.00,404.00 L50.00,402.60 L53.30,382.60 L55.50,373.80 L57.70,369.30 L60.00,373.80 L62.20,391.50 L64.40,402.60 L68.00,408.00 L75.00,409.00 L90.00,409.50 L114.30,410.00" fill="none" stroke="#c0b030" stroke-width="1.0" stroke-linejoin="round" stroke-linecap="round" />
<path d="M49.00,405.00 L50.00,392.00 L52.50,386.00 L55.00,381.00 L57.50,377.00 L59.50,381.00 L61.50,392.00 L63.00,401.00 L66.00,403.00 L73.80,404.50 L90.00,406.00 L114.30,408.00" fill="none" stroke="#40a8a8" stroke-width="1.0" stroke-linejoin="round" stroke-linecap="round" />
<path d="M48.90,398.20 L50.00,380.40 L52.20,369.30 L54.40,360.50 L56.60,353.80 L58.80,348.30 L61.10,353.80 L62.20,376.00 L65.50,382.60 L68.00,384.00 L71.00,387.10 L74.00,389.00 L77.70,393.70 L81.00,396.00 L84.30,398.20 L90.10,402.60 L95.00,403.50 L100.00,404.50 L106.00,404.00 L114.30,405.50" fill="none" stroke="#2e8a3a" stroke-width="1.0" stroke-linejoin="round" stroke-linecap="round" />
<path d="M48.40,389.30 L49.30,369.30 L50.00,351.60 L52.20,347.20 L54.40,345.00 L55.50,340.50 L57.30,335.00 L58.80,333.40 L60.40,338.30 L61.70,351.60 L62.20,364.90 L64.40,369.30 L66.00,370.50 L67.70,372.70 L69.90,376.00 L71.50,375.00 L73.30,378.20 L75.50,378.20 L76.50,376.50 L77.70,384.90 L79.90,387.10 L81.50,386.50 L83.20,391.50 L86.60,396.00 L90.10,399.30 L95.00,398.50 L100.00,399.50 L105.00,398.00 L110.00,400.00 L114.30,399.50" fill="none" stroke="#3048b8" stroke-width="1.2" stroke-linejoin="round" stroke-linecap="round" />
<line x1="48.40" y1="389.30" x2="48.40" y2="420.00" stroke="#3048b8" stroke-width="0.8" />
<rect x="87.70" y="324.60" width="27.10" height="73.10" fill="#fff" stroke="#333" stroke-width="0.8" />
<line x1="88.90" y1="329.40" x2="94.60" y2="329.40" stroke="#3048b8" stroke-width="1.0" />
<text x="95.40" y="332.10" font-size="7.2" font-family="'Liberation Sans', sans-serif" fill="#333" stroke="#333" stroke-width="0.15">4.3 V</text>
<line x1="88.90" y1="338.55" x2="94.60" y2="338.55" stroke="#2e8a3a" stroke-width="1.0" />
<text x="95.40" y="341.25" font-size="7.2" font-family="'Liberation Sans', sans-serif" fill="#333" stroke="#333" stroke-width="0.15">4 V</text>
<line x1="88.90" y1="347.70" x2="94.60" y2="347.70" stroke="#e08a20" stroke-width="1.0" />
<text x="95.40" y="350.40" font-size="7.2" font-family="'Liberation Sans', sans-serif" fill="#333" stroke="#333" stroke-width="0.15">3.5 V</text>
<line x1="88.90" y1="356.85" x2="94.60" y2="356.85" stroke="#40a8a8" stroke-width="1.0" />
<text x="95.40" y="359.55" font-size="7.2" font-family="'Liberation Sans', sans-serif" fill="#333" stroke="#333" stroke-width="0.15">3 V</text>
<line x1="88.90" y1="366.00" x2="94.60" y2="366.00" stroke="#9070c8" stroke-width="1.0" />
<text x="95.40" y="368.70" font-size="7.2" font-family="'Liberation Sans', sans-serif" fill="#333" stroke="#333" stroke-width="0.15">2.5 V</text>
<line x1="88.90" y1="375.15" x2="94.60" y2="375.15" stroke="#d0c020" stroke-width="1.0" />
<text x="95.40" y="377.85" font-size="7.2" font-family="'Liberation Sans', sans-serif" fill="#333" stroke="#333" stroke-width="0.15">2 V</text>
<line x1="88.90" y1="384.30" x2="94.60" y2="384.30" stroke="#505850" stroke-width="1.0" />
<text x="95.40" y="387.00" font-size="7.2" font-family="'Liberation Sans', sans-serif" fill="#333" stroke="#333" stroke-width="0.15">1.5 V</text>
<line x1="88.90" y1="393.45" x2="94.60" y2="393.45" stroke="#3048b8" stroke-width="1.0" />
<text x="95.40" y="396.15" font-size="7.2" font-family="'Liberation Sans', sans-serif" fill="#333" stroke="#333" stroke-width="0.15">1 V</text>
<rect x="28.90" y="324.60" width="85.90" height="99.00" fill="none" stroke="#111" stroke-width="1.0" />
<line x1="28.90" y1="423.60" x2="31.10" y2="423.60" stroke="#111" stroke-width="0.7" />
<line x1="114.80" y1="423.60" x2="112.60" y2="423.60" stroke="#111" stroke-width="0.7" />
<text x="27.90" y="426.20" font-size="7.2" font-family="'Liberation Sans', sans-serif" fill="#333" text-anchor="end" stroke="#333" stroke-width="0.15">0</text>
<line x1="28.90" y1="398.85" x2="31.10" y2="398.85" stroke="#111" stroke-width="0.7" />
<line x1="114.80" y1="398.85" x2="112.60" y2="398.85" stroke="#111" stroke-width="0.7" />
<text x="27.90" y="401.45" font-size="7.2" font-family="'Liberation Sans', sans-serif" fill="#333" text-anchor="end" stroke="#333" stroke-width="0.15">1</text>
<line x1="28.90" y1="374.10" x2="31.10" y2="374.10" stroke="#111" stroke-width="0.7" />
<line x1="114.80" y1="374.10" x2="112.60" y2="374.10" stroke="#111" stroke-width="0.7" />
<text x="27.90" y="376.70" font-size="7.2" font-family="'Liberation Sans', sans-serif" fill="#333" text-anchor="end" stroke="#333" stroke-width="0.15">2</text>
<line x1="28.90" y1="349.35" x2="31.10" y2="349.35" stroke="#111" stroke-width="0.7" />
<line x1="114.80" y1="349.35" x2="112.60" y2="349.35" stroke="#111" stroke-width="0.7" />
<text x="27.90" y="351.95" font-size="7.2" font-family="'Liberation Sans', sans-serif" fill="#333" text-anchor="end" stroke="#333" stroke-width="0.15">3</text>
<line x1="28.90" y1="324.60" x2="31.10" y2="324.60" stroke="#111" stroke-width="0.7" />
<line x1="114.80" y1="324.60" x2="112.60" y2="324.60" stroke="#111" stroke-width="0.7" />
<text x="27.90" y="327.20" font-size="7.2" font-family="'Liberation Sans', sans-serif" fill="#333" text-anchor="end" stroke="#333" stroke-width="0.15">4</text>
<line x1="28.90" y1="421.12" x2="30.10" y2="421.12" stroke="#111" stroke-width="0.5" />
<line x1="28.90" y1="418.65" x2="30.10" y2="418.65" stroke="#111" stroke-width="0.5" />
<line x1="28.90" y1="416.18" x2="30.10" y2="416.18" stroke="#111" stroke-width="0.5" />
<line x1="28.90" y1="413.70" x2="30.10" y2="413.70" stroke="#111" stroke-width="0.5" />
<line x1="28.90" y1="411.23" x2="30.10" y2="411.23" stroke="#111" stroke-width="0.5" />
<line x1="28.90" y1="408.75" x2="30.10" y2="408.75" stroke="#111" stroke-width="0.5" />
<line x1="28.90" y1="406.28" x2="30.10" y2="406.28" stroke="#111" stroke-width="0.5" />
<line x1="28.90" y1="403.80" x2="30.10" y2="403.80" stroke="#111" stroke-width="0.5" />
<line x1="28.90" y1="401.33" x2="30.10" y2="401.33" stroke="#111" stroke-width="0.5" />
<line x1="28.90" y1="396.38" x2="30.10" y2="396.38" stroke="#111" stroke-width="0.5" />
<line x1="28.90" y1="393.90" x2="30.10" y2="393.90" stroke="#111" stroke-width="0.5" />
<line x1="28.90" y1="391.43" x2="30.10" y2="391.43" stroke="#111" stroke-width="0.5" />
<line x1="28.90" y1="388.95" x2="30.10" y2="388.95" stroke="#111" stroke-width="0.5" />
<line x1="28.90" y1="386.48" x2="30.10" y2="386.48" stroke="#111" stroke-width="0.5" />
<line x1="28.90" y1="384.00" x2="30.10" y2="384.00" stroke="#111" stroke-width="0.5" />
<line x1="28.90" y1="381.53" x2="30.10" y2="381.53" stroke="#111" stroke-width="0.5" />
<line x1="28.90" y1="379.05" x2="30.10" y2="379.05" stroke="#111" stroke-width="0.5" />
<line x1="28.90" y1="376.58" x2="30.10" y2="376.58" stroke="#111" stroke-width="0.5" />
<line x1="28.90" y1="371.62" x2="30.10" y2="371.62" stroke="#111" stroke-width="0.5" />
<line x1="28.90" y1="369.15" x2="30.10" y2="369.15" stroke="#111" stroke-width="0.5" />
<line x1="28.90" y1="366.68" x2="30.10" y2="366.68" stroke="#111" stroke-width="0.5" />
<line x1="28.90" y1="364.20" x2="30.10" y2="364.20" stroke="#111" stroke-width="0.5" />
<line x1="28.90" y1="361.73" x2="30.10" y2="361.73" stroke="#111" stroke-width="0.5" />
<line x1="28.90" y1="359.25" x2="30.10" y2="359.25" stroke="#111" stroke-width="0.5" />
<line x1="28.90" y1="356.78" x2="30.10" y2="356.78" stroke="#111" stroke-width="0.5" />
<line x1="28.90" y1="354.30" x2="30.10" y2="354.30" stroke="#111" stroke-width="0.5" />
<line x1="28.90" y1="351.83" x2="30.10" y2="351.83" stroke="#111" stroke-width="0.5" />
<line x1="28.90" y1="346.88" x2="30.10" y2="346.88" stroke="#111" stroke-width="0.5" />
<line x1="28.90" y1="344.40" x2="30.10" y2="344.40" stroke="#111" stroke-width="0.5" />
<line x1="28.90" y1="341.93" x2="30.10" y2="341.93" stroke="#111" stroke-width="0.5" />
<line x1="28.90" y1="339.45" x2="30.10" y2="339.45" stroke="#111" stroke-width="0.5" />
<line x1="28.90" y1="336.98" x2="30.10" y2="336.98" stroke="#111" stroke-width="0.5" />
<line x1="28.90" y1="334.50" x2="30.10" y2="334.50" stroke="#111" stroke-width="0.5" />
<line x1="28.90" y1="332.03" x2="30.10" y2="332.03" stroke="#111" stroke-width="0.5" />
<line x1="28.90" y1="329.55" x2="30.10" y2="329.55" stroke="#111" stroke-width="0.5" />
<line x1="28.90" y1="327.08" x2="30.10" y2="327.08" stroke="#111" stroke-width="0.5" />
<line x1="28.90" y1="423.60" x2="28.90" y2="421.40" stroke="#111" stroke-width="0.5" />
<line x1="28.90" y1="324.60" x2="28.90" y2="326.80" stroke="#111" stroke-width="0.5" />
<line x1="31.30" y1="423.60" x2="31.30" y2="422.40" stroke="#111" stroke-width="0.5" />
<line x1="31.30" y1="324.60" x2="31.30" y2="325.80" stroke="#111" stroke-width="0.5" />
<line x1="33.71" y1="423.60" x2="33.71" y2="422.40" stroke="#111" stroke-width="0.5" />
<line x1="33.71" y1="324.60" x2="33.71" y2="325.80" stroke="#111" stroke-width="0.5" />
<line x1="36.11" y1="423.60" x2="36.11" y2="422.40" stroke="#111" stroke-width="0.5" />
<line x1="36.11" y1="324.60" x2="36.11" y2="325.80" stroke="#111" stroke-width="0.5" />
<line x1="38.52" y1="423.60" x2="38.52" y2="422.40" stroke="#111" stroke-width="0.5" />
<line x1="38.52" y1="324.60" x2="38.52" y2="325.80" stroke="#111" stroke-width="0.5" />
<line x1="40.92" y1="423.60" x2="40.92" y2="422.40" stroke="#111" stroke-width="0.5" />
<line x1="40.92" y1="324.60" x2="40.92" y2="325.80" stroke="#111" stroke-width="0.5" />
<line x1="43.33" y1="423.60" x2="43.33" y2="422.40" stroke="#111" stroke-width="0.5" />
<line x1="43.33" y1="324.60" x2="43.33" y2="325.80" stroke="#111" stroke-width="0.5" />
<line x1="45.73" y1="423.60" x2="45.73" y2="422.40" stroke="#111" stroke-width="0.5" />
<line x1="45.73" y1="324.60" x2="45.73" y2="325.80" stroke="#111" stroke-width="0.5" />
<line x1="48.14" y1="423.60" x2="48.14" y2="422.40" stroke="#111" stroke-width="0.5" />
<line x1="48.14" y1="324.60" x2="48.14" y2="325.80" stroke="#111" stroke-width="0.5" />
<line x1="50.55" y1="423.60" x2="50.55" y2="422.40" stroke="#111" stroke-width="0.5" />
<line x1="50.55" y1="324.60" x2="50.55" y2="325.80" stroke="#111" stroke-width="0.5" />
<line x1="52.95" y1="423.60" x2="52.95" y2="421.40" stroke="#111" stroke-width="0.5" />
<line x1="52.95" y1="324.60" x2="52.95" y2="326.80" stroke="#111" stroke-width="0.5" />
<line x1="55.35" y1="423.60" x2="55.35" y2="422.40" stroke="#111" stroke-width="0.5" />
<line x1="55.35" y1="324.60" x2="55.35" y2="325.80" stroke="#111" stroke-width="0.5" />
<line x1="57.76" y1="423.60" x2="57.76" y2="422.40" stroke="#111" stroke-width="0.5" />
<line x1="57.76" y1="324.60" x2="57.76" y2="325.80" stroke="#111" stroke-width="0.5" />
<line x1="60.16" y1="423.60" x2="60.16" y2="422.40" stroke="#111" stroke-width="0.5" />
<line x1="60.16" y1="324.60" x2="60.16" y2="325.80" stroke="#111" stroke-width="0.5" />
<line x1="62.57" y1="423.60" x2="62.57" y2="422.40" stroke="#111" stroke-width="0.5" />
<line x1="62.57" y1="324.60" x2="62.57" y2="325.80" stroke="#111" stroke-width="0.5" />
<line x1="64.97" y1="423.60" x2="64.97" y2="422.40" stroke="#111" stroke-width="0.5" />
<line x1="64.97" y1="324.60" x2="64.97" y2="325.80" stroke="#111" stroke-width="0.5" />
<line x1="67.38" y1="423.60" x2="67.38" y2="422.40" stroke="#111" stroke-width="0.5" />
<line x1="67.38" y1="324.60" x2="67.38" y2="325.80" stroke="#111" stroke-width="0.5" />
<line x1="69.78" y1="423.60" x2="69.78" y2="422.40" stroke="#111" stroke-width="0.5" />
<line x1="69.78" y1="324.60" x2="69.78" y2="325.80" stroke="#111" stroke-width="0.5" />
<line x1="72.19" y1="423.60" x2="72.19" y2="422.40" stroke="#111" stroke-width="0.5" />
<line x1="72.19" y1="324.60" x2="72.19" y2="325.80" stroke="#111" stroke-width="0.5" />
<line x1="74.59" y1="423.60" x2="74.59" y2="422.40" stroke="#111" stroke-width="0.5" />
<line x1="74.59" y1="324.60" x2="74.59" y2="325.80" stroke="#111" stroke-width="0.5" />
<line x1="77.00" y1="423.60" x2="77.00" y2="421.40" stroke="#111" stroke-width="0.5" />
<line x1="77.00" y1="324.60" x2="77.00" y2="326.80" stroke="#111" stroke-width="0.5" />
<line x1="79.41" y1="423.60" x2="79.41" y2="422.40" stroke="#111" stroke-width="0.5" />
<line x1="79.41" y1="324.60" x2="79.41" y2="325.80" stroke="#111" stroke-width="0.5" />
<line x1="81.81" y1="423.60" x2="81.81" y2="422.40" stroke="#111" stroke-width="0.5" />
<line x1="81.81" y1="324.60" x2="81.81" y2="325.80" stroke="#111" stroke-width="0.5" />
<line x1="84.22" y1="423.60" x2="84.22" y2="422.40" stroke="#111" stroke-width="0.5" />
<line x1="84.22" y1="324.60" x2="84.22" y2="325.80" stroke="#111" stroke-width="0.5" />
<line x1="86.62" y1="423.60" x2="86.62" y2="422.40" stroke="#111" stroke-width="0.5" />
<line x1="86.62" y1="324.60" x2="86.62" y2="325.80" stroke="#111" stroke-width="0.5" />
<line x1="89.03" y1="423.60" x2="89.03" y2="422.40" stroke="#111" stroke-width="0.5" />
<line x1="89.03" y1="324.60" x2="89.03" y2="325.80" stroke="#111" stroke-width="0.5" />
<line x1="91.43" y1="423.60" x2="91.43" y2="422.40" stroke="#111" stroke-width="0.5" />
<line x1="91.43" y1="324.60" x2="91.43" y2="325.80" stroke="#111" stroke-width="0.5" />
<line x1="93.84" y1="423.60" x2="93.84" y2="422.40" stroke="#111" stroke-width="0.5" />
<line x1="93.84" y1="324.60" x2="93.84" y2="325.80" stroke="#111" stroke-width="0.5" />
<line x1="96.24" y1="423.60" x2="96.24" y2="422.40" stroke="#111" stroke-width="0.5" />
<line x1="96.24" y1="324.60" x2="96.24" y2="325.80" stroke="#111" stroke-width="0.5" />
<line x1="98.65" y1="423.60" x2="98.65" y2="422.40" stroke="#111" stroke-width="0.5" />
<line x1="98.65" y1="324.60" x2="98.65" y2="325.80" stroke="#111" stroke-width="0.5" />
<line x1="101.05" y1="423.60" x2="101.05" y2="421.40" stroke="#111" stroke-width="0.5" />
<line x1="101.05" y1="324.60" x2="101.05" y2="326.80" stroke="#111" stroke-width="0.5" />
<line x1="103.45" y1="423.60" x2="103.45" y2="422.40" stroke="#111" stroke-width="0.5" />
<line x1="103.45" y1="324.60" x2="103.45" y2="325.80" stroke="#111" stroke-width="0.5" />
<line x1="105.86" y1="423.60" x2="105.86" y2="422.40" stroke="#111" stroke-width="0.5" />
<line x1="105.86" y1="324.60" x2="105.86" y2="325.80" stroke="#111" stroke-width="0.5" />
<line x1="108.26" y1="423.60" x2="108.26" y2="422.40" stroke="#111" stroke-width="0.5" />
<line x1="108.26" y1="324.60" x2="108.26" y2="325.80" stroke="#111" stroke-width="0.5" />
<line x1="110.67" y1="423.60" x2="110.67" y2="422.40" stroke="#111" stroke-width="0.5" />
<line x1="110.67" y1="324.60" x2="110.67" y2="325.80" stroke="#111" stroke-width="0.5" />
<line x1="113.07" y1="423.60" x2="113.07" y2="422.40" stroke="#111" stroke-width="0.5" />
<line x1="113.07" y1="324.60" x2="113.07" y2="325.80" stroke="#111" stroke-width="0.5" />
<text x="29.90" y="431.30" font-size="7.2" font-family="'Liberation Sans', sans-serif" fill="#333" text-anchor="middle" stroke="#333" stroke-width="0.15">0</text>
<text x="52.95" y="431.30" font-size="7.2" font-family="'Liberation Sans', sans-serif" fill="#333" text-anchor="middle" stroke="#333" stroke-width="0.15">100</text>
<text x="77.00" y="431.30" font-size="7.2" font-family="'Liberation Sans', sans-serif" fill="#333" text-anchor="middle" stroke="#333" stroke-width="0.15">200</text>
<text x="101.05" y="431.30" font-size="7.2" font-family="'Liberation Sans', sans-serif" fill="#333" text-anchor="middle" stroke="#333" stroke-width="0.15">300</text>
<text x="29.60" y="322.90" font-size="6.6" font-family="'Liberation Sans', sans-serif" fill="#333" stroke="#333" stroke-width="0.15">x 10</text>
<text x="44.30" y="319.20" font-size="4.6" font-family="'Liberation Sans', sans-serif" fill="#333" stroke="#333" stroke-width="0.15">-3</text>
<text x="34.00" y="332.20" font-size="7.0" font-family="'Liberation Sans', sans-serif" fill="#333" stroke="#333" stroke-width="0.15">Sample 1</text>
<text x="34.00" y="339.90" font-size="7.0" font-family="'Liberation Sans', sans-serif" fill="#333" stroke="#333" stroke-width="0.15">TM</text>
<text x="21.80" y="373.00" font-size="7.8" font-family="'Liberation Sans', sans-serif" fill="#333" text-anchor="middle" transform="rotate(-90 21.80 373.00)" stroke="#333" stroke-width="0.15">Responsivity (A/W)</text>
<text x="72.20" y="437.70" font-size="7.3" font-family="'Liberation Sans', sans-serif" fill="#333" text-anchor="middle" textLength="74.5" lengthAdjust="spacingAndGlyphs" stroke="#333" stroke-width="0.15">Photon Energy (meV)</text>
<path d="M130.30,386.30 L132.00,360.00 L134.10,337.90 L136.00,352.00 L137.90,360.90 L139.00,346.00 L140.50,345.60 L142.00,358.00 L144.30,366.00 L146.00,372.00 L148.10,383.80 L150.00,380.00 L151.90,388.90 L153.00,378.00 L154.50,371.00 L156.00,384.00 L157.00,391.40 L159.00,384.00 L160.90,386.30 L163.00,392.00 L166.00,396.50 L168.00,400.00 L171.00,406.70 L173.00,398.00 L176.10,383.80 L178.00,392.00 L181.20,399.10 L183.00,392.00 L186.30,391.40 L189.00,398.00 L191.80,399.10 L191.80,399.10 L191.80,408.00 L150.00,405.00 L130.00,395.00 Z" fill="#fbe6ef" stroke="none" />
<path d="M127.70,396.50 L132.80,378.70 L136.70,358.30 L140.50,348.10 L143.00,355.80 L145.60,371.00 L148.10,388.90 L151.90,404.20 L155.80,410.50 L155.80,410.50 L190.00,414.00 L191.80,416.00 L160.00,416.00 L128.00,413.00 Z" fill="#dcf3ef" stroke="none" />
<path d="M125.50,395.00 L126.50,340.50 L127.70,416.90 L129.00,400.00 L130.30,386.30 L132.00,360.00 L134.10,337.90 L136.00,352.00 L137.90,360.90 L139.00,346.00 L140.50,345.60 L142.00,358.00 L144.30,366.00 L146.00,372.00 L148.10,383.80 L150.00,380.00 L151.90,388.90 L153.00,378.00 L154.50,371.00 L156.00,384.00 L157.00,391.40 L159.00,384.00 L160.90,386.30 L163.00,392.00 L166.00,396.50 L168.00,400.00 L171.00,406.70 L173.00,398.00 L176.10,383.80 L178.00,392.00 L181.20,399.10 L183.00,392.00 L186.30,391.40 L189.00,398.00 L191.80,399.10" fill="none" stroke="#d0902a" stroke-width="1.1" stroke-linejoin="round" stroke-linecap="round" />
<path d="M125.20,422.00 L127.70,411.80 L130.30,391.40 L132.80,366.00 L134.00,350.00 L135.40,340.50 L136.50,348.00 L137.90,350.70 L139.00,342.00 L140.50,343.00 L143.00,355.80 L145.60,378.70 L148.10,386.30 L150.70,393.90 L153.20,383.80 L155.80,391.40 L158.30,401.60 L160.90,411.80 L163.00,408.00 L166.00,406.70 L170.00,409.00 L173.60,409.30 L177.00,407.00 L181.20,410.50 L186.00,411.00 L191.80,413.10" fill="none" stroke="#3f8a3f" stroke-width="1.1" stroke-linejoin="round" stroke-linecap="round" />
<path d="M122.40,411.80 C123.28,409.25 125.97,402.02 127.70,396.50 C129.43,390.98 131.30,385.07 132.80,378.70 C134.30,372.33 135.42,363.40 136.70,358.30 C137.98,353.20 139.45,348.52 140.50,348.10 C141.55,347.68 142.15,351.98 143.00,355.80 C143.85,359.62 144.75,365.48 145.60,371.00 C146.45,376.52 147.05,383.37 148.10,388.90 C149.15,394.43 150.62,400.60 151.90,404.20 C153.18,407.80 154.30,409.02 155.80,410.50 C157.30,411.98 158.78,413.10 160.90,413.10 C163.02,413.10 165.97,411.13 168.50,410.50 C171.03,409.87 173.55,408.45 176.10,409.30 C178.65,410.15 181.18,413.90 183.80,415.60 C186.42,417.30 190.47,418.85 191.80,419.50" fill="none" stroke="#3b4fb8" stroke-width="1.2" stroke-linejoin="round" stroke-linecap="round" />
<rect x="149.40" y="324.30" width="42.80" height="27.90" fill="#fff" stroke="#333" stroke-width="0.8" />
<line x1="150.50" y1="329.00" x2="155.50" y2="329.00" stroke="#3f8a3f" stroke-width="1.0" />
<text x="156.00" y="331.70" font-size="7.5" font-family="'Liberation Sans', sans-serif" fill="#333" stroke="#333" stroke-width="0.15">Sample 1</text>
<line x1="150.50" y1="338.30" x2="155.50" y2="338.30" stroke="#d0902a" stroke-width="1.0" />
<text x="156.00" y="341.00" font-size="7.5" font-family="'Liberation Sans', sans-serif" fill="#333" stroke="#333" stroke-width="0.15">Sample 2</text>
<line x1="150.50" y1="347.60" x2="155.50" y2="347.60" stroke="#3b4fb8" stroke-width="1.0" />
<text x="156.00" y="350.30" font-size="7.5" font-family="'Liberation Sans', sans-serif" fill="#333" stroke="#333" stroke-width="0.15">simulation</text>
<rect x="122.40" y="324.30" width="69.80" height="99.30" fill="none" stroke="#111" stroke-width="1.0" />
<line x1="122.40" y1="423.60" x2="124.60" y2="423.60" stroke="#111" stroke-width="0.7" />
<line x1="192.20" y1="423.60" x2="190.00" y2="423.60" stroke="#111" stroke-width="0.7" />
<text x="121.60" y="426.20" font-size="7.2" font-family="'Liberation Sans', sans-serif" fill="#333" text-anchor="end" stroke="#333" stroke-width="0.15">0</text>
<line x1="122.40" y1="407.05" x2="124.60" y2="407.05" stroke="#111" stroke-width="0.7" />
<line x1="192.20" y1="407.05" x2="190.00" y2="407.05" stroke="#111" stroke-width="0.7" />
<text x="121.60" y="409.65" font-size="7.2" font-family="'Liberation Sans', sans-serif" fill="#333" text-anchor="end" stroke="#333" stroke-width="0.15">1</text>
<line x1="122.40" y1="390.50" x2="124.60" y2="390.50" stroke="#111" stroke-width="0.7" />
<line x1="192.20" y1="390.50" x2="190.00" y2="390.50" stroke="#111" stroke-width="0.7" />
<text x="121.60" y="393.10" font-size="7.2" font-family="'Liberation Sans', sans-serif" fill="#333" text-anchor="end" stroke="#333" stroke-width="0.15">2</text>
<line x1="122.40" y1="373.95" x2="124.60" y2="373.95" stroke="#111" stroke-width="0.7" />
<line x1="192.20" y1="373.95" x2="190.00" y2="373.95" stroke="#111" stroke-width="0.7" />
<text x="121.60" y="376.55" font-size="7.2" font-family="'Liberation Sans', sans-serif" fill="#333" text-anchor="end" stroke="#333" stroke-width="0.15">3</text>
<line x1="122.40" y1="357.40" x2="124.60" y2="357.40" stroke="#111" stroke-width="0.7" />
<line x1="192.20" y1="357.40" x2="190.00" y2="357.40" stroke="#111" stroke-width="0.7" />
<text x="121.60" y="360.00" font-size="7.2" font-family="'Liberation Sans', sans-serif" fill="#333" text-anchor="end" stroke="#333" stroke-width="0.15">4</text>
<line x1="122.40" y1="340.85" x2="124.60" y2="340.85" stroke="#111" stroke-width="0.7" />
<line x1="192.20" y1="340.85" x2="190.00" y2="340.85" stroke="#111" stroke-width="0.7" />
<text x="121.60" y="343.45" font-size="7.2" font-family="'Liberation Sans', sans-serif" fill="#333" text-anchor="end" stroke="#333" stroke-width="0.15">5</text>
<line x1="122.40" y1="324.30" x2="124.60" y2="324.30" stroke="#111" stroke-width="0.7" />
<line x1="192.20" y1="324.30" x2="190.00" y2="324.30" stroke="#111" stroke-width="0.7" />
<text x="121.60" y="326.90" font-size="7.2" font-family="'Liberation Sans', sans-serif" fill="#333" text-anchor="end" stroke="#333" stroke-width="0.15">6</text>
<line x1="122.40" y1="421.95" x2="123.60" y2="421.95" stroke="#111" stroke-width="0.5" />
<line x1="192.20" y1="421.95" x2="191.00" y2="421.95" stroke="#111" stroke-width="0.5" />
<line x1="122.40" y1="420.29" x2="123.60" y2="420.29" stroke="#111" stroke-width="0.5" />
<line x1="192.20" y1="420.29" x2="191.00" y2="420.29" stroke="#111" stroke-width="0.5" />
<line x1="122.40" y1="418.64" x2="123.60" y2="418.64" stroke="#111" stroke-width="0.5" />
<line x1="192.20" y1="418.64" x2="191.00" y2="418.64" stroke="#111" stroke-width="0.5" />
<line x1="122.40" y1="416.98" x2="123.60" y2="416.98" stroke="#111" stroke-width="0.5" />
<line x1="192.20" y1="416.98" x2="191.00" y2="416.98" stroke="#111" stroke-width="0.5" />
<line x1="122.40" y1="415.33" x2="123.60" y2="415.33" stroke="#111" stroke-width="0.5" />
<line x1="192.20" y1="415.33" x2="191.00" y2="415.33" stroke="#111" stroke-width="0.5" />
<line x1="122.40" y1="413.67" x2="123.60" y2="413.67" stroke="#111" stroke-width="0.5" />
<line x1="192.20" y1="413.67" x2="191.00" y2="413.67" stroke="#111" stroke-width="0.5" />
<line x1="122.40" y1="412.02" x2="123.60" y2="412.02" stroke="#111" stroke-width="0.5" />
<line x1="192.20" y1="412.02" x2="191.00" y2="412.02" stroke="#111" stroke-width="0.5" />
<line x1="122.40" y1="410.36" x2="123.60" y2="410.36" stroke="#111" stroke-width="0.5" />
<line x1="192.20" y1="410.36" x2="191.00" y2="410.36" stroke="#111" stroke-width="0.5" />
<line x1="122.40" y1="408.71" x2="123.60" y2="408.71" stroke="#111" stroke-width="0.5" />
<line x1="192.20" y1="408.71" x2="191.00" y2="408.71" stroke="#111" stroke-width="0.5" />
<line x1="122.40" y1="405.40" x2="123.60" y2="405.40" stroke="#111" stroke-width="0.5" />
<line x1="192.20" y1="405.40" x2="191.00" y2="405.40" stroke="#111" stroke-width="0.5" />
<line x1="122.40" y1="403.74" x2="123.60" y2="403.74" stroke="#111" stroke-width="0.5" />
<line x1="192.20" y1="403.74" x2="191.00" y2="403.74" stroke="#111" stroke-width="0.5" />
<line x1="122.40" y1="402.09" x2="123.60" y2="402.09" stroke="#111" stroke-width="0.5" />
<line x1="192.20" y1="402.09" x2="191.00" y2="402.09" stroke="#111" stroke-width="0.5" />
<line x1="122.40" y1="400.43" x2="123.60" y2="400.43" stroke="#111" stroke-width="0.5" />
<line x1="192.20" y1="400.43" x2="191.00" y2="400.43" stroke="#111" stroke-width="0.5" />
<line x1="122.40" y1="398.78" x2="123.60" y2="398.78" stroke="#111" stroke-width="0.5" />
<line x1="192.20" y1="398.78" x2="191.00" y2="398.78" stroke="#111" stroke-width="0.5" />
<line x1="122.40" y1="397.12" x2="123.60" y2="397.12" stroke="#111" stroke-width="0.5" />
<line x1="192.20" y1="397.12" x2="191.00" y2="397.12" stroke="#111" stroke-width="0.5" />
<line x1="122.40" y1="395.47" x2="123.60" y2="395.47" stroke="#111" stroke-width="0.5" />
<line x1="192.20" y1="395.47" x2="191.00" y2="395.47" stroke="#111" stroke-width="0.5" />
<line x1="122.40" y1="393.81" x2="123.60" y2="393.81" stroke="#111" stroke-width="0.5" />
<line x1="192.20" y1="393.81" x2="191.00" y2="393.81" stroke="#111" stroke-width="0.5" />
<line x1="122.40" y1="392.16" x2="123.60" y2="392.16" stroke="#111" stroke-width="0.5" />
<line x1="192.20" y1="392.16" x2="191.00" y2="392.16" stroke="#111" stroke-width="0.5" />
<line x1="122.40" y1="388.85" x2="123.60" y2="388.85" stroke="#111" stroke-width="0.5" />
<line x1="192.20" y1="388.85" x2="191.00" y2="388.85" stroke="#111" stroke-width="0.5" />
<line x1="122.40" y1="387.19" x2="123.60" y2="387.19" stroke="#111" stroke-width="0.5" />
<line x1="192.20" y1="387.19" x2="191.00" y2="387.19" stroke="#111" stroke-width="0.5" />
<line x1="122.40" y1="385.54" x2="123.60" y2="385.54" stroke="#111" stroke-width="0.5" />
<line x1="192.20" y1="385.54" x2="191.00" y2="385.54" stroke="#111" stroke-width="0.5" />
<line x1="122.40" y1="383.88" x2="123.60" y2="383.88" stroke="#111" stroke-width="0.5" />
<line x1="192.20" y1="383.88" x2="191.00" y2="383.88" stroke="#111" stroke-width="0.5" />
<line x1="122.40" y1="382.23" x2="123.60" y2="382.23" stroke="#111" stroke-width="0.5" />
<line x1="192.20" y1="382.23" x2="191.00" y2="382.23" stroke="#111" stroke-width="0.5" />
<line x1="122.40" y1="380.57" x2="123.60" y2="380.57" stroke="#111" stroke-width="0.5" />
<line x1="192.20" y1="380.57" x2="191.00" y2="380.57" stroke="#111" stroke-width="0.5" />
<line x1="122.40" y1="378.92" x2="123.60" y2="378.92" stroke="#111" stroke-width="0.5" />
<line x1="192.20" y1="378.92" x2="191.00" y2="378.92" stroke="#111" stroke-width="0.5" />
<line x1="122.40" y1="377.26" x2="123.60" y2="377.26" stroke="#111" stroke-width="0.5" />
<line x1="192.20" y1="377.26" x2="191.00" y2="377.26" stroke="#111" stroke-width="0.5" />
<line x1="122.40" y1="375.61" x2="123.60" y2="375.61" stroke="#111" stroke-width="0.5" />
<line x1="192.20" y1="375.61" x2="191.00" y2="375.61" stroke="#111" stroke-width="0.5" />
<line x1="122.40" y1="372.30" x2="123.60" y2="372.30" stroke="#111" stroke-width="0.5" />
<line x1="192.20" y1="372.30" x2="191.00" y2="372.30" stroke="#111" stroke-width="0.5" />
<line x1="122.40" y1="370.64" x2="123.60" y2="370.64" stroke="#111" stroke-width="0.5" />
<line x1="192.20" y1="370.64" x2="191.00" y2="370.64" stroke="#111" stroke-width="0.5" />
<line x1="122.40" y1="368.99" x2="123.60" y2="368.99" stroke="#111" stroke-width="0.5" />
<line x1="192.20" y1="368.99" x2="191.00" y2="368.99" stroke="#111" stroke-width="0.5" />
<line x1="122.40" y1="367.33" x2="123.60" y2="367.33" stroke="#111" stroke-width="0.5" />
<line x1="192.20" y1="367.33" x2="191.00" y2="367.33" stroke="#111" stroke-width="0.5" />
<line x1="122.40" y1="365.68" x2="123.60" y2="365.68" stroke="#111" stroke-width="0.5" />
<line x1="192.20" y1="365.68" x2="191.00" y2="365.68" stroke="#111" stroke-width="0.5" />
<line x1="122.40" y1="364.02" x2="123.60" y2="364.02" stroke="#111" stroke-width="0.5" />
<line x1="192.20" y1="364.02" x2="191.00" y2="364.02" stroke="#111" stroke-width="0.5" />
<line x1="122.40" y1="362.37" x2="123.60" y2="362.37" stroke="#111" stroke-width="0.5" />
<line x1="192.20" y1="362.37" x2="191.00" y2="362.37" stroke="#111" stroke-width="0.5" />
<line x1="122.40" y1="360.71" x2="123.60" y2="360.71" stroke="#111" stroke-width="0.5" />
<line x1="192.20" y1="360.71" x2="191.00" y2="360.71" stroke="#111" stroke-width="0.5" />
<line x1="122.40" y1="359.06" x2="123.60" y2="359.06" stroke="#111" stroke-width="0.5" />
<line x1="192.20" y1="359.06" x2="191.00" y2="359.06" stroke="#111" stroke-width="0.5" />
<line x1="122.40" y1="355.75" x2="123.60" y2="355.75" stroke="#111" stroke-width="0.5" />
<line x1="192.20" y1="355.75" x2="191.00" y2="355.75" stroke="#111" stroke-width="0.5" />
<line x1="122.40" y1="354.09" x2="123.60" y2="354.09" stroke="#111" stroke-width="0.5" />
<line x1="192.20" y1="354.09" x2="191.00" y2="354.09" stroke="#111" stroke-width="0.5" />
<line x1="122.40" y1="352.44" x2="123.60" y2="352.44" stroke="#111" stroke-width="0.5" />
<line x1="192.20" y1="352.44" x2="191.00" y2="352.44" stroke="#111" stroke-width="0.5" />
<line x1="122.40" y1="350.78" x2="123.60" y2="350.78" stroke="#111" stroke-width="0.5" />
<line x1="192.20" y1="350.78" x2="191.00" y2="350.78" stroke="#111" stroke-width="0.5" />
<line x1="122.40" y1="349.12" x2="123.60" y2="349.12" stroke="#111" stroke-width="0.5" />
<line x1="192.20" y1="349.12" x2="191.00" y2="349.12" stroke="#111" stroke-width="0.5" />
<line x1="122.40" y1="347.47" x2="123.60" y2="347.47" stroke="#111" stroke-width="0.5" />
<line x1="192.20" y1="347.47" x2="191.00" y2="347.47" stroke="#111" stroke-width="0.5" />
<line x1="122.40" y1="345.81" x2="123.60" y2="345.81" stroke="#111" stroke-width="0.5" />
<line x1="192.20" y1="345.81" x2="191.00" y2="345.81" stroke="#111" stroke-width="0.5" />
<line x1="122.40" y1="344.16" x2="123.60" y2="344.16" stroke="#111" stroke-width="0.5" />
<line x1="192.20" y1="344.16" x2="191.00" y2="344.16" stroke="#111" stroke-width="0.5" />
<line x1="122.40" y1="342.50" x2="123.60" y2="342.50" stroke="#111" stroke-width="0.5" />
<line x1="192.20" y1="342.50" x2="191.00" y2="342.50" stroke="#111" stroke-width="0.5" />
<line x1="122.40" y1="339.20" x2="123.60" y2="339.20" stroke="#111" stroke-width="0.5" />
<line x1="192.20" y1="339.20" x2="191.00" y2="339.20" stroke="#111" stroke-width="0.5" />
<line x1="122.40" y1="337.54" x2="123.60" y2="337.54" stroke="#111" stroke-width="0.5" />
<line x1="192.20" y1="337.54" x2="191.00" y2="337.54" stroke="#111" stroke-width="0.5" />
<line x1="122.40" y1="335.88" x2="123.60" y2="335.88" stroke="#111" stroke-width="0.5" />
<line x1="192.20" y1="335.88" x2="191.00" y2="335.88" stroke="#111" stroke-width="0.5" />
<line x1="122.40" y1="334.23" x2="123.60" y2="334.23" stroke="#111" stroke-width="0.5" />
<line x1="192.20" y1="334.23" x2="191.00" y2="334.23" stroke="#111" stroke-width="0.5" />
<line x1="122.40" y1="332.57" x2="123.60" y2="332.57" stroke="#111" stroke-width="0.5" />
<line x1="192.20" y1="332.57" x2="191.00" y2="332.57" stroke="#111" stroke-width="0.5" />
<line x1="122.40" y1="330.92" x2="123.60" y2="330.92" stroke="#111" stroke-width="0.5" />
<line x1="192.20" y1="330.92" x2="191.00" y2="330.92" stroke="#111" stroke-width="0.5" />
<line x1="122.40" y1="329.26" x2="123.60" y2="329.26" stroke="#111" stroke-width="0.5" />
<line x1="192.20" y1="329.26" x2="191.00" y2="329.26" stroke="#111" stroke-width="0.5" />
<line x1="122.40" y1="327.61" x2="123.60" y2="327.61" stroke="#111" stroke-width="0.5" />
<line x1="192.20" y1="327.61" x2="191.00" y2="327.61" stroke="#111" stroke-width="0.5" />
<line x1="122.40" y1="325.96" x2="123.60" y2="325.96" stroke="#111" stroke-width="0.5" />
<line x1="192.20" y1="325.96" x2="191.00" y2="325.96" stroke="#111" stroke-width="0.5" />
<line x1="122.40" y1="423.60" x2="122.40" y2="421.40" stroke="#111" stroke-width="0.5" />
<line x1="122.40" y1="324.30" x2="122.40" y2="326.50" stroke="#111" stroke-width="0.5" />
<line x1="124.73" y1="423.60" x2="124.73" y2="422.40" stroke="#111" stroke-width="0.5" />
<line x1="124.73" y1="324.30" x2="124.73" y2="325.50" stroke="#111" stroke-width="0.5" />
<line x1="127.05" y1="423.60" x2="127.05" y2="422.40" stroke="#111" stroke-width="0.5" />
<line x1="127.05" y1="324.30" x2="127.05" y2="325.50" stroke="#111" stroke-width="0.5" />
<line x1="129.38" y1="423.60" x2="129.38" y2="422.40" stroke="#111" stroke-width="0.5" />
<line x1="129.38" y1="324.30" x2="129.38" y2="325.50" stroke="#111" stroke-width="0.5" />
<line x1="131.71" y1="423.60" x2="131.71" y2="422.40" stroke="#111" stroke-width="0.5" />
<line x1="131.71" y1="324.30" x2="131.71" y2="325.50" stroke="#111" stroke-width="0.5" />
<line x1="134.03" y1="423.60" x2="134.03" y2="422.40" stroke="#111" stroke-width="0.5" />
<line x1="134.03" y1="324.30" x2="134.03" y2="325.50" stroke="#111" stroke-width="0.5" />
<line x1="136.36" y1="423.60" x2="136.36" y2="422.40" stroke="#111" stroke-width="0.5" />
<line x1="136.36" y1="324.30" x2="136.36" y2="325.50" stroke="#111" stroke-width="0.5" />
<line x1="138.69" y1="423.60" x2="138.69" y2="422.40" stroke="#111" stroke-width="0.5" />
<line x1="138.69" y1="324.30" x2="138.69" y2="325.50" stroke="#111" stroke-width="0.5" />
<line x1="141.01" y1="423.60" x2="141.01" y2="422.40" stroke="#111" stroke-width="0.5" />
<line x1="141.01" y1="324.30" x2="141.01" y2="325.50" stroke="#111" stroke-width="0.5" />
<line x1="143.34" y1="423.60" x2="143.34" y2="422.40" stroke="#111" stroke-width="0.5" />
<line x1="143.34" y1="324.30" x2="143.34" y2="325.50" stroke="#111" stroke-width="0.5" />
<line x1="145.67" y1="423.60" x2="145.67" y2="421.40" stroke="#111" stroke-width="0.5" />
<line x1="145.67" y1="324.30" x2="145.67" y2="326.50" stroke="#111" stroke-width="0.5" />
<line x1="147.99" y1="423.60" x2="147.99" y2="422.40" stroke="#111" stroke-width="0.5" />
<line x1="147.99" y1="324.30" x2="147.99" y2="325.50" stroke="#111" stroke-width="0.5" />
<line x1="150.32" y1="423.60" x2="150.32" y2="422.40" stroke="#111" stroke-width="0.5" />
<line x1="150.32" y1="324.30" x2="150.32" y2="325.50" stroke="#111" stroke-width="0.5" />
<line x1="152.65" y1="423.60" x2="152.65" y2="422.40" stroke="#111" stroke-width="0.5" />
<line x1="152.65" y1="324.30" x2="152.65" y2="325.50" stroke="#111" stroke-width="0.5" />
<line x1="154.97" y1="423.60" x2="154.97" y2="422.40" stroke="#111" stroke-width="0.5" />
<line x1="154.97" y1="324.30" x2="154.97" y2="325.50" stroke="#111" stroke-width="0.5" />
<line x1="157.30" y1="423.60" x2="157.30" y2="422.40" stroke="#111" stroke-width="0.5" />
<line x1="157.30" y1="324.30" x2="157.30" y2="325.50" stroke="#111" stroke-width="0.5" />
<line x1="159.63" y1="423.60" x2="159.63" y2="422.40" stroke="#111" stroke-width="0.5" />
<line x1="159.63" y1="324.30" x2="159.63" y2="325.50" stroke="#111" stroke-width="0.5" />
<line x1="161.95" y1="423.60" x2="161.95" y2="422.40" stroke="#111" stroke-width="0.5" />
<line x1="161.95" y1="324.30" x2="161.95" y2="325.50" stroke="#111" stroke-width="0.5" />
<line x1="164.28" y1="423.60" x2="164.28" y2="422.40" stroke="#111" stroke-width="0.5" />
<line x1="164.28" y1="324.30" x2="164.28" y2="325.50" stroke="#111" stroke-width="0.5" />
<line x1="166.61" y1="423.60" x2="166.61" y2="422.40" stroke="#111" stroke-width="0.5" />
<line x1="166.61" y1="324.30" x2="166.61" y2="325.50" stroke="#111" stroke-width="0.5" />
<line x1="168.93" y1="423.60" x2="168.93" y2="421.40" stroke="#111" stroke-width="0.5" />
<line x1="168.93" y1="324.30" x2="168.93" y2="326.50" stroke="#111" stroke-width="0.5" />
<line x1="171.26" y1="423.60" x2="171.26" y2="422.40" stroke="#111" stroke-width="0.5" />
<line x1="171.26" y1="324.30" x2="171.26" y2="325.50" stroke="#111" stroke-width="0.5" />
<line x1="173.59" y1="423.60" x2="173.59" y2="422.40" stroke="#111" stroke-width="0.5" />
<line x1="173.59" y1="324.30" x2="173.59" y2="325.50" stroke="#111" stroke-width="0.5" />
<line x1="175.91" y1="423.60" x2="175.91" y2="422.40" stroke="#111" stroke-width="0.5" />
<line x1="175.91" y1="324.30" x2="175.91" y2="325.50" stroke="#111" stroke-width="0.5" />
<line x1="178.24" y1="423.60" x2="178.24" y2="422.40" stroke="#111" stroke-width="0.5" />
<line x1="178.24" y1="324.30" x2="178.24" y2="325.50" stroke="#111" stroke-width="0.5" />
<line x1="180.57" y1="423.60" x2="180.57" y2="422.40" stroke="#111" stroke-width="0.5" />
<line x1="180.57" y1="324.30" x2="180.57" y2="325.50" stroke="#111" stroke-width="0.5" />
<line x1="182.89" y1="423.60" x2="182.89" y2="422.40" stroke="#111" stroke-width="0.5" />
<line x1="182.89" y1="324.30" x2="182.89" y2="325.50" stroke="#111" stroke-width="0.5" />
<line x1="185.22" y1="423.60" x2="185.22" y2="422.40" stroke="#111" stroke-width="0.5" />
<line x1="185.22" y1="324.30" x2="185.22" y2="325.50" stroke="#111" stroke-width="0.5" />
<line x1="187.55" y1="423.60" x2="187.55" y2="422.40" stroke="#111" stroke-width="0.5" />
<line x1="187.55" y1="324.30" x2="187.55" y2="325.50" stroke="#111" stroke-width="0.5" />
<line x1="189.87" y1="423.60" x2="189.87" y2="422.40" stroke="#111" stroke-width="0.5" />
<line x1="189.87" y1="324.30" x2="189.87" y2="325.50" stroke="#111" stroke-width="0.5" />
<line x1="192.20" y1="423.60" x2="192.20" y2="421.40" stroke="#111" stroke-width="0.5" />
<line x1="192.20" y1="324.30" x2="192.20" y2="326.50" stroke="#111" stroke-width="0.5" />
<text x="123.40" y="431.30" font-size="7.2" font-family="'Liberation Sans', sans-serif" fill="#333" text-anchor="middle" stroke="#333" stroke-width="0.15">0</text>
<text x="145.67" y="431.30" font-size="7.2" font-family="'Liberation Sans', sans-serif" fill="#333" text-anchor="middle" stroke="#333" stroke-width="0.15">50</text>
<text x="168.93" y="431.30" font-size="7.2" font-family="'Liberation Sans', sans-serif" fill="#333" text-anchor="middle" stroke="#333" stroke-width="0.15">100</text>
<text x="194.70" y="431.30" font-size="7.2" font-family="'Liberation Sans', sans-serif" fill="#333" text-anchor="middle" stroke="#333" stroke-width="0.15">150</text>
<text x="122.60" y="322.40" font-size="6.6" font-family="'Liberation Sans', sans-serif" fill="#333" stroke="#333" stroke-width="0.15">x 10</text>
<text x="137.30" y="318.70" font-size="4.6" font-family="'Liberation Sans', sans-serif" fill="#333" stroke="#333" stroke-width="0.15">-5</text>
<text x="160.90" y="370.90" font-size="7.0" font-family="'Liberation Sans', sans-serif" fill="#333" stroke="#333" stroke-width="0.15">6 kV/cm</text>
<text x="160.90" y="378.30" font-size="7.0" font-family="'Liberation Sans', sans-serif" fill="#333" stroke="#333" stroke-width="0.15">TM</text>
<text x="157.30" y="437.70" font-size="7.3" font-family="'Liberation Sans', sans-serif" fill="#333" text-anchor="middle" textLength="74.5" lengthAdjust="spacingAndGlyphs" stroke="#333" stroke-width="0.15">Photon Energy (meV)</text>
</svg>
</body></html>
